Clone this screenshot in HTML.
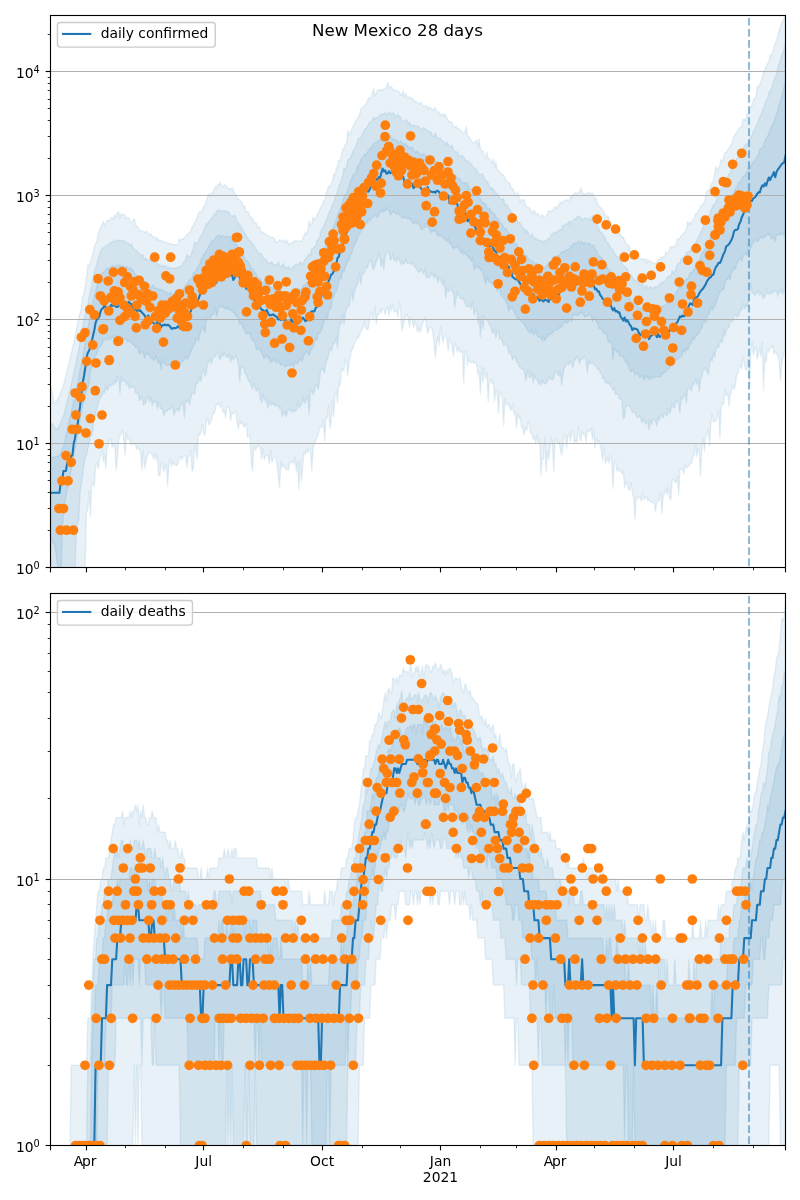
<!DOCTYPE html>
<html lang="en"><head><meta charset="utf-8"><title>New Mexico 28 days</title>
<style>html,body{margin:0;padding:0;background:#fff}svg{display:block;will-change:transform}</style></head>
<body>
<svg width="800" height="1200" viewBox="0 0 800 1200" font-family="'DejaVu Sans', 'Liberation Sans', sans-serif" font-size="13.89px" fill="#000">
<defs><clipPath id="cu"><rect x="50.5" y="15.5" width="735.0" height="552.0"/></clipPath><clipPath id="cl"><rect x="50.5" y="593.5" width="735.0" height="552.0"/></clipPath></defs>
<rect width="800" height="1200" fill="#fff"/>
<g clip-path="url(#cu)">
<path d="M50.5,384.9 L51.8,391.6 L53.1,397.4 L54.4,403.5 L55.6,401.9 L56.9,400.0 L58.2,398.6 L59.5,395.3 L60.8,392.4 L62.1,388.8 L63.4,385.7 L64.7,380.4 L65.9,375.7 L67.2,370.1 L68.5,364.9 L69.8,360.1 L71.1,354.2 L72.4,348.3 L73.7,342.8 L75.0,337.0 L76.2,331.1 L77.5,324.4 L78.8,316.8 L80.1,312.8 L81.4,306.0 L82.7,296.4 L84.0,293.0 L85.3,286.0 L86.5,278.2 L87.8,264.9 L89.1,266.0 L90.4,262.1 L91.7,257.3 L93.0,253.0 L94.3,247.9 L95.6,243.4 L96.8,241.6 L98.1,234.1 L99.4,230.3 L100.7,227.1 L102.0,224.9 L103.3,221.4 L104.6,226.2 L105.9,222.7 L107.1,220.3 L108.4,221.1 L109.7,220.0 L111.0,217.4 L112.3,217.4 L113.6,219.2 L114.9,214.7 L116.1,217.2 L117.4,213.0 L118.7,211.6 L120.0,218.0 L121.3,213.6 L122.6,215.3 L123.9,214.3 L125.2,216.1 L126.4,218.0 L127.7,217.3 L129.0,218.1 L130.3,221.8 L131.6,222.1 L132.9,220.4 L134.2,218.8 L135.5,223.9 L136.7,226.4 L138.0,226.7 L139.3,231.4 L140.6,230.0 L141.9,231.0 L143.2,231.4 L144.5,232.2 L145.8,231.8 L147.0,231.2 L148.3,233.2 L149.6,235.7 L150.9,233.6 L152.2,236.1 L153.5,237.6 L154.8,236.6 L156.1,240.3 L157.3,237.6 L158.6,240.2 L159.9,240.4 L161.2,241.0 L162.5,240.9 L163.8,241.6 L165.1,242.9 L166.3,242.1 L167.6,243.8 L168.9,243.3 L170.2,243.6 L171.5,244.1 L172.8,244.7 L174.1,245.0 L175.4,244.5 L176.6,245.3 L177.9,244.7 L179.2,238.8 L180.5,240.5 L181.8,239.3 L183.1,239.0 L184.4,237.2 L185.7,236.8 L186.9,234.3 L188.2,233.8 L189.5,231.8 L190.8,231.6 L192.1,226.4 L193.4,225.6 L194.7,222.9 L196.0,219.8 L197.2,217.7 L198.5,213.0 L199.8,211.6 L201.1,211.9 L202.4,210.8 L203.7,206.0 L205.0,206.1 L206.3,201.0 L207.5,197.0 L208.8,193.4 L210.1,196.6 L211.4,192.9 L212.7,193.3 L214.0,189.5 L215.3,186.6 L216.6,188.1 L217.8,184.3 L219.1,185.4 L220.4,182.1 L221.7,186.6 L223.0,187.2 L224.3,184.5 L225.6,185.5 L226.8,186.4 L228.1,188.8 L229.4,188.2 L230.7,189.8 L232.0,187.8 L233.3,190.1 L234.6,193.3 L235.9,195.2 L237.1,198.0 L238.4,198.8 L239.7,200.1 L241.0,201.6 L242.3,202.6 L243.6,206.5 L244.9,206.1 L246.2,212.5 L247.4,211.4 L248.7,212.9 L250.0,216.5 L251.3,217.4 L252.6,218.5 L253.9,222.1 L255.2,222.8 L256.5,223.3 L257.7,228.1 L259.0,226.6 L260.3,228.1 L261.6,233.2 L262.9,232.0 L264.2,232.8 L265.5,234.8 L266.8,235.0 L268.0,235.5 L269.3,236.8 L270.6,237.3 L271.9,236.9 L273.2,237.6 L274.5,239.1 L275.8,241.7 L277.0,241.9 L278.3,241.2 L279.6,239.8 L280.9,241.2 L282.2,240.0 L283.5,242.2 L284.8,239.6 L286.1,242.9 L287.3,240.3 L288.6,245.4 L289.9,242.9 L291.2,243.2 L292.5,243.3 L293.8,240.9 L295.1,240.7 L296.4,240.5 L297.6,240.8 L298.9,241.7 L300.2,240.7 L301.5,241.5 L302.8,238.8 L304.1,235.3 L305.4,232.4 L306.7,234.3 L307.9,229.6 L309.2,220.7 L310.5,226.4 L311.8,223.7 L313.1,217.0 L314.4,219.8 L315.7,218.7 L317.0,215.0 L318.2,212.9 L319.5,210.3 L320.8,206.5 L322.1,205.9 L323.4,200.7 L324.7,201.5 L326.0,193.8 L327.3,190.6 L328.5,186.1 L329.8,187.3 L331.1,183.6 L332.4,180.9 L333.7,173.5 L335.0,176.0 L336.3,168.3 L337.5,166.2 L338.8,160.1 L340.1,161.3 L341.4,155.2 L342.7,149.2 L344.0,148.4 L345.3,144.2 L346.6,143.7 L347.8,130.4 L349.1,135.8 L350.4,132.5 L351.7,129.1 L353.0,127.0 L354.3,122.9 L355.6,121.3 L356.9,119.2 L358.1,117.6 L359.4,115.3 L360.7,109.1 L362.0,107.7 L363.3,107.2 L364.6,105.3 L365.9,104.0 L367.2,101.2 L368.4,98.0 L369.7,98.0 L371.0,97.7 L372.3,94.2 L373.6,88.6 L374.9,96.0 L376.2,93.4 L377.5,90.2 L378.7,89.4 L380.0,90.5 L381.3,89.1 L382.6,90.7 L383.9,88.9 L385.2,88.3 L386.5,87.7 L387.8,82.3 L389.0,88.0 L390.3,87.6 L391.6,86.3 L392.9,89.8 L394.2,90.0 L395.5,90.2 L396.8,90.7 L398.0,91.6 L399.3,91.5 L400.6,94.8 L401.9,95.6 L403.2,90.7 L404.5,97.3 L405.8,93.5 L407.1,97.5 L408.3,97.8 L409.6,96.9 L410.9,97.9 L412.2,98.3 L413.5,99.7 L414.8,102.1 L416.1,101.2 L417.4,102.5 L418.6,103.8 L419.9,103.3 L421.2,102.3 L422.5,105.5 L423.8,105.9 L425.1,106.5 L426.4,105.1 L427.7,109.5 L428.9,106.7 L430.2,107.8 L431.5,108.7 L432.8,110.5 L434.1,108.4 L435.4,108.0 L436.7,111.2 L438.0,112.9 L439.2,112.1 L440.5,115.9 L441.8,113.7 L443.1,116.4 L444.4,113.8 L445.7,115.2 L447.0,118.5 L448.2,119.8 L449.5,121.9 L450.8,121.6 L452.1,122.5 L453.4,126.4 L454.7,127.7 L456.0,125.9 L457.3,128.6 L458.5,128.6 L459.8,129.8 L461.1,130.8 L462.4,132.4 L463.7,132.3 L465.0,132.2 L466.3,126.5 L467.6,136.1 L468.8,137.1 L470.1,138.2 L471.4,141.6 L472.7,142.8 L474.0,142.2 L475.3,142.7 L476.6,139.6 L477.9,147.0 L479.1,139.2 L480.4,149.3 L481.7,150.8 L483.0,150.8 L484.3,156.0 L485.6,158.4 L486.9,151.9 L488.2,158.3 L489.4,158.6 L490.7,161.3 L492.0,163.5 L493.3,158.5 L494.6,168.0 L495.9,161.5 L497.2,170.0 L498.5,170.3 L499.7,171.4 L501.0,173.6 L502.3,175.0 L503.6,174.8 L504.9,178.2 L506.2,180.0 L507.5,182.4 L508.7,181.9 L510.0,183.8 L511.3,188.1 L512.6,188.6 L513.9,191.1 L515.2,193.3 L516.5,195.7 L517.8,192.4 L519.0,197.1 L520.3,202.4 L521.6,199.5 L522.9,200.0 L524.2,199.7 L525.5,205.5 L526.8,206.7 L528.1,206.9 L529.3,208.0 L530.6,210.0 L531.9,213.5 L533.2,210.7 L534.5,210.8 L535.8,214.3 L537.1,213.9 L538.4,213.7 L539.6,216.6 L540.9,217.0 L542.2,214.3 L543.5,217.3 L544.8,217.4 L546.1,216.5 L547.4,214.1 L548.7,210.5 L549.9,211.5 L551.2,211.0 L552.5,210.8 L553.8,208.4 L555.1,206.8 L556.4,208.4 L557.7,206.8 L559.0,205.2 L560.2,202.1 L561.5,203.4 L562.8,201.1 L564.1,201.9 L565.4,200.6 L566.7,199.4 L568.0,200.7 L569.2,201.4 L570.5,196.0 L571.8,198.8 L573.1,194.5 L574.4,193.5 L575.7,192.4 L577.0,193.5 L578.3,192.5 L579.5,192.1 L580.8,188.1 L582.1,191.5 L583.4,194.6 L584.7,194.1 L586.0,193.8 L587.3,193.7 L588.6,192.4 L589.8,192.8 L591.1,194.2 L592.4,192.9 L593.7,195.8 L595.0,199.9 L596.3,198.3 L597.6,204.0 L598.9,206.1 L600.1,206.9 L601.4,208.8 L602.7,210.2 L604.0,211.9 L605.3,215.0 L606.6,216.9 L607.9,215.8 L609.2,219.5 L610.4,222.1 L611.7,225.0 L613.0,225.6 L614.3,228.8 L615.6,231.0 L616.9,229.5 L618.2,231.7 L619.4,234.8 L620.7,233.8 L622.0,237.8 L623.3,236.8 L624.6,240.4 L625.9,242.8 L627.2,244.7 L628.5,244.8 L629.7,247.5 L631.0,253.2 L632.3,251.4 L633.6,256.7 L634.9,256.3 L636.2,255.2 L637.5,254.2 L638.8,255.9 L640.0,259.0 L641.3,258.5 L642.6,259.7 L643.9,258.4 L645.2,259.6 L646.5,263.8 L647.8,258.9 L649.1,262.1 L650.3,261.0 L651.6,261.5 L652.9,262.4 L654.2,263.6 L655.5,263.5 L656.8,261.8 L658.1,259.9 L659.4,259.4 L660.6,256.9 L661.9,257.9 L663.2,256.3 L664.5,258.2 L665.8,251.4 L667.1,254.4 L668.4,253.1 L669.7,249.0 L670.9,246.3 L672.2,247.8 L673.5,246.2 L674.8,246.5 L676.1,245.2 L677.4,238.6 L678.7,239.4 L679.9,237.6 L681.2,235.5 L682.5,234.7 L683.8,232.7 L685.1,231.8 L686.4,228.6 L687.7,221.4 L689.0,224.4 L690.2,222.0 L691.5,223.9 L692.8,219.8 L694.1,219.4 L695.4,213.8 L696.7,214.3 L698.0,210.9 L699.3,210.4 L700.5,205.4 L701.8,205.5 L703.1,203.5 L704.4,202.3 L705.7,196.2 L707.0,191.1 L708.3,190.3 L709.6,189.1 L710.8,185.2 L712.1,182.5 L713.4,181.2 L714.7,173.5 L716.0,166.1 L717.3,170.9 L718.6,167.7 L719.9,164.7 L721.1,159.4 L722.4,161.3 L723.7,157.1 L725.0,152.4 L726.3,152.6 L727.6,150.1 L728.9,148.5 L730.1,145.4 L731.4,145.3 L732.7,139.9 L734.0,136.0 L735.3,134.7 L736.6,132.6 L737.9,130.4 L739.2,128.2 L740.4,127.6 L741.7,126.6 L743.0,119.4 L744.3,119.2 L745.6,120.9 L746.9,113.7 L748.2,114.6 L749.5,110.9 L750.7,106.4 L752.0,105.7 L753.3,100.1 L754.6,97.8 L755.9,97.7 L757.2,86.3 L758.5,87.6 L759.8,84.2 L761.0,81.2 L762.3,76.7 L763.6,71.8 L764.9,69.1 L766.2,66.8 L767.5,63.7 L768.8,61.6 L770.1,54.8 L771.3,56.7 L772.6,52.0 L773.9,47.4 L775.2,43.5 L776.5,39.7 L777.8,36.9 L779.1,30.0 L780.4,26.9 L781.6,22.8 L782.9,21.5 L784.2,17.8 L785.5,9.6 L785.5,352.2 L784.2,351.7 L782.9,358.0 L781.6,364.5 L780.4,381.6 L779.1,360.5 L777.8,355.4 L776.5,354.0 L775.2,351.5 L773.9,353.9 L772.6,345.4 L771.3,347.9 L770.1,347.5 L768.8,352.1 L767.5,349.0 L766.2,362.2 L764.9,356.8 L763.6,389.6 L762.3,342.4 L761.0,356.8 L759.8,348.6 L758.5,353.5 L757.2,359.0 L755.9,346.7 L754.6,348.5 L753.3,355.4 L752.0,341.6 L750.7,354.7 L749.5,388.6 L748.2,358.8 L746.9,369.9 L745.6,369.9 L744.3,363.8 L743.0,356.5 L741.7,369.1 L740.4,365.5 L739.2,367.1 L737.9,373.3 L736.6,375.2 L735.3,386.0 L734.0,389.2 L732.7,384.8 L731.4,391.5 L730.1,395.3 L728.9,406.3 L727.6,393.6 L726.3,396.1 L725.0,389.4 L723.7,404.2 L722.4,402.7 L721.1,408.7 L719.9,438.3 L718.6,410.5 L717.3,417.1 L716.0,420.2 L714.7,421.4 L713.4,422.1 L712.1,414.2 L710.8,425.3 L709.6,446.2 L708.3,428.4 L707.0,435.3 L705.7,437.0 L704.4,451.5 L703.1,438.1 L701.8,450.2 L700.5,476.2 L699.3,453.3 L698.0,448.4 L696.7,457.0 L695.4,443.8 L694.1,455.9 L692.8,457.3 L691.5,463.1 L690.2,463.6 L689.0,466.0 L687.7,466.3 L686.4,468.0 L685.1,464.8 L683.8,473.7 L682.5,469.0 L681.2,469.2 L679.9,469.5 L678.7,495.4 L677.4,476.5 L676.1,482.7 L674.8,481.9 L673.5,479.5 L672.2,479.9 L670.9,499.9 L669.7,498.1 L668.4,487.5 L667.1,494.8 L665.8,488.9 L664.5,493.8 L663.2,496.7 L661.9,513.5 L660.6,492.4 L659.4,500.0 L658.1,501.5 L656.8,502.5 L655.5,511.8 L654.2,503.3 L652.9,502.6 L651.6,502.2 L650.3,501.5 L649.1,498.7 L647.8,500.9 L646.5,496.9 L645.2,497.4 L643.9,499.8 L642.6,492.0 L641.3,501.5 L640.0,496.3 L638.8,498.1 L637.5,498.8 L636.2,495.9 L634.9,519.6 L633.6,498.4 L632.3,492.8 L631.0,482.7 L629.7,490.5 L628.5,489.5 L627.2,482.5 L625.9,483.0 L624.6,487.5 L623.3,471.8 L622.0,473.5 L620.7,470.9 L619.4,471.4 L618.2,468.2 L616.9,471.3 L615.6,462.0 L614.3,461.8 L613.0,488.8 L611.7,461.2 L610.4,455.1 L609.2,463.4 L607.9,456.9 L606.6,461.4 L605.3,462.7 L604.0,447.2 L602.7,460.5 L601.4,451.0 L600.1,445.4 L598.9,440.4 L597.6,442.9 L596.3,437.5 L595.0,448.4 L593.7,428.2 L592.4,440.0 L591.1,428.1 L589.8,430.8 L588.6,432.2 L587.3,429.5 L586.0,441.9 L584.7,433.7 L583.4,434.9 L582.1,430.6 L580.8,441.2 L579.5,435.4 L578.3,426.2 L577.0,442.2 L575.7,440.4 L574.4,442.9 L573.1,431.7 L571.8,431.9 L570.5,441.1 L569.2,433.6 L568.0,434.9 L566.7,448.0 L565.4,435.6 L564.1,434.4 L562.8,448.4 L561.5,454.9 L560.2,448.1 L559.0,442.4 L557.7,443.2 L556.4,439.9 L555.1,439.0 L553.8,472.2 L552.5,445.1 L551.2,437.1 L549.9,449.0 L548.7,459.2 L547.4,451.5 L546.1,472.3 L544.8,437.4 L543.5,459.7 L542.2,457.5 L540.9,475.6 L539.6,440.0 L538.4,443.1 L537.1,434.3 L535.8,443.9 L534.5,436.0 L533.2,439.5 L531.9,433.6 L530.6,433.2 L529.3,424.7 L528.1,422.1 L526.8,430.5 L525.5,427.1 L524.2,435.4 L522.9,428.1 L521.6,427.4 L520.3,416.2 L519.0,418.6 L517.8,414.0 L516.5,428.1 L515.2,411.8 L513.9,414.1 L512.6,404.0 L511.3,410.4 L510.0,408.5 L508.7,405.2 L507.5,403.1 L506.2,404.9 L504.9,399.0 L503.6,426.1 L502.3,397.0 L501.0,394.7 L499.7,390.7 L498.5,413.6 L497.2,392.0 L495.9,390.1 L494.6,401.0 L493.3,380.8 L492.0,384.1 L490.7,378.5 L489.4,382.1 L488.2,401.9 L486.9,372.8 L485.6,378.2 L484.3,367.6 L483.0,382.8 L481.7,365.6 L480.4,394.2 L479.1,371.5 L477.9,374.5 L476.6,364.2 L475.3,361.9 L474.0,363.4 L472.7,360.9 L471.4,362.8 L470.1,362.1 L468.8,358.3 L467.6,365.1 L466.3,351.1 L465.0,350.4 L463.7,383.4 L462.4,350.5 L461.1,352.4 L459.8,351.7 L458.5,347.4 L457.3,352.4 L456.0,346.2 L454.7,342.7 L453.4,356.4 L452.1,347.1 L450.8,341.2 L449.5,338.2 L448.2,351.3 L447.0,339.9 L445.7,335.1 L444.4,335.6 L443.1,342.7 L441.8,336.8 L440.5,326.2 L439.2,345.1 L438.0,336.7 L436.7,342.4 L435.4,358.0 L434.1,343.8 L432.8,332.6 L431.5,327.7 L430.2,327.0 L428.9,329.5 L427.7,333.3 L426.4,325.7 L425.1,317.0 L423.8,320.5 L422.5,323.9 L421.2,329.4 L419.9,332.2 L418.6,327.0 L417.4,331.8 L416.1,325.6 L414.8,320.8 L413.5,327.9 L412.2,320.2 L410.9,317.1 L409.6,327.6 L408.3,319.5 L407.1,314.5 L405.8,315.4 L404.5,320.6 L403.2,325.7 L401.9,331.4 L400.6,309.4 L399.3,301.2 L398.0,317.1 L396.8,310.5 L395.5,311.9 L394.2,312.0 L392.9,304.1 L391.6,311.2 L390.3,305.3 L389.0,315.1 L387.8,306.8 L386.5,310.2 L385.2,314.6 L383.9,309.3 L382.6,308.4 L381.3,313.3 L380.0,309.1 L378.7,315.0 L377.5,314.6 L376.2,324.1 L374.9,305.8 L373.6,320.1 L372.3,316.9 L371.0,312.5 L369.7,320.2 L368.4,328.2 L367.2,330.0 L365.9,328.3 L364.6,321.3 L363.3,327.5 L362.0,329.8 L360.7,331.8 L359.4,335.4 L358.1,338.5 L356.9,337.3 L355.6,341.6 L354.3,343.3 L353.0,348.7 L351.7,349.5 L350.4,355.3 L349.1,362.2 L347.8,376.3 L346.6,362.6 L345.3,358.9 L344.0,369.9 L342.7,371.0 L341.4,368.5 L340.1,385.9 L338.8,383.1 L337.5,403.0 L336.3,390.7 L335.0,394.6 L333.7,417.0 L332.4,399.7 L331.1,422.2 L329.8,428.1 L328.5,405.1 L327.3,418.5 L326.0,417.7 L324.7,441.4 L323.4,419.2 L322.1,427.2 L320.8,426.0 L319.5,428.7 L318.2,434.9 L317.0,437.2 L315.7,441.0 L314.4,443.6 L313.1,447.7 L311.8,471.0 L310.5,450.4 L309.2,448.9 L307.9,452.9 L306.7,449.4 L305.4,454.8 L304.1,451.6 L302.8,465.9 L301.5,481.4 L300.2,459.7 L298.9,489.2 L297.6,461.4 L296.4,472.2 L295.1,457.1 L293.8,464.3 L292.5,460.5 L291.2,462.8 L289.9,461.4 L288.6,469.9 L287.3,468.8 L286.1,469.7 L284.8,466.9 L283.5,464.0 L282.2,467.5 L280.9,461.4 L279.6,488.0 L278.3,476.4 L277.0,463.8 L275.8,456.2 L274.5,457.1 L273.2,458.4 L271.9,462.5 L270.6,450.9 L269.3,464.1 L268.0,454.9 L266.8,455.5 L265.5,455.9 L264.2,459.9 L262.9,448.6 L261.6,459.3 L260.3,447.6 L259.0,445.8 L257.7,446.0 L256.5,448.2 L255.2,450.2 L253.9,445.8 L252.6,471.0 L251.3,464.1 L250.0,435.1 L248.7,435.8 L247.4,437.0 L246.2,423.3 L244.9,426.6 L243.6,426.8 L242.3,422.3 L241.0,424.2 L239.7,420.4 L238.4,429.2 L237.1,422.7 L235.9,411.9 L234.6,411.3 L233.3,414.2 L232.0,412.7 L230.7,420.2 L229.4,409.4 L228.1,406.2 L226.8,407.7 L225.6,417.9 L224.3,410.2 L223.0,412.4 L221.7,401.6 L220.4,407.8 L219.1,403.3 L217.8,404.9 L216.6,404.1 L215.3,409.9 L214.0,414.1 L212.7,414.0 L211.4,421.2 L210.1,422.9 L208.8,424.8 L207.5,417.7 L206.3,421.6 L205.0,435.0 L203.7,433.3 L202.4,424.7 L201.1,431.1 L199.8,434.9 L198.5,433.7 L197.2,459.0 L196.0,450.5 L194.7,443.7 L193.4,467.8 L192.1,471.8 L190.8,450.5 L189.5,455.3 L188.2,457.4 L186.9,467.8 L185.7,455.8 L184.4,456.2 L183.1,456.4 L181.8,459.5 L180.5,456.5 L179.2,458.7 L177.9,463.9 L176.6,465.7 L175.4,464.6 L174.1,464.7 L172.8,460.8 L171.5,466.5 L170.2,458.3 L168.9,465.9 L167.6,486.0 L166.3,464.5 L165.1,467.4 L163.8,472.2 L162.5,462.3 L161.2,464.1 L159.9,475.5 L158.6,475.3 L157.3,455.3 L156.1,460.1 L154.8,453.4 L153.5,459.0 L152.2,454.5 L150.9,453.0 L149.6,452.3 L148.3,453.4 L147.0,456.4 L145.8,462.9 L144.5,468.3 L143.2,451.2 L141.9,470.1 L140.6,452.5 L139.3,448.9 L138.0,447.7 L136.7,449.5 L135.5,444.3 L134.2,443.9 L132.9,443.0 L131.6,445.5 L130.3,442.1 L129.0,438.9 L127.7,439.5 L126.4,432.9 L125.2,455.1 L123.9,441.9 L122.6,429.9 L121.3,433.8 L120.0,436.3 L118.7,439.6 L117.4,459.8 L116.1,470.0 L114.9,447.7 L113.6,443.6 L112.3,447.9 L111.0,440.3 L109.7,438.6 L108.4,445.6 L107.1,447.8 L105.9,468.9 L104.6,455.1 L103.3,461.8 L102.0,449.0 L100.7,454.8 L99.4,460.9 L98.1,468.7 L96.8,462.3 L95.6,466.1 L94.3,486.5 L93.0,481.4 L91.7,486.0 L90.4,517.2 L89.1,491.0 L87.8,509.8 L86.5,511.8 L85.3,560.6 L84.0,595.2 L82.7,603.1 L81.4,603.6 L80.1,599.4 L78.8,624.2 L77.5,602.5 L76.2,599.8 L75.0,599.9 L73.7,600.9 L72.4,599.9 L71.1,599.4 L69.8,600.5 L68.5,600.7 L67.2,600.9 L65.9,599.9 L64.7,600.8 L63.4,599.5 L62.1,600.3 L60.8,599.4 L59.5,599.0 L58.2,602.4 L56.9,600.5 L55.6,599.9 L54.4,600.2 L53.1,602.5 L51.8,600.3 L50.5,600.7Z" fill="#1f77b4" fill-opacity="0.1" stroke="#1f77b4" stroke-opacity="0.1" stroke-width="1.39" stroke-linejoin="round"/>
<path d="M50.5,422.2 L51.8,423.5 L53.1,425.3 L54.4,426.8 L55.6,428.4 L56.9,429.8 L58.2,427.9 L59.5,425.0 L60.8,422.0 L62.1,419.2 L63.4,416.1 L64.7,411.7 L65.9,406.3 L67.2,401.1 L68.5,396.1 L69.8,390.8 L71.1,385.2 L72.4,379.4 L73.7,373.6 L75.0,367.9 L76.2,361.9 L77.5,355.1 L78.8,350.0 L80.1,341.5 L81.4,334.4 L82.7,327.4 L84.0,318.0 L85.3,315.2 L86.5,309.9 L87.8,305.2 L89.1,297.2 L90.4,292.1 L91.7,285.5 L93.0,279.2 L94.3,272.0 L95.6,268.0 L96.8,264.1 L98.1,258.9 L99.4,255.3 L100.7,250.8 L102.0,249.2 L103.3,247.6 L104.6,247.2 L105.9,246.1 L107.1,245.1 L108.4,245.4 L109.7,243.0 L111.0,243.0 L112.3,241.1 L113.6,241.4 L114.9,241.8 L116.1,239.8 L117.4,240.8 L118.7,240.5 L120.0,240.0 L121.3,240.4 L122.6,241.8 L123.9,240.6 L125.2,241.5 L126.4,242.5 L127.7,243.3 L129.0,243.4 L130.3,246.0 L131.6,243.8 L132.9,248.0 L134.2,249.0 L135.5,250.4 L136.7,250.5 L138.0,252.4 L139.3,253.4 L140.6,256.3 L141.9,254.5 L143.2,255.6 L144.5,259.6 L145.8,257.8 L147.0,260.7 L148.3,259.8 L149.6,259.1 L150.9,260.3 L152.2,262.4 L153.5,262.3 L154.8,258.6 L156.1,262.9 L157.3,263.0 L158.6,266.4 L159.9,264.7 L161.2,265.7 L162.5,267.4 L163.8,265.2 L165.1,267.1 L166.3,266.4 L167.6,268.2 L168.9,267.5 L170.2,267.6 L171.5,268.5 L172.8,268.4 L174.1,268.2 L175.4,268.7 L176.6,267.2 L177.9,267.5 L179.2,267.3 L180.5,266.0 L181.8,266.1 L183.1,262.4 L184.4,261.9 L185.7,259.4 L186.9,254.6 L188.2,256.3 L189.5,257.2 L190.8,256.1 L192.1,251.2 L193.4,249.7 L194.7,241.9 L196.0,243.7 L197.2,242.9 L198.5,241.4 L199.8,237.5 L201.1,235.9 L202.4,233.7 L203.7,229.9 L205.0,228.1 L206.3,222.8 L207.5,224.6 L208.8,221.7 L210.1,220.2 L211.4,218.1 L212.7,217.0 L214.0,214.0 L215.3,214.8 L216.6,211.5 L217.8,209.9 L219.1,210.5 L220.4,210.3 L221.7,211.4 L223.0,210.5 L224.3,210.6 L225.6,211.3 L226.8,211.5 L228.1,212.0 L229.4,213.0 L230.7,215.9 L232.0,215.9 L233.3,215.9 L234.6,215.0 L235.9,217.8 L237.1,220.9 L238.4,223.1 L239.7,225.4 L241.0,226.4 L242.3,229.2 L243.6,230.7 L244.9,233.6 L246.2,235.1 L247.4,237.8 L248.7,239.6 L250.0,241.1 L251.3,241.4 L252.6,244.1 L253.9,245.1 L255.2,248.4 L256.5,249.4 L257.7,252.0 L259.0,253.3 L260.3,254.8 L261.6,253.3 L262.9,257.4 L264.2,259.9 L265.5,258.5 L266.8,261.0 L268.0,262.8 L269.3,263.1 L270.6,263.4 L271.9,261.5 L273.2,264.9 L274.5,264.5 L275.8,264.5 L277.0,265.3 L278.3,261.7 L279.6,265.6 L280.9,267.6 L282.2,265.6 L283.5,263.5 L284.8,268.0 L286.1,267.0 L287.3,268.4 L288.6,266.2 L289.9,269.6 L291.2,268.7 L292.5,267.0 L293.8,266.8 L295.1,264.9 L296.4,264.1 L297.6,264.4 L298.9,264.6 L300.2,262.1 L301.5,263.1 L302.8,264.0 L304.1,261.0 L305.4,258.8 L306.7,257.1 L307.9,255.6 L309.2,253.7 L310.5,255.6 L311.8,248.6 L313.1,248.4 L314.4,246.5 L315.7,246.1 L317.0,240.5 L318.2,239.6 L319.5,237.7 L320.8,232.0 L322.1,228.3 L323.4,227.0 L324.7,224.8 L326.0,220.3 L327.3,217.5 L328.5,214.0 L329.8,210.7 L331.1,209.5 L332.4,204.1 L333.7,202.6 L335.0,197.4 L336.3,194.9 L337.5,191.6 L338.8,185.8 L340.1,183.7 L341.4,180.3 L342.7,176.0 L344.0,167.6 L345.3,169.9 L346.6,166.7 L347.8,159.7 L349.1,159.6 L350.4,157.7 L351.7,154.7 L353.0,151.1 L354.3,148.9 L355.6,147.1 L356.9,143.4 L358.1,139.2 L359.4,138.1 L360.7,138.9 L362.0,134.4 L363.3,133.1 L364.6,129.1 L365.9,129.4 L367.2,126.6 L368.4,124.4 L369.7,122.5 L371.0,122.7 L372.3,120.4 L373.6,117.2 L374.9,119.4 L376.2,117.8 L377.5,117.9 L378.7,116.4 L380.0,114.9 L381.3,114.7 L382.6,113.4 L383.9,115.0 L385.2,113.0 L386.5,113.3 L387.8,115.9 L389.0,111.7 L390.3,113.0 L391.6,114.2 L392.9,112.9 L394.2,114.1 L395.5,117.9 L396.8,115.6 L398.0,114.2 L399.3,117.2 L400.6,117.3 L401.9,120.7 L403.2,121.2 L404.5,121.7 L405.8,119.5 L407.1,120.4 L408.3,124.8 L409.6,121.8 L410.9,125.7 L412.2,125.6 L413.5,124.8 L414.8,126.1 L416.1,126.0 L417.4,126.4 L418.6,126.0 L419.9,128.4 L421.2,129.3 L422.5,130.0 L423.8,127.2 L425.1,129.2 L426.4,129.7 L427.7,131.0 L428.9,132.0 L430.2,131.3 L431.5,133.6 L432.8,135.8 L434.1,136.6 L435.4,132.8 L436.7,137.6 L438.0,138.0 L439.2,138.4 L440.5,138.0 L441.8,141.4 L443.1,141.4 L444.4,141.7 L445.7,144.6 L447.0,142.2 L448.2,144.1 L449.5,146.1 L450.8,147.2 L452.1,144.9 L453.4,149.5 L454.7,151.0 L456.0,152.2 L457.3,151.8 L458.5,155.6 L459.8,156.2 L461.1,155.1 L462.4,155.7 L463.7,157.9 L465.0,158.1 L466.3,161.9 L467.6,160.5 L468.8,162.0 L470.1,162.9 L471.4,164.0 L472.7,166.8 L474.0,167.8 L475.3,168.4 L476.6,169.9 L477.9,172.9 L479.1,174.0 L480.4,174.3 L481.7,174.0 L483.0,174.5 L484.3,178.4 L485.6,180.5 L486.9,181.3 L488.2,183.1 L489.4,185.6 L490.7,189.7 L492.0,187.3 L493.3,189.7 L494.6,190.6 L495.9,193.1 L497.2,193.9 L498.5,195.0 L499.7,198.2 L501.0,199.2 L502.3,199.4 L503.6,198.6 L504.9,205.5 L506.2,204.4 L507.5,205.6 L508.7,208.3 L510.0,210.0 L511.3,211.7 L512.6,213.6 L513.9,216.3 L515.2,216.1 L516.5,219.4 L517.8,222.7 L519.0,222.2 L520.3,223.4 L521.6,225.4 L522.9,228.5 L524.2,228.2 L525.5,233.6 L526.8,229.9 L528.1,232.5 L529.3,236.4 L530.6,237.8 L531.9,233.7 L533.2,236.9 L534.5,238.7 L535.8,238.3 L537.1,239.6 L538.4,240.2 L539.6,240.2 L540.9,240.6 L542.2,242.4 L543.5,241.0 L544.8,241.0 L546.1,241.8 L547.4,238.9 L548.7,238.3 L549.9,238.9 L551.2,234.4 L552.5,234.5 L553.8,232.3 L555.1,233.6 L556.4,232.3 L557.7,230.7 L559.0,230.4 L560.2,229.4 L561.5,230.0 L562.8,225.3 L564.1,226.2 L565.4,224.5 L566.7,223.2 L568.0,224.2 L569.2,220.8 L570.5,224.5 L571.8,221.2 L573.1,220.4 L574.4,218.6 L575.7,219.6 L577.0,217.0 L578.3,215.7 L579.5,217.7 L580.8,217.3 L582.1,220.5 L583.4,219.0 L584.7,217.8 L586.0,219.1 L587.3,218.2 L588.6,219.1 L589.8,218.4 L591.1,220.8 L592.4,215.5 L593.7,219.9 L595.0,222.4 L596.3,222.7 L597.6,227.2 L598.9,228.2 L600.1,232.7 L601.4,232.0 L602.7,233.8 L604.0,237.1 L605.3,237.5 L606.6,242.0 L607.9,243.1 L609.2,244.5 L610.4,247.7 L611.7,249.1 L613.0,249.4 L614.3,252.7 L615.6,255.2 L616.9,256.3 L618.2,257.3 L619.4,260.0 L620.7,260.5 L622.0,263.7 L623.3,265.9 L624.6,265.9 L625.9,267.9 L627.2,268.5 L628.5,273.2 L629.7,274.3 L631.0,274.4 L632.3,276.8 L633.6,279.2 L634.9,280.7 L636.2,280.0 L637.5,281.7 L638.8,283.5 L640.0,284.0 L641.3,284.8 L642.6,284.0 L643.9,288.6 L645.2,287.0 L646.5,285.4 L647.8,289.0 L649.1,287.6 L650.3,286.4 L651.6,288.7 L652.9,287.6 L654.2,287.7 L655.5,286.1 L656.8,286.5 L658.1,286.4 L659.4,284.5 L660.6,283.7 L661.9,282.0 L663.2,282.8 L664.5,281.5 L665.8,280.7 L667.1,277.4 L668.4,275.9 L669.7,276.6 L670.9,276.6 L672.2,270.6 L673.5,273.3 L674.8,271.5 L676.1,268.5 L677.4,264.1 L678.7,263.2 L679.9,262.9 L681.2,258.6 L682.5,259.3 L683.8,256.1 L685.1,256.1 L686.4,252.2 L687.7,251.8 L689.0,251.5 L690.2,251.2 L691.5,246.4 L692.8,245.3 L694.1,245.2 L695.4,243.1 L696.7,240.5 L698.0,238.1 L699.3,235.5 L700.5,232.8 L701.8,230.1 L703.1,228.1 L704.4,220.4 L705.7,222.3 L707.0,219.9 L708.3,215.9 L709.6,214.8 L710.8,210.7 L712.1,208.3 L713.4,204.6 L714.7,204.1 L716.0,202.4 L717.3,196.2 L718.6,195.0 L719.9,190.1 L721.1,188.6 L722.4,187.2 L723.7,183.7 L725.0,182.8 L726.3,180.1 L727.6,176.6 L728.9,174.0 L730.1,173.5 L731.4,168.4 L732.7,166.3 L734.0,163.4 L735.3,163.8 L736.6,159.3 L737.9,157.4 L739.2,156.1 L740.4,152.1 L741.7,151.3 L743.0,148.7 L744.3,146.4 L745.6,144.2 L746.9,144.6 L748.2,142.8 L749.5,139.5 L750.7,136.8 L752.0,135.5 L753.3,131.5 L754.6,130.1 L755.9,126.6 L757.2,123.5 L758.5,120.2 L759.8,116.7 L761.0,114.6 L762.3,110.9 L763.6,108.7 L764.9,103.8 L766.2,100.7 L767.5,98.7 L768.8,92.7 L770.1,91.5 L771.3,88.4 L772.6,85.0 L773.9,80.6 L775.2,76.9 L776.5,74.2 L777.8,66.9 L779.1,64.4 L780.4,59.6 L781.6,56.1 L782.9,52.5 L784.2,48.3 L785.5,42.1 L785.5,290.4 L784.2,289.4 L782.9,294.6 L781.6,287.8 L780.4,292.8 L779.1,289.8 L777.8,296.6 L776.5,290.1 L775.2,290.9 L773.9,290.7 L772.6,293.3 L771.3,293.4 L770.1,292.3 L768.8,294.2 L767.5,294.0 L766.2,288.1 L764.9,296.8 L763.6,298.7 L762.3,296.1 L761.0,292.6 L759.8,294.9 L758.5,290.8 L757.2,292.4 L755.9,294.0 L754.6,295.1 L753.3,293.1 L752.0,292.8 L750.7,282.7 L749.5,294.6 L748.2,304.0 L746.9,307.6 L745.6,304.4 L744.3,309.0 L743.0,303.4 L741.7,310.6 L740.4,308.7 L739.2,314.1 L737.9,316.1 L736.6,316.7 L735.3,314.3 L734.0,315.3 L732.7,322.0 L731.4,321.6 L730.1,320.5 L728.9,327.6 L727.6,328.5 L726.3,330.0 L725.0,336.7 L723.7,329.5 L722.4,342.5 L721.1,340.1 L719.9,343.2 L718.6,347.7 L717.3,345.8 L716.0,350.1 L714.7,356.9 L713.4,352.8 L712.1,361.3 L710.8,358.4 L709.6,365.2 L708.3,374.9 L707.0,371.1 L705.7,370.0 L704.4,368.1 L703.1,370.7 L701.8,376.8 L700.5,379.3 L699.3,391.6 L698.0,379.2 L696.7,384.6 L695.4,378.8 L694.1,384.5 L692.8,383.9 L691.5,390.9 L690.2,389.0 L689.0,388.0 L687.7,389.3 L686.4,403.5 L685.1,393.3 L683.8,396.3 L682.5,399.7 L681.2,397.2 L679.9,413.4 L678.7,404.0 L677.4,401.6 L676.1,400.3 L674.8,406.7 L673.5,408.1 L672.2,402.4 L670.9,409.6 L669.7,413.6 L668.4,408.3 L667.1,416.0 L665.8,413.7 L664.5,413.3 L663.2,417.9 L661.9,416.3 L660.6,415.2 L659.4,420.6 L658.1,416.5 L656.8,426.2 L655.5,421.2 L654.2,419.7 L652.9,418.4 L651.6,425.0 L650.3,420.1 L649.1,430.1 L647.8,420.8 L646.5,423.5 L645.2,423.9 L643.9,417.9 L642.6,423.1 L641.3,421.2 L640.0,415.1 L638.8,416.8 L637.5,418.1 L636.2,415.2 L634.9,412.5 L633.6,412.6 L632.3,412.3 L631.0,409.3 L629.7,405.1 L628.5,405.6 L627.2,405.8 L625.9,406.5 L624.6,417.2 L623.3,418.9 L622.0,399.8 L620.7,399.3 L619.4,398.5 L618.2,394.6 L616.9,393.6 L615.6,394.8 L614.3,387.4 L613.0,390.1 L611.7,387.6 L610.4,386.2 L609.2,383.2 L607.9,384.0 L606.6,382.1 L605.3,382.9 L604.0,377.4 L602.7,379.2 L601.4,373.7 L600.1,373.0 L598.9,368.2 L597.6,369.5 L596.3,366.8 L595.0,364.8 L593.7,364.4 L592.4,362.0 L591.1,362.9 L589.8,364.2 L588.6,360.7 L587.3,372.7 L586.0,360.6 L584.7,356.4 L583.4,357.6 L582.1,359.8 L580.8,358.3 L579.5,363.9 L578.3,359.3 L577.0,355.3 L575.7,359.9 L574.4,359.5 L573.1,368.2 L571.8,363.6 L570.5,361.2 L569.2,364.9 L568.0,362.5 L566.7,364.1 L565.4,366.2 L564.1,368.4 L562.8,375.9 L561.5,385.3 L560.2,370.6 L559.0,375.7 L557.7,375.1 L556.4,371.6 L555.1,371.7 L553.8,377.9 L552.5,379.9 L551.2,379.7 L549.9,377.9 L548.7,377.4 L547.4,381.5 L546.1,383.2 L544.8,384.1 L543.5,383.1 L542.2,379.6 L540.9,385.5 L539.6,381.1 L538.4,384.0 L537.1,379.0 L535.8,378.9 L534.5,374.1 L533.2,383.0 L531.9,371.5 L530.6,377.6 L529.3,377.6 L528.1,369.4 L526.8,376.6 L525.5,380.6 L524.2,370.2 L522.9,369.0 L521.6,368.8 L520.3,367.5 L519.0,366.3 L517.8,361.9 L516.5,362.3 L515.2,357.2 L513.9,357.2 L512.6,360.3 L511.3,355.0 L510.0,351.2 L508.7,353.6 L507.5,345.4 L506.2,344.9 L504.9,343.6 L503.6,345.6 L502.3,340.8 L501.0,337.5 L499.7,339.2 L498.5,331.2 L497.2,330.9 L495.9,337.8 L494.6,329.1 L493.3,332.8 L492.0,332.4 L490.7,325.0 L489.4,325.2 L488.2,321.4 L486.9,320.1 L485.6,317.7 L484.3,315.5 L483.0,329.2 L481.7,315.4 L480.4,337.1 L479.1,317.3 L477.9,323.2 L476.6,308.4 L475.3,310.5 L474.0,315.5 L472.7,300.2 L471.4,308.6 L470.1,304.2 L468.8,306.9 L467.6,306.5 L466.3,306.2 L465.0,302.6 L463.7,300.4 L462.4,297.7 L461.1,298.7 L459.8,298.3 L458.5,294.8 L457.3,291.4 L456.0,299.3 L454.7,307.4 L453.4,292.3 L452.1,291.3 L450.8,286.7 L449.5,290.2 L448.2,291.8 L447.0,287.7 L445.7,298.5 L444.4,280.3 L443.1,285.8 L441.8,282.7 L440.5,279.6 L439.2,277.0 L438.0,283.1 L436.7,278.3 L435.4,273.9 L434.1,278.3 L432.8,274.6 L431.5,272.8 L430.2,276.9 L428.9,277.8 L427.7,276.5 L426.4,277.9 L425.1,268.7 L423.8,273.9 L422.5,271.6 L421.2,268.8 L419.9,272.2 L418.6,271.9 L417.4,270.7 L416.1,268.7 L414.8,266.3 L413.5,265.3 L412.2,262.1 L410.9,264.8 L409.6,263.0 L408.3,262.8 L407.1,263.5 L405.8,258.9 L404.5,263.4 L403.2,264.2 L401.9,261.2 L400.6,264.3 L399.3,259.4 L398.0,257.4 L396.8,262.0 L395.5,257.6 L394.2,261.3 L392.9,253.7 L391.6,258.8 L390.3,260.4 L389.0,252.8 L387.8,252.0 L386.5,253.2 L385.2,256.3 L383.9,269.9 L382.6,259.4 L381.3,266.8 L380.0,258.8 L378.7,251.9 L377.5,259.1 L376.2,261.5 L374.9,265.9 L373.6,270.0 L372.3,267.5 L371.0,260.1 L369.7,261.3 L368.4,264.2 L367.2,268.5 L365.9,266.7 L364.6,271.6 L363.3,274.2 L362.0,273.8 L360.7,284.3 L359.4,273.0 L358.1,282.8 L356.9,285.7 L355.6,287.8 L354.3,293.3 L353.0,301.4 L351.7,289.6 L350.4,297.3 L349.1,306.1 L347.8,306.2 L346.6,308.0 L345.3,314.4 L344.0,324.2 L342.7,314.8 L341.4,323.8 L340.1,322.0 L338.8,331.7 L337.5,348.0 L336.3,337.2 L335.0,342.8 L333.7,342.8 L332.4,348.1 L331.1,351.0 L329.8,347.7 L328.5,355.9 L327.3,359.9 L326.0,361.9 L324.7,372.7 L323.4,371.2 L322.1,368.1 L320.8,369.1 L319.5,380.3 L318.2,389.6 L317.0,385.4 L315.7,385.5 L314.4,391.4 L313.1,394.3 L311.8,390.8 L310.5,391.0 L309.2,414.4 L307.9,399.4 L306.7,395.7 L305.4,402.8 L304.1,402.9 L302.8,396.5 L301.5,404.8 L300.2,405.9 L298.9,408.2 L297.6,401.1 L296.4,410.1 L295.1,411.5 L293.8,409.7 L292.5,411.5 L291.2,412.1 L289.9,409.1 L288.6,410.1 L287.3,411.6 L286.1,416.9 L284.8,411.0 L283.5,414.0 L282.2,416.6 L280.9,407.4 L279.6,408.8 L278.3,405.4 L277.0,404.7 L275.8,406.5 L274.5,403.9 L273.2,404.9 L271.9,402.8 L270.6,405.9 L269.3,399.9 L268.0,408.1 L266.8,403.1 L265.5,400.3 L264.2,399.6 L262.9,394.0 L261.6,402.7 L260.3,398.9 L259.0,390.4 L257.7,387.9 L256.5,391.5 L255.2,387.7 L253.9,383.0 L252.6,388.9 L251.3,386.1 L250.0,381.9 L248.7,381.1 L247.4,378.2 L246.2,374.2 L244.9,373.4 L243.6,367.0 L242.3,367.5 L241.0,365.7 L239.7,382.1 L238.4,364.4 L237.1,359.4 L235.9,355.0 L234.6,358.2 L233.3,360.2 L232.0,356.3 L230.7,362.2 L229.4,353.7 L228.1,357.8 L226.8,356.5 L225.6,356.7 L224.3,352.1 L223.0,356.3 L221.7,353.7 L220.4,359.6 L219.1,358.2 L217.8,351.5 L216.6,353.0 L215.3,356.7 L214.0,355.4 L212.7,358.0 L211.4,363.7 L210.1,358.4 L208.8,362.3 L207.5,363.4 L206.3,373.2 L205.0,376.0 L203.7,369.3 L202.4,371.1 L201.1,381.6 L199.8,375.6 L198.5,381.9 L197.2,383.3 L196.0,383.5 L194.7,394.2 L193.4,393.3 L192.1,393.7 L190.8,397.2 L189.5,405.0 L188.2,399.7 L186.9,401.6 L185.7,400.8 L184.4,417.8 L183.1,405.8 L181.8,401.7 L180.5,405.5 L179.2,411.3 L177.9,408.9 L176.6,410.6 L175.4,410.0 L174.1,415.8 L172.8,407.1 L171.5,408.1 L170.2,409.4 L168.9,408.8 L167.6,411.1 L166.3,410.8 L165.1,412.3 L163.8,415.8 L162.5,408.7 L161.2,409.3 L159.9,406.0 L158.6,402.9 L157.3,409.0 L156.1,401.2 L154.8,402.5 L153.5,400.9 L152.2,405.5 L150.9,397.0 L149.6,401.8 L148.3,396.5 L147.0,397.9 L145.8,403.5 L144.5,403.8 L143.2,405.0 L141.9,395.7 L140.6,399.9 L139.3,400.6 L138.0,392.0 L136.7,393.2 L135.5,393.0 L134.2,387.3 L132.9,386.5 L131.6,387.4 L130.3,388.1 L129.0,388.2 L127.7,381.7 L126.4,385.0 L125.2,380.5 L123.9,381.3 L122.6,381.6 L121.3,376.3 L120.0,393.4 L118.7,380.3 L117.4,376.5 L116.1,383.2 L114.9,380.4 L113.6,384.8 L112.3,384.1 L111.0,386.1 L109.7,383.6 L108.4,388.2 L107.1,390.5 L105.9,385.5 L104.6,393.1 L103.3,392.1 L102.0,395.7 L100.7,397.5 L99.4,399.2 L98.1,404.5 L96.8,407.5 L95.6,415.6 L94.3,415.3 L93.0,429.0 L91.7,436.3 L90.4,434.9 L89.1,443.3 L87.8,448.9 L86.5,455.3 L85.3,458.0 L84.0,462.7 L82.7,474.6 L81.4,483.8 L80.1,492.4 L78.8,520.4 L77.5,523.7 L76.2,536.1 L75.0,569.0 L73.7,602.0 L72.4,599.7 L71.1,600.0 L69.8,600.1 L68.5,600.7 L67.2,598.9 L65.9,601.1 L64.7,600.6 L63.4,600.8 L62.1,599.5 L60.8,599.3 L59.5,599.4 L58.2,600.2 L56.9,599.7 L55.6,600.4 L54.4,599.6 L53.1,600.9 L51.8,600.5 L50.5,600.1Z" fill="#1f77b4" fill-opacity="0.1" stroke="#1f77b4" stroke-opacity="0.1" stroke-width="1.39" stroke-linejoin="round"/>
<path d="M50.5,457.7 L51.8,457.3 L53.1,457.3 L54.4,457.0 L55.6,456.9 L56.9,456.2 L58.2,456.5 L59.5,455.0 L60.8,452.4 L62.1,449.4 L63.4,447.2 L64.7,441.7 L65.9,435.8 L67.2,430.5 L68.5,424.2 L69.8,418.5 L71.1,412.6 L72.4,406.9 L73.7,401.3 L75.0,395.4 L76.2,389.7 L77.5,383.3 L78.8,376.7 L80.1,369.7 L81.4,363.7 L82.7,356.2 L84.0,348.9 L85.3,340.7 L86.5,335.6 L87.8,328.8 L89.1,321.3 L90.4,315.1 L91.7,308.4 L93.0,300.9 L94.3,297.0 L95.6,291.0 L96.8,286.2 L98.1,282.1 L99.4,280.7 L100.7,275.6 L102.0,272.7 L103.3,272.7 L104.6,270.9 L105.9,270.2 L107.1,267.8 L108.4,268.4 L109.7,268.3 L111.0,267.3 L112.3,265.4 L113.6,265.9 L114.9,267.4 L116.1,267.5 L117.4,264.5 L118.7,266.7 L120.0,265.0 L121.3,266.1 L122.6,265.5 L123.9,266.8 L125.2,269.0 L126.4,265.8 L127.7,267.8 L129.0,268.6 L130.3,267.5 L131.6,269.3 L132.9,270.1 L134.2,272.8 L135.5,274.0 L136.7,275.2 L138.0,277.8 L139.3,277.7 L140.6,279.3 L141.9,280.9 L143.2,281.8 L144.5,281.2 L145.8,282.9 L147.0,282.9 L148.3,283.6 L149.6,284.7 L150.9,288.3 L152.2,285.3 L153.5,285.5 L154.8,287.7 L156.1,288.5 L157.3,287.7 L158.6,290.5 L159.9,288.7 L161.2,290.0 L162.5,289.7 L163.8,291.5 L165.1,291.7 L166.3,291.8 L167.6,293.9 L168.9,293.5 L170.2,291.8 L171.5,293.7 L172.8,294.2 L174.1,293.0 L175.4,291.9 L176.6,293.1 L177.9,292.8 L179.2,291.9 L180.5,290.6 L181.8,291.5 L183.1,288.4 L184.4,287.2 L185.7,285.3 L186.9,284.0 L188.2,282.8 L189.5,279.6 L190.8,279.4 L192.1,277.2 L193.4,273.1 L194.7,272.1 L196.0,270.4 L197.2,268.0 L198.5,265.2 L199.8,264.0 L201.1,259.2 L202.4,257.3 L203.7,253.7 L205.0,253.5 L206.3,250.6 L207.5,248.8 L208.8,245.8 L210.1,244.2 L211.4,242.1 L212.7,240.4 L214.0,240.5 L215.3,237.7 L216.6,236.6 L217.8,235.8 L219.1,234.7 L220.4,237.0 L221.7,235.9 L223.0,235.8 L224.3,236.7 L225.6,237.4 L226.8,235.9 L228.1,236.5 L229.4,236.3 L230.7,239.6 L232.0,241.7 L233.3,239.9 L234.6,242.4 L235.9,244.8 L237.1,245.2 L238.4,247.8 L239.7,251.5 L241.0,251.7 L242.3,255.4 L243.6,255.1 L244.9,258.8 L246.2,261.0 L247.4,260.8 L248.7,262.6 L250.0,265.8 L251.3,268.6 L252.6,268.7 L253.9,270.9 L255.2,272.6 L256.5,274.9 L257.7,277.7 L259.0,278.4 L260.3,278.1 L261.6,281.6 L262.9,282.4 L264.2,283.5 L265.5,283.5 L266.8,284.9 L268.0,286.4 L269.3,284.8 L270.6,287.1 L271.9,287.6 L273.2,289.1 L274.5,290.4 L275.8,289.0 L277.0,290.3 L278.3,290.2 L279.6,293.3 L280.9,290.0 L282.2,292.2 L283.5,291.9 L284.8,294.1 L286.1,293.2 L287.3,293.2 L288.6,292.3 L289.9,292.4 L291.2,294.9 L292.5,292.2 L293.8,291.8 L295.1,291.7 L296.4,290.6 L297.6,289.6 L298.9,288.6 L300.2,289.9 L301.5,288.7 L302.8,286.7 L304.1,284.8 L305.4,285.1 L306.7,282.6 L307.9,282.3 L309.2,279.3 L310.5,277.8 L311.8,275.3 L313.1,272.4 L314.4,272.2 L315.7,268.5 L317.0,267.7 L318.2,263.0 L319.5,258.7 L320.8,259.0 L322.1,255.0 L323.4,254.7 L324.7,248.2 L326.0,243.4 L327.3,243.3 L328.5,238.8 L329.8,234.6 L331.1,233.4 L332.4,229.1 L333.7,226.8 L335.0,223.1 L336.3,219.2 L337.5,214.9 L338.8,212.0 L340.1,208.7 L341.4,205.4 L342.7,200.7 L344.0,197.9 L345.3,194.8 L346.6,193.8 L347.8,189.0 L349.1,186.6 L350.4,180.7 L351.7,178.7 L353.0,175.0 L354.3,174.4 L355.6,172.5 L356.9,169.2 L358.1,165.3 L359.4,164.2 L360.7,160.5 L362.0,157.6 L363.3,157.2 L364.6,153.9 L365.9,155.1 L367.2,152.5 L368.4,150.3 L369.7,148.5 L371.0,148.2 L372.3,145.8 L373.6,143.3 L374.9,142.6 L376.2,142.2 L377.5,142.7 L378.7,139.6 L380.0,139.6 L381.3,140.5 L382.6,137.9 L383.9,138.7 L385.2,137.4 L386.5,137.3 L387.8,137.0 L389.0,136.1 L390.3,135.4 L391.6,137.9 L392.9,138.7 L394.2,139.4 L395.5,139.6 L396.8,140.2 L398.0,142.9 L399.3,142.2 L400.6,140.7 L401.9,142.8 L403.2,143.1 L404.5,144.9 L405.8,143.3 L407.1,145.5 L408.3,147.1 L409.6,148.2 L410.9,147.6 L412.2,147.0 L413.5,150.1 L414.8,151.0 L416.1,153.0 L417.4,150.6 L418.6,153.0 L419.9,153.3 L421.2,154.3 L422.5,154.8 L423.8,153.8 L425.1,155.9 L426.4,155.6 L427.7,157.1 L428.9,157.4 L430.2,157.0 L431.5,157.6 L432.8,160.1 L434.1,159.6 L435.4,161.3 L436.7,160.5 L438.0,162.7 L439.2,163.9 L440.5,163.1 L441.8,165.5 L443.1,165.8 L444.4,166.2 L445.7,168.5 L447.0,169.3 L448.2,169.5 L449.5,168.9 L450.8,171.5 L452.1,172.4 L453.4,174.2 L454.7,175.3 L456.0,174.9 L457.3,178.2 L458.5,179.3 L459.8,178.2 L461.1,181.5 L462.4,183.0 L463.7,182.3 L465.0,182.8 L466.3,183.1 L467.6,183.7 L468.8,189.2 L470.1,188.2 L471.4,189.5 L472.7,190.0 L474.0,192.5 L475.3,192.9 L476.6,194.1 L477.9,195.6 L479.1,198.1 L480.4,198.5 L481.7,201.1 L483.0,202.6 L484.3,203.6 L485.6,204.0 L486.9,208.3 L488.2,207.9 L489.4,207.9 L490.7,210.6 L492.0,212.7 L493.3,213.4 L494.6,213.6 L495.9,216.9 L497.2,218.9 L498.5,219.0 L499.7,221.7 L501.0,223.8 L502.3,224.0 L503.6,227.3 L504.9,228.6 L506.2,228.7 L507.5,231.6 L508.7,232.2 L510.0,237.0 L511.3,238.5 L512.6,239.5 L513.9,240.7 L515.2,244.3 L516.5,243.9 L517.8,246.4 L519.0,248.0 L520.3,249.1 L521.6,250.9 L522.9,253.3 L524.2,253.9 L525.5,256.3 L526.8,255.2 L528.1,258.3 L529.3,259.4 L530.6,260.9 L531.9,261.1 L533.2,261.7 L534.5,262.8 L535.8,264.5 L537.1,263.0 L538.4,264.8 L539.6,267.1 L540.9,267.9 L542.2,267.1 L543.5,267.3 L544.8,267.7 L546.1,266.5 L547.4,264.4 L548.7,262.4 L549.9,262.3 L551.2,260.9 L552.5,258.8 L553.8,256.5 L555.1,256.4 L556.4,255.9 L557.7,255.8 L559.0,255.8 L560.2,253.6 L561.5,252.0 L562.8,252.1 L564.1,252.1 L565.4,250.2 L566.7,250.0 L568.0,249.5 L569.2,249.8 L570.5,246.2 L571.8,246.3 L573.1,243.4 L574.4,244.3 L575.7,243.0 L577.0,243.3 L578.3,241.0 L579.5,241.4 L580.8,242.8 L582.1,241.4 L583.4,244.2 L584.7,242.4 L586.0,243.7 L587.3,243.4 L588.6,243.9 L589.8,243.0 L591.1,245.8 L592.4,245.4 L593.7,244.9 L595.0,250.2 L596.3,250.1 L597.6,253.3 L598.9,256.7 L600.1,255.6 L601.4,258.3 L602.7,258.4 L604.0,263.5 L605.3,263.2 L606.6,264.0 L607.9,269.4 L609.2,268.9 L610.4,270.9 L611.7,273.3 L613.0,273.9 L614.3,276.4 L615.6,279.6 L616.9,281.3 L618.2,282.4 L619.4,282.3 L620.7,285.7 L622.0,286.4 L623.3,289.1 L624.6,290.1 L625.9,292.1 L627.2,293.3 L628.5,294.7 L629.7,298.9 L631.0,301.4 L632.3,302.0 L633.6,303.4 L634.9,304.2 L636.2,304.4 L637.5,306.8 L638.8,307.3 L640.0,308.2 L641.3,307.9 L642.6,310.2 L643.9,309.2 L645.2,309.1 L646.5,311.7 L647.8,310.4 L649.1,311.4 L650.3,312.1 L651.6,309.9 L652.9,310.4 L654.2,311.6 L655.5,310.3 L656.8,311.1 L658.1,311.2 L659.4,308.1 L660.6,308.6 L661.9,306.2 L663.2,306.8 L664.5,305.6 L665.8,304.8 L667.1,303.1 L668.4,302.6 L669.7,300.6 L670.9,300.6 L672.2,299.1 L673.5,297.2 L674.8,294.8 L676.1,292.6 L677.4,291.0 L678.7,287.8 L679.9,284.8 L681.2,287.9 L682.5,282.2 L683.8,281.0 L685.1,280.8 L686.4,278.5 L687.7,279.0 L689.0,275.8 L690.2,272.4 L691.5,273.6 L692.8,271.4 L694.1,268.9 L695.4,266.4 L696.7,265.0 L698.0,263.3 L699.3,259.8 L700.5,258.5 L701.8,253.0 L703.1,251.5 L704.4,250.0 L705.7,248.2 L707.0,245.3 L708.3,242.8 L709.6,239.7 L710.8,236.4 L712.1,235.5 L713.4,231.4 L714.7,228.9 L716.0,227.1 L717.3,222.2 L718.6,220.3 L719.9,217.8 L721.1,216.1 L722.4,213.6 L723.7,210.3 L725.0,209.3 L726.3,205.1 L727.6,204.1 L728.9,200.6 L730.1,197.6 L731.4,196.1 L732.7,194.2 L734.0,192.0 L735.3,188.9 L736.6,187.9 L737.9,184.7 L739.2,181.6 L740.4,182.4 L741.7,179.3 L743.0,176.3 L744.3,175.7 L745.6,173.8 L746.9,172.2 L748.2,168.3 L749.5,169.6 L750.7,165.7 L752.0,163.9 L753.3,161.8 L754.6,160.7 L755.9,157.9 L757.2,156.5 L758.5,154.7 L759.8,149.1 L761.0,148.4 L762.3,148.0 L763.6,145.1 L764.9,141.4 L766.2,137.8 L767.5,136.7 L768.8,133.0 L770.1,130.6 L771.3,126.5 L772.6,125.1 L773.9,122.0 L775.2,117.4 L776.5,113.7 L777.8,110.0 L779.1,104.6 L780.4,100.7 L781.6,96.7 L782.9,93.1 L784.2,86.2 L785.5,80.8 L785.5,233.3 L784.2,235.2 L782.9,234.4 L781.6,231.8 L780.4,235.4 L779.1,233.7 L777.8,235.4 L776.5,234.6 L775.2,241.8 L773.9,238.1 L772.6,238.0 L771.3,239.1 L770.1,234.1 L768.8,235.1 L767.5,233.7 L766.2,236.1 L764.9,235.6 L763.6,238.1 L762.3,238.3 L761.0,236.4 L759.8,238.3 L758.5,240.4 L757.2,241.8 L755.9,239.9 L754.6,240.0 L753.3,242.7 L752.0,244.8 L750.7,248.7 L749.5,246.6 L748.2,246.7 L746.9,255.5 L745.6,253.1 L744.3,254.2 L743.0,256.7 L741.7,261.3 L740.4,257.7 L739.2,260.2 L737.9,261.1 L736.6,264.6 L735.3,269.4 L734.0,267.3 L732.7,270.7 L731.4,273.1 L730.1,280.0 L728.9,276.2 L727.6,279.9 L726.3,279.5 L725.0,282.4 L723.7,290.2 L722.4,288.6 L721.1,290.8 L719.9,292.0 L718.6,295.0 L717.3,298.7 L716.0,302.2 L714.7,305.9 L713.4,308.5 L712.1,310.0 L710.8,306.4 L709.6,312.9 L708.3,314.8 L707.0,317.1 L705.7,322.7 L704.4,321.5 L703.1,323.0 L701.8,328.4 L700.5,328.3 L699.3,333.7 L698.0,332.7 L696.7,336.0 L695.4,336.2 L694.1,340.0 L692.8,337.7 L691.5,342.5 L690.2,343.3 L689.0,346.9 L687.7,350.0 L686.4,347.5 L685.1,352.8 L683.8,348.9 L682.5,353.9 L681.2,356.7 L679.9,356.6 L678.7,358.5 L677.4,359.9 L676.1,359.3 L674.8,362.5 L673.5,364.7 L672.2,360.9 L670.9,364.5 L669.7,368.2 L668.4,368.5 L667.1,369.3 L665.8,371.6 L664.5,372.4 L663.2,373.8 L661.9,373.9 L660.6,377.3 L659.4,377.0 L658.1,376.6 L656.8,376.6 L655.5,377.5 L654.2,377.2 L652.9,376.3 L651.6,379.3 L650.3,376.5 L649.1,379.9 L647.8,376.4 L646.5,377.9 L645.2,376.0 L643.9,380.2 L642.6,375.4 L641.3,376.2 L640.0,378.0 L638.8,375.6 L637.5,372.7 L636.2,373.3 L634.9,375.1 L633.6,370.9 L632.3,369.6 L631.0,371.9 L629.7,369.9 L628.5,367.0 L627.2,362.2 L625.9,363.1 L624.6,360.3 L623.3,357.2 L622.0,356.8 L620.7,355.9 L619.4,355.9 L618.2,350.6 L616.9,352.0 L615.6,350.6 L614.3,347.9 L613.0,360.1 L611.7,343.7 L610.4,341.0 L609.2,342.5 L607.9,341.5 L606.6,334.6 L605.3,334.0 L604.0,332.8 L602.7,332.3 L601.4,329.4 L600.1,328.4 L598.9,328.4 L597.6,322.4 L596.3,322.0 L595.0,316.4 L593.7,318.4 L592.4,321.6 L591.1,315.1 L589.8,312.6 L588.6,316.3 L587.3,315.8 L586.0,316.5 L584.7,317.0 L583.4,314.4 L582.1,313.5 L580.8,311.9 L579.5,315.1 L578.3,314.0 L577.0,316.1 L575.7,314.8 L574.4,315.2 L573.1,314.4 L571.8,322.0 L570.5,319.3 L569.2,319.9 L568.0,322.5 L566.7,323.0 L565.4,320.7 L564.1,323.3 L562.8,324.0 L561.5,327.8 L560.2,326.2 L559.0,328.2 L557.7,329.8 L556.4,329.9 L555.1,329.9 L553.8,331.4 L552.5,333.2 L551.2,333.8 L549.9,334.6 L548.7,334.6 L547.4,337.2 L546.1,338.2 L544.8,340.7 L543.5,336.3 L542.2,341.0 L540.9,337.8 L539.6,336.9 L538.4,337.0 L537.1,335.6 L535.8,330.0 L534.5,333.9 L533.2,334.2 L531.9,328.9 L530.6,333.1 L529.3,331.8 L528.1,331.2 L526.8,328.6 L525.5,326.9 L524.2,324.3 L522.9,322.4 L521.6,321.2 L520.3,320.6 L519.0,317.9 L517.8,320.0 L516.5,316.8 L515.2,314.7 L513.9,311.2 L512.6,308.6 L511.3,308.5 L510.0,307.7 L508.7,311.3 L507.5,304.6 L506.2,302.1 L504.9,299.3 L503.6,298.3 L502.3,295.9 L501.0,295.8 L499.7,289.2 L498.5,288.2 L497.2,291.2 L495.9,286.8 L494.6,286.0 L493.3,283.1 L492.0,284.2 L490.7,282.6 L489.4,282.3 L488.2,280.5 L486.9,276.7 L485.6,284.2 L484.3,278.0 L483.0,273.2 L481.7,269.8 L480.4,270.6 L479.1,267.1 L477.9,268.5 L476.6,265.4 L475.3,267.2 L474.0,269.6 L472.7,257.9 L471.4,261.1 L470.1,258.8 L468.8,257.5 L467.6,255.9 L466.3,255.3 L465.0,252.5 L463.7,254.4 L462.4,250.2 L461.1,253.8 L459.8,251.0 L458.5,248.5 L457.3,247.0 L456.0,247.8 L454.7,246.7 L453.4,249.0 L452.1,246.7 L450.8,243.1 L449.5,244.0 L448.2,237.9 L447.0,241.6 L445.7,240.9 L444.4,238.5 L443.1,237.4 L441.8,236.6 L440.5,236.1 L439.2,234.7 L438.0,236.5 L436.7,234.3 L435.4,228.9 L434.1,231.7 L432.8,230.7 L431.5,232.9 L430.2,230.2 L428.9,227.7 L427.7,227.0 L426.4,223.7 L425.1,227.9 L423.8,227.7 L422.5,229.7 L421.2,229.4 L419.9,226.1 L418.6,222.9 L417.4,224.0 L416.1,221.0 L414.8,223.4 L413.5,223.6 L412.2,222.5 L410.9,218.7 L409.6,219.4 L408.3,218.3 L407.1,218.8 L405.8,218.2 L404.5,216.2 L403.2,218.0 L401.9,218.0 L400.6,215.6 L399.3,215.0 L398.0,211.9 L396.8,214.2 L395.5,213.1 L394.2,212.4 L392.9,211.6 L391.6,214.1 L390.3,214.7 L389.0,210.3 L387.8,210.0 L386.5,207.0 L385.2,212.0 L383.9,209.2 L382.6,212.6 L381.3,210.1 L380.0,212.8 L378.7,214.4 L377.5,217.7 L376.2,215.2 L374.9,215.2 L373.6,216.7 L372.3,217.5 L371.0,218.9 L369.7,221.1 L368.4,219.3 L367.2,223.5 L365.9,223.6 L364.6,226.5 L363.3,228.8 L362.0,228.5 L360.7,232.0 L359.4,234.8 L358.1,235.7 L356.9,240.4 L355.6,242.6 L354.3,245.0 L353.0,248.6 L351.7,253.3 L350.4,254.8 L349.1,260.7 L347.8,260.9 L346.6,264.5 L345.3,266.9 L344.0,272.1 L342.7,270.0 L341.4,278.9 L340.1,277.1 L338.8,281.9 L337.5,286.1 L336.3,291.6 L335.0,292.7 L333.7,297.4 L332.4,297.8 L331.1,309.3 L329.8,307.3 L328.5,312.1 L327.3,319.6 L326.0,317.4 L324.7,320.6 L323.4,322.2 L322.1,328.8 L320.8,330.5 L319.5,333.8 L318.2,332.6 L317.0,339.9 L315.7,338.6 L314.4,342.5 L313.1,347.3 L311.8,348.3 L310.5,351.2 L309.2,355.8 L307.9,352.8 L306.7,351.1 L305.4,353.3 L304.1,355.0 L302.8,359.6 L301.5,360.9 L300.2,358.9 L298.9,361.2 L297.6,363.8 L296.4,362.6 L295.1,361.6 L293.8,367.1 L292.5,363.4 L291.2,365.0 L289.9,365.8 L288.6,364.1 L287.3,365.7 L286.1,365.5 L284.8,367.1 L283.5,364.8 L282.2,363.4 L280.9,365.6 L279.6,363.0 L278.3,360.8 L277.0,361.7 L275.8,362.9 L274.5,359.4 L273.2,361.2 L271.9,359.9 L270.6,362.6 L269.3,357.5 L268.0,358.6 L266.8,355.0 L265.5,355.6 L264.2,358.5 L262.9,355.7 L261.6,352.6 L260.3,350.8 L259.0,349.2 L257.7,348.9 L256.5,349.6 L255.2,345.1 L253.9,340.4 L252.6,340.3 L251.3,338.8 L250.0,333.2 L248.7,334.0 L247.4,333.2 L246.2,334.3 L244.9,329.9 L243.6,329.3 L242.3,324.8 L241.0,322.7 L239.7,324.6 L238.4,319.5 L237.1,316.5 L235.9,316.1 L234.6,313.2 L233.3,312.7 L232.0,310.4 L230.7,310.6 L229.4,310.0 L228.1,306.7 L226.8,309.7 L225.6,307.0 L224.3,308.9 L223.0,305.3 L221.7,307.6 L220.4,307.1 L219.1,306.1 L217.8,311.1 L216.6,316.8 L215.3,307.6 L214.0,313.4 L212.7,314.8 L211.4,315.6 L210.1,319.3 L208.8,320.0 L207.5,319.9 L206.3,318.4 L205.0,333.0 L203.7,328.3 L202.4,327.7 L201.1,330.9 L199.8,334.8 L198.5,340.7 L197.2,339.1 L196.0,338.9 L194.7,345.0 L193.4,345.1 L192.1,349.1 L190.8,352.5 L189.5,355.1 L188.2,358.1 L186.9,359.2 L185.7,356.4 L184.4,359.3 L183.1,361.6 L181.8,360.1 L180.5,364.2 L179.2,367.1 L177.9,363.3 L176.6,363.5 L175.4,367.3 L174.1,366.0 L172.8,363.5 L171.5,367.8 L170.2,364.9 L168.9,364.5 L167.6,366.0 L166.3,364.8 L165.1,364.3 L163.8,362.5 L162.5,359.2 L161.2,370.1 L159.9,361.1 L158.6,363.0 L157.3,360.7 L156.1,355.9 L154.8,359.1 L153.5,360.4 L152.2,357.6 L150.9,358.0 L149.6,355.2 L148.3,354.5 L147.0,353.0 L145.8,354.4 L144.5,358.0 L143.2,352.7 L141.9,351.3 L140.6,353.0 L139.3,354.2 L138.0,348.3 L136.7,347.3 L135.5,347.7 L134.2,344.8 L132.9,344.5 L131.6,342.9 L130.3,340.9 L129.0,341.0 L127.7,341.9 L126.4,339.0 L125.2,339.2 L123.9,340.1 L122.6,339.7 L121.3,335.6 L120.0,337.6 L118.7,335.4 L117.4,336.8 L116.1,336.1 L114.9,340.2 L113.6,338.7 L112.3,336.1 L111.0,339.7 L109.7,339.8 L108.4,337.7 L107.1,339.5 L105.9,339.6 L104.6,339.9 L103.3,340.5 L102.0,344.4 L100.7,346.0 L99.4,347.0 L98.1,350.2 L96.8,353.8 L95.6,355.5 L94.3,357.6 L93.0,363.7 L91.7,366.5 L90.4,370.6 L89.1,383.1 L87.8,388.8 L86.5,390.7 L85.3,395.5 L84.0,401.3 L82.7,405.5 L81.4,412.8 L80.1,419.0 L78.8,431.1 L77.5,434.7 L76.2,442.3 L75.0,448.8 L73.7,455.8 L72.4,463.0 L71.1,470.1 L69.8,477.3 L68.5,484.0 L67.2,490.2 L65.9,496.3 L64.7,502.7 L63.4,511.6 L62.1,538.3 L60.8,587.9 L59.5,585.0 L58.2,569.9 L56.9,560.2 L55.6,550.2 L54.4,544.4 L53.1,543.1 L51.8,541.2 L50.5,539.7Z" fill="#1f77b4" fill-opacity="0.1" stroke="#1f77b4" stroke-opacity="0.1" stroke-width="1.39" stroke-linejoin="round"/>
</g>
<line x1="50.5" x2="785.5" y1="567.50" y2="567.50" stroke="#b0b0b0" stroke-width="1.11"/>
<line x1="50.5" x2="785.5" y1="443.50" y2="443.50" stroke="#b0b0b0" stroke-width="1.11"/>
<line x1="50.5" x2="785.5" y1="319.50" y2="319.50" stroke="#b0b0b0" stroke-width="1.11"/>
<line x1="50.5" x2="785.5" y1="195.50" y2="195.50" stroke="#b0b0b0" stroke-width="1.11"/>
<line x1="50.5" x2="785.5" y1="71.50" y2="71.50" stroke="#b0b0b0" stroke-width="1.11"/>
<g clip-path="url(#cu)">
<path d="M50.5,492.8 L51.8,492.8 L53.1,492.8 L54.4,492.8 L55.6,492.8 L56.9,492.8 L58.2,492.8 L59.5,492.8 L60.8,480.8 L62.1,480.8 L63.4,471.0 L64.7,471.0 L65.9,471.0 L67.2,462.7 L68.5,462.7 L69.8,462.7 L71.1,455.5 L72.4,455.5 L73.7,443.5 L75.0,438.4 L76.2,429.4 L77.5,425.4 L78.8,414.9 L80.1,406.2 L81.4,394.2 L82.7,382.6 L84.0,376.0 L85.3,367.5 L86.5,357.9 L87.8,352.7 L89.1,350.7 L90.4,346.1 L91.7,341.9 L93.0,335.7 L94.3,330.2 L95.6,322.8 L96.8,319.5 L98.1,318.4 L99.4,316.4 L100.7,311.0 L102.0,308.7 L103.3,308.0 L104.6,305.3 L105.9,307.5 L107.1,308.6 L108.4,310.2 L109.7,307.5 L111.0,305.0 L112.3,305.8 L113.6,305.2 L114.9,305.5 L116.1,306.9 L117.4,307.0 L118.7,305.9 L120.0,304.7 L121.3,305.4 L122.6,302.8 L123.9,305.0 L125.2,303.1 L126.4,305.0 L127.7,302.7 L129.0,302.0 L130.3,303.7 L131.6,304.1 L132.9,308.4 L134.2,309.7 L135.5,309.1 L136.7,311.0 L138.0,308.5 L139.3,311.0 L140.6,310.6 L141.9,312.6 L143.2,313.8 L144.5,315.2 L145.8,317.8 L147.0,317.2 L148.3,315.5 L149.6,318.4 L150.9,320.7 L152.2,321.3 L153.5,323.3 L154.8,323.7 L156.1,324.8 L157.3,321.5 L158.6,323.3 L159.9,323.9 L161.2,327.0 L162.5,325.1 L163.8,325.3 L165.1,324.5 L166.3,325.5 L167.6,324.7 L168.9,325.3 L170.2,326.8 L171.5,328.6 L172.8,328.4 L174.1,328.1 L175.4,328.1 L176.6,327.8 L177.9,326.3 L179.2,327.3 L180.5,328.7 L181.8,324.1 L183.1,320.2 L184.4,319.6 L185.7,319.2 L186.9,315.9 L188.2,314.0 L189.5,313.2 L190.8,311.2 L192.1,305.5 L193.4,302.9 L194.7,303.0 L196.0,300.9 L197.2,300.8 L198.5,298.9 L199.8,295.2 L201.1,293.0 L202.4,291.3 L203.7,289.9 L205.0,289.4 L206.3,288.2 L207.5,285.9 L208.8,284.7 L210.1,282.8 L211.4,280.9 L212.7,279.7 L214.0,279.1 L215.3,281.6 L216.6,282.4 L217.8,278.8 L219.1,278.0 L220.4,273.4 L221.7,274.7 L223.0,275.5 L224.3,278.4 L225.6,276.7 L226.8,277.0 L228.1,273.9 L229.4,273.7 L230.7,275.2 L232.0,274.6 L233.3,279.9 L234.6,277.9 L235.9,274.8 L237.1,275.0 L238.4,276.1 L239.7,277.1 L241.0,281.0 L242.3,283.6 L243.6,283.7 L244.9,282.7 L246.2,288.7 L247.4,286.7 L248.7,288.4 L250.0,290.9 L251.3,296.5 L252.6,298.7 L253.9,299.1 L255.2,301.6 L256.5,303.0 L257.7,303.8 L259.0,305.2 L260.3,307.4 L261.6,309.8 L262.9,310.0 L264.2,311.2 L265.5,311.6 L266.8,309.8 L268.0,313.0 L269.3,315.2 L270.6,315.3 L271.9,314.7 L273.2,314.4 L274.5,315.5 L275.8,316.3 L277.0,317.3 L278.3,319.4 L279.6,319.0 L280.9,320.0 L282.2,319.1 L283.5,319.7 L284.8,317.8 L286.1,323.3 L287.3,321.9 L288.6,322.3 L289.9,324.0 L291.2,319.2 L292.5,321.7 L293.8,321.3 L295.1,323.4 L296.4,322.2 L297.6,323.4 L298.9,323.2 L300.2,320.9 L301.5,319.2 L302.8,317.6 L304.1,319.1 L305.4,321.1 L306.7,320.2 L307.9,320.3 L309.2,316.3 L310.5,312.7 L311.8,311.3 L313.1,311.4 L314.4,311.4 L315.7,307.9 L317.0,306.7 L318.2,302.9 L319.5,300.4 L320.8,298.4 L322.1,293.4 L323.4,295.1 L324.7,292.7 L326.0,288.1 L327.3,284.9 L328.5,281.4 L329.8,278.3 L331.1,274.5 L332.4,274.1 L333.7,271.2 L335.0,269.6 L336.3,264.4 L337.5,258.0 L338.8,256.7 L340.1,250.7 L341.4,250.1 L342.7,244.5 L344.0,241.2 L345.3,235.5 L346.6,232.9 L347.8,228.4 L349.1,223.7 L350.4,224.3 L351.7,218.4 L353.0,217.1 L354.3,213.6 L355.6,208.2 L356.9,205.5 L358.1,201.2 L359.4,201.4 L360.7,199.5 L362.0,197.4 L363.3,192.4 L364.6,192.2 L365.9,190.4 L367.2,191.5 L368.4,191.6 L369.7,189.5 L371.0,186.1 L372.3,183.5 L373.6,183.7 L374.9,179.6 L376.2,179.0 L377.5,180.2 L378.7,177.2 L380.0,178.3 L381.3,173.1 L382.6,168.6 L383.9,171.5 L385.2,170.3 L386.5,173.8 L387.8,173.3 L389.0,171.1 L390.3,173.2 L391.6,172.3 L392.9,173.0 L394.2,174.6 L395.5,175.9 L396.8,176.8 L398.0,175.6 L399.3,175.9 L400.6,177.6 L401.9,175.4 L403.2,177.1 L404.5,182.6 L405.8,181.1 L407.1,180.6 L408.3,180.3 L409.6,180.9 L410.9,183.5 L412.2,183.8 L413.5,188.1 L414.8,186.9 L416.1,184.0 L417.4,185.3 L418.6,185.1 L419.9,186.8 L421.2,188.7 L422.5,190.5 L423.8,189.9 L425.1,190.5 L426.4,189.6 L427.7,187.1 L428.9,190.4 L430.2,191.1 L431.5,191.8 L432.8,192.2 L434.1,191.7 L435.4,192.8 L436.7,190.7 L438.0,191.1 L439.2,192.0 L440.5,195.7 L441.8,195.2 L443.1,195.0 L444.4,195.9 L445.7,195.4 L447.0,196.2 L448.2,195.5 L449.5,203.2 L450.8,202.6 L452.1,203.1 L453.4,201.7 L454.7,202.7 L456.0,203.3 L457.3,204.1 L458.5,209.8 L459.8,210.9 L461.1,210.7 L462.4,212.6 L463.7,211.6 L465.0,212.9 L466.3,216.8 L467.6,221.3 L468.8,219.5 L470.1,221.8 L471.4,222.7 L472.7,224.3 L474.0,225.7 L475.3,227.3 L476.6,231.5 L477.9,234.7 L479.1,233.9 L480.4,235.5 L481.7,237.6 L483.0,238.9 L484.3,238.7 L485.6,242.1 L486.9,242.3 L488.2,245.7 L489.4,246.3 L490.7,245.5 L492.0,245.1 L493.3,248.2 L494.6,251.1 L495.9,251.4 L497.2,255.4 L498.5,256.8 L499.7,257.3 L501.0,258.1 L502.3,259.9 L503.6,262.3 L504.9,265.4 L506.2,264.9 L507.5,268.6 L508.7,266.4 L510.0,271.2 L511.3,271.4 L512.6,277.2 L513.9,277.9 L515.2,279.1 L516.5,279.2 L517.8,279.7 L519.0,281.8 L520.3,283.9 L521.6,286.1 L522.9,289.9 L524.2,289.5 L525.5,290.8 L526.8,289.3 L528.1,287.1 L529.3,290.7 L530.6,294.9 L531.9,296.1 L533.2,294.1 L534.5,295.8 L535.8,297.5 L537.1,297.1 L538.4,298.8 L539.6,300.8 L540.9,299.8 L542.2,300.1 L543.5,301.4 L544.8,299.8 L546.1,300.0 L547.4,300.7 L548.7,302.0 L549.9,298.1 L551.2,299.1 L552.5,296.4 L553.8,294.6 L555.1,294.9 L556.4,293.7 L557.7,294.2 L559.0,294.4 L560.2,290.3 L561.5,290.8 L562.8,289.7 L564.1,287.0 L565.4,285.2 L566.7,286.2 L568.0,287.4 L569.2,285.8 L570.5,283.9 L571.8,282.2 L573.1,279.8 L574.4,279.8 L575.7,285.0 L577.0,282.8 L578.3,283.2 L579.5,280.1 L580.8,279.2 L582.1,280.9 L583.4,281.4 L584.7,283.3 L586.0,282.3 L587.3,283.8 L588.6,282.3 L589.8,281.2 L591.1,278.7 L592.4,279.1 L593.7,285.0 L595.0,289.1 L596.3,288.8 L597.6,291.4 L598.9,291.3 L600.1,294.9 L601.4,296.5 L602.7,298.8 L604.0,300.1 L605.3,301.2 L606.6,299.9 L607.9,302.0 L609.2,305.2 L610.4,303.9 L611.7,308.0 L613.0,310.3 L614.3,308.0 L615.6,311.5 L616.9,310.9 L618.2,312.7 L619.4,312.3 L620.7,317.1 L622.0,318.2 L623.3,320.6 L624.6,317.5 L625.9,321.5 L627.2,320.0 L628.5,322.1 L629.7,324.8 L631.0,326.0 L632.3,330.1 L633.6,328.3 L634.9,328.9 L636.2,328.8 L637.5,329.6 L638.8,332.8 L640.0,335.2 L641.3,334.0 L642.6,331.7 L643.9,335.0 L645.2,333.4 L646.5,335.9 L647.8,334.9 L649.1,339.1 L650.3,336.6 L651.6,335.4 L652.9,334.5 L654.2,331.2 L655.5,332.9 L656.8,337.3 L658.1,333.8 L659.4,336.9 L660.6,336.6 L661.9,335.3 L663.2,332.5 L664.5,332.7 L665.8,337.2 L667.1,333.9 L668.4,333.0 L669.7,329.8 L670.9,329.2 L672.2,325.8 L673.5,325.6 L674.8,327.5 L676.1,323.2 L677.4,322.2 L678.7,319.1 L679.9,316.4 L681.2,317.2 L682.5,315.5 L683.8,316.3 L685.1,315.5 L686.4,311.5 L687.7,308.9 L689.0,305.5 L690.2,303.3 L691.5,304.2 L692.8,304.9 L694.1,298.7 L695.4,297.4 L696.7,297.5 L698.0,296.1 L699.3,293.2 L700.5,291.3 L701.8,289.7 L703.1,288.6 L704.4,286.4 L705.7,284.3 L707.0,281.2 L708.3,279.3 L709.6,277.7 L710.8,277.2 L712.1,274.9 L713.4,274.8 L714.7,269.8 L716.0,266.9 L717.3,265.3 L718.6,262.7 L719.9,262.9 L721.1,260.7 L722.4,257.0 L723.7,253.7 L725.0,251.1 L726.3,246.1 L727.6,245.6 L728.9,244.3 L730.1,242.4 L731.4,240.0 L732.7,236.8 L734.0,231.4 L735.3,229.8 L736.6,229.9 L737.9,229.1 L739.2,224.1 L740.4,221.9 L741.7,217.5 L743.0,214.8 L744.3,211.5 L745.6,209.5 L746.9,209.7 L748.2,206.6 L749.5,202.5 L750.7,200.1 L752.0,200.9 L753.3,198.3 L754.6,197.6 L755.9,196.1 L757.2,193.9 L758.5,192.2 L759.8,192.5 L761.0,188.2 L762.3,185.4 L763.6,186.3 L764.9,183.3 L766.2,185.7 L767.5,181.2 L768.8,177.5 L770.1,180.1 L771.3,177.1 L772.6,175.4 L773.9,172.1 L775.2,177.3 L776.5,171.9 L777.8,169.6 L779.1,167.9 L780.4,166.0 L781.6,164.3 L782.9,163.1 L784.2,162.5 L785.5,155.7" fill="none" stroke="#1f77b4" stroke-width="2.08" stroke-linejoin="round" stroke-linecap="square"/>
<line x1="749.0" x2="749.0" y1="15.5" y2="567.5" stroke="#1f77b4" stroke-opacity="0.5" stroke-width="2.08" stroke-dasharray="7.7 3.33" stroke-dashoffset="8.63"/>
<g fill="#ff7f0e"><circle cx="60.4" cy="530.2" r="4.86"/><circle cx="66.6" cy="530.2" r="4.86"/><circle cx="73.4" cy="530.2" r="4.86"/><circle cx="58.9" cy="508.6" r="4.86"/><circle cx="63.5" cy="508.6" r="4.86"/><circle cx="62.0" cy="480.9" r="4.86"/><circle cx="68.1" cy="480.9" r="4.86"/><circle cx="66.0" cy="455.6" r="4.86"/><circle cx="71.2" cy="462.3" r="4.86"/><circle cx="72.2" cy="429.3" r="4.86"/><circle cx="77.4" cy="429.3" r="4.86"/><circle cx="86.0" cy="433.0" r="4.86"/><circle cx="99.0" cy="443.8" r="4.86"/><circle cx="75.9" cy="415.0" r="4.86"/><circle cx="90.4" cy="418.5" r="4.86"/><circle cx="102.0" cy="415.0" r="4.86"/><circle cx="80.5" cy="397.5" r="4.86"/><circle cx="75.2" cy="393.0" r="4.86"/><circle cx="82.0" cy="386.7" r="4.86"/><circle cx="95.3" cy="390.7" r="4.86"/><circle cx="86.7" cy="361.4" r="4.86"/><circle cx="96.0" cy="363.0" r="4.86"/><circle cx="109.2" cy="360.5" r="4.86"/><circle cx="92.8" cy="345.0" r="4.86"/><circle cx="118.0" cy="341.4" r="4.86"/><circle cx="81.4" cy="337.3" r="4.86"/><circle cx="85.0" cy="332.7" r="4.86"/><circle cx="103.0" cy="329.6" r="4.86"/><circle cx="89.8" cy="309.6" r="4.86"/><circle cx="94.4" cy="314.8" r="4.86"/><circle cx="98.0" cy="278.7" r="4.86"/><circle cx="100.6" cy="296.3" r="4.86"/><circle cx="108.2" cy="281.0" r="4.86"/><circle cx="113.4" cy="272.2" r="4.86"/><circle cx="122.3" cy="271.6" r="4.86"/><circle cx="127.5" cy="276.9" r="4.86"/><circle cx="124.7" cy="282.5" r="4.86"/><circle cx="130.3" cy="286.3" r="4.86"/><circle cx="135.0" cy="281.6" r="4.86"/><circle cx="139.1" cy="280.3" r="4.86"/><circle cx="144.4" cy="286.3" r="4.86"/><circle cx="114.4" cy="290.9" r="4.86"/><circle cx="100.3" cy="296.0" r="4.86"/><circle cx="104.1" cy="300.9" r="4.86"/><circle cx="120.0" cy="297.9" r="4.86"/><circle cx="115.3" cy="300.9" r="4.86"/><circle cx="131.3" cy="296.0" r="4.86"/><circle cx="138.8" cy="294.7" r="4.86"/><circle cx="141.6" cy="299.4" r="4.86"/><circle cx="147.2" cy="293.8" r="4.86"/><circle cx="152.8" cy="296.0" r="4.86"/><circle cx="150.0" cy="307.3" r="4.86"/><circle cx="108.8" cy="311.0" r="4.86"/><circle cx="127.5" cy="308.8" r="4.86"/><circle cx="130.3" cy="312.5" r="4.86"/><circle cx="124.7" cy="316.6" r="4.86"/><circle cx="120.0" cy="320.4" r="4.86"/><circle cx="135.0" cy="316.3" r="4.86"/><circle cx="148.1" cy="320.9" r="4.86"/><circle cx="145.3" cy="324.7" r="4.86"/><circle cx="136.3" cy="327.9" r="4.86"/><circle cx="103.5" cy="328.8" r="4.86"/><circle cx="118.5" cy="341.0" r="4.86"/><circle cx="109.3" cy="359.9" r="4.86"/><circle cx="154.7" cy="257.2" r="4.86"/><circle cx="170.6" cy="257.2" r="4.86"/><circle cx="165.9" cy="275.9" r="4.86"/><circle cx="169.7" cy="278.8" r="4.86"/><circle cx="156.6" cy="328.4" r="4.86"/><circle cx="163.5" cy="342.1" r="4.86"/><circle cx="175.3" cy="365.0" r="4.86"/><circle cx="162.2" cy="305.0" r="4.86"/><circle cx="158.4" cy="310.6" r="4.86"/><circle cx="155.6" cy="316.3" r="4.86"/><circle cx="165.0" cy="313.4" r="4.86"/><circle cx="168.8" cy="308.8" r="4.86"/><circle cx="172.5" cy="301.3" r="4.86"/><circle cx="176.3" cy="298.4" r="4.86"/><circle cx="179.6" cy="293.8" r="4.86"/><circle cx="182.8" cy="305.0" r="4.86"/><circle cx="185.6" cy="303.1" r="4.86"/><circle cx="180.0" cy="312.5" r="4.86"/><circle cx="177.2" cy="318.1" r="4.86"/><circle cx="181.9" cy="321.9" r="4.86"/><circle cx="187.5" cy="316.3" r="4.86"/><circle cx="183.8" cy="326.6" r="4.86"/><circle cx="187.5" cy="326.6" r="4.86"/><circle cx="189.4" cy="290.0" r="4.86"/><circle cx="192.2" cy="296.6" r="4.86"/><circle cx="195.0" cy="303.1" r="4.86"/><circle cx="191.3" cy="305.0" r="4.86"/><circle cx="197.8" cy="279.1" r="4.86"/><circle cx="200.6" cy="284.4" r="4.86"/><circle cx="202.5" cy="290.0" r="4.86"/><circle cx="203.4" cy="305.0" r="4.86"/><circle cx="206.3" cy="270.3" r="4.86"/><circle cx="210.0" cy="263.8" r="4.86"/><circle cx="213.8" cy="260.0" r="4.86"/><circle cx="219.4" cy="254.4" r="4.86"/><circle cx="221.3" cy="261.9" r="4.86"/><circle cx="225.0" cy="267.5" r="4.86"/><circle cx="228.8" cy="258.1" r="4.86"/><circle cx="232.5" cy="254.4" r="4.86"/><circle cx="236.3" cy="237.5" r="4.86"/><circle cx="238.1" cy="252.5" r="4.86"/><circle cx="210.0" cy="275.0" r="4.86"/><circle cx="215.6" cy="273.1" r="4.86"/><circle cx="221.3" cy="276.9" r="4.86"/><circle cx="226.9" cy="273.1" r="4.86"/><circle cx="230.6" cy="265.6" r="4.86"/><circle cx="211.9" cy="282.5" r="4.86"/><circle cx="208.1" cy="284.4" r="4.86"/><circle cx="204.4" cy="276.9" r="4.86"/><circle cx="212.8" cy="268.4" r="4.86"/><circle cx="217.5" cy="263.8" r="4.86"/><circle cx="223.1" cy="256.3" r="4.86"/><circle cx="225.9" cy="260.9" r="4.86"/><circle cx="229.7" cy="270.3" r="4.86"/><circle cx="234.4" cy="260.0" r="4.86"/><circle cx="237.2" cy="262.8" r="4.86"/><circle cx="214.7" cy="277.8" r="4.86"/><circle cx="219.4" cy="270.3" r="4.86"/><circle cx="224.1" cy="272.2" r="4.86"/><circle cx="231.6" cy="260.0" r="4.86"/><circle cx="160.3" cy="318.1" r="4.86"/><circle cx="166.9" cy="305.0" r="4.86"/><circle cx="174.4" cy="306.9" r="4.86"/><circle cx="178.1" cy="304.1" r="4.86"/><circle cx="184.7" cy="312.5" r="4.86"/><circle cx="146.3" cy="301.3" r="4.86"/><circle cx="136.9" cy="305.0" r="4.86"/><circle cx="133.1" cy="290.0" r="4.86"/><circle cx="118.1" cy="291.9" r="4.86"/><circle cx="110.6" cy="297.5" r="4.86"/><circle cx="123.8" cy="305.0" r="4.86"/><circle cx="237.5" cy="237.3" r="4.86"/><circle cx="239.4" cy="251.9" r="4.86"/><circle cx="233.8" cy="257.5" r="4.86"/><circle cx="231.9" cy="254.7" r="4.86"/><circle cx="238.4" cy="262.2" r="4.86"/><circle cx="235.6" cy="266.9" r="4.86"/><circle cx="241.3" cy="270.6" r="4.86"/><circle cx="232.8" cy="268.8" r="4.86"/><circle cx="244.1" cy="276.3" r="4.86"/><circle cx="247.8" cy="275.3" r="4.86"/><circle cx="243.1" cy="282.8" r="4.86"/><circle cx="248.8" cy="283.8" r="4.86"/><circle cx="254.4" cy="281.9" r="4.86"/><circle cx="257.2" cy="284.7" r="4.86"/><circle cx="269.4" cy="280.0" r="4.86"/><circle cx="277.8" cy="285.6" r="4.86"/><circle cx="286.3" cy="281.9" r="4.86"/><circle cx="265.6" cy="290.3" r="4.86"/><circle cx="260.0" cy="291.3" r="4.86"/><circle cx="253.4" cy="295.9" r="4.86"/><circle cx="256.3" cy="305.3" r="4.86"/><circle cx="246.5" cy="311.9" r="4.86"/><circle cx="260.9" cy="300.6" r="4.86"/><circle cx="267.5" cy="299.7" r="4.86"/><circle cx="273.1" cy="298.8" r="4.86"/><circle cx="276.9" cy="302.5" r="4.86"/><circle cx="281.6" cy="296.9" r="4.86"/><circle cx="285.3" cy="295.9" r="4.86"/><circle cx="289.1" cy="299.7" r="4.86"/><circle cx="296.6" cy="302.5" r="4.86"/><circle cx="301.3" cy="310.0" r="4.86"/><circle cx="295.6" cy="293.1" r="4.86"/><circle cx="305.9" cy="292.2" r="4.86"/><circle cx="305.0" cy="296.9" r="4.86"/><circle cx="280.6" cy="308.1" r="4.86"/><circle cx="275.9" cy="307.2" r="4.86"/><circle cx="282.5" cy="315.6" r="4.86"/><circle cx="262.8" cy="315.6" r="4.86"/><circle cx="264.7" cy="324.1" r="4.86"/><circle cx="271.3" cy="322.2" r="4.86"/><circle cx="265.3" cy="332.5" r="4.86"/><circle cx="287.2" cy="325.0" r="4.86"/><circle cx="293.8" cy="327.8" r="4.86"/><circle cx="300.9" cy="330.3" r="4.86"/><circle cx="297.5" cy="319.4" r="4.86"/><circle cx="309.7" cy="316.6" r="4.86"/><circle cx="274.6" cy="343.2" r="4.86"/><circle cx="282.1" cy="339.1" r="4.86"/><circle cx="289.6" cy="347.5" r="4.86"/><circle cx="308.4" cy="340.9" r="4.86"/><circle cx="312.5" cy="266.9" r="4.86"/><circle cx="318.1" cy="264.1" r="4.86"/><circle cx="323.8" cy="261.3" r="4.86"/><circle cx="315.3" cy="273.4" r="4.86"/><circle cx="321.9" cy="275.3" r="4.86"/><circle cx="312.5" cy="282.8" r="4.86"/><circle cx="318.1" cy="281.9" r="4.86"/><circle cx="326.6" cy="286.6" r="4.86"/><circle cx="320.0" cy="291.3" r="4.86"/><circle cx="317.2" cy="296.9" r="4.86"/><circle cx="327.5" cy="295.0" r="4.86"/><circle cx="318.1" cy="302.5" r="4.86"/><circle cx="323.8" cy="252.8" r="4.86"/><circle cx="328.4" cy="257.5" r="4.86"/><circle cx="332.2" cy="247.2" r="4.86"/><circle cx="336.9" cy="249.1" r="4.86"/><circle cx="329.4" cy="241.6" r="4.86"/><circle cx="333.1" cy="234.1" r="4.86"/><circle cx="344.4" cy="238.8" r="4.86"/><circle cx="335.6" cy="266.9" r="4.86"/><circle cx="234.7" cy="262.2" r="4.86"/><circle cx="240.3" cy="265.9" r="4.86"/><circle cx="236.6" cy="272.5" r="4.86"/><circle cx="245.9" cy="280.0" r="4.86"/><circle cx="251.6" cy="288.4" r="4.86"/><circle cx="258.1" cy="295.0" r="4.86"/><circle cx="270.3" cy="304.4" r="4.86"/><circle cx="278.8" cy="295.0" r="4.86"/><circle cx="291.9" cy="296.9" r="4.86"/><circle cx="286.3" cy="305.3" r="4.86"/><circle cx="292.8" cy="313.8" r="4.86"/><circle cx="302.2" cy="300.6" r="4.86"/><circle cx="310.6" cy="276.3" r="4.86"/><circle cx="315.3" cy="265.0" r="4.86"/><circle cx="320.9" cy="268.8" r="4.86"/><circle cx="324.7" cy="276.3" r="4.86"/><circle cx="330.3" cy="251.9" r="4.86"/><circle cx="334.1" cy="240.6" r="4.86"/><circle cx="385.3" cy="125.2" r="4.86"/><circle cx="385.0" cy="136.7" r="4.86"/><circle cx="410.5" cy="136.0" r="4.86"/><circle cx="388.7" cy="146.5" r="4.86"/><circle cx="382.0" cy="155.5" r="4.86"/><circle cx="386.5" cy="151.0" r="4.86"/><circle cx="391.7" cy="154.0" r="4.86"/><circle cx="400.0" cy="150.2" r="4.86"/><circle cx="404.5" cy="157.0" r="4.86"/><circle cx="393.2" cy="161.5" r="4.86"/><circle cx="400.0" cy="161.5" r="4.86"/><circle cx="376.7" cy="165.2" r="4.86"/><circle cx="394.7" cy="167.5" r="4.86"/><circle cx="401.5" cy="170.5" r="4.86"/><circle cx="398.5" cy="175.7" r="4.86"/><circle cx="408.2" cy="160.0" r="4.86"/><circle cx="413.5" cy="162.2" r="4.86"/><circle cx="419.5" cy="163.0" r="4.86"/><circle cx="421.7" cy="167.5" r="4.86"/><circle cx="416.5" cy="173.5" r="4.86"/><circle cx="418.0" cy="183.2" r="4.86"/><circle cx="407.5" cy="184.0" r="4.86"/><circle cx="430.0" cy="160.0" r="4.86"/><circle cx="439.0" cy="166.7" r="4.86"/><circle cx="448.0" cy="161.5" r="4.86"/><circle cx="448.0" cy="172.0" r="4.86"/><circle cx="431.5" cy="175.0" r="4.86"/><circle cx="425.5" cy="181.0" r="4.86"/><circle cx="437.5" cy="180.2" r="4.86"/><circle cx="445.0" cy="184.0" r="4.86"/><circle cx="452.5" cy="185.5" r="4.86"/><circle cx="425.5" cy="192.2" r="4.86"/><circle cx="443.5" cy="196.0" r="4.86"/><circle cx="453.2" cy="200.5" r="4.86"/><circle cx="426.2" cy="205.7" r="4.86"/><circle cx="434.5" cy="211.7" r="4.86"/><circle cx="432.2" cy="222.2" r="4.86"/><circle cx="459.2" cy="211.0" r="4.86"/><circle cx="459.2" cy="219.2" r="4.86"/><circle cx="373.7" cy="173.5" r="4.86"/><circle cx="371.5" cy="178.0" r="4.86"/><circle cx="368.5" cy="182.5" r="4.86"/><circle cx="381.2" cy="183.2" r="4.86"/><circle cx="376.0" cy="186.2" r="4.86"/><circle cx="380.5" cy="193.0" r="4.86"/><circle cx="364.0" cy="187.7" r="4.86"/><circle cx="358.7" cy="191.5" r="4.86"/><circle cx="362.5" cy="196.0" r="4.86"/><circle cx="367.7" cy="203.5" r="4.86"/><circle cx="361.0" cy="205.0" r="4.86"/><circle cx="351.2" cy="202.0" r="4.86"/><circle cx="355.0" cy="208.0" r="4.86"/><circle cx="361.7" cy="211.7" r="4.86"/><circle cx="346.0" cy="208.0" r="4.86"/><circle cx="349.0" cy="214.0" r="4.86"/><circle cx="356.5" cy="218.5" r="4.86"/><circle cx="343.0" cy="217.0" r="4.86"/><circle cx="352.0" cy="223.0" r="4.86"/><circle cx="360.2" cy="224.5" r="4.86"/><circle cx="346.0" cy="227.5" r="4.86"/><circle cx="341.5" cy="224.5" r="4.86"/><circle cx="344.5" cy="239.5" r="4.86"/><circle cx="340.7" cy="248.5" r="4.86"/><circle cx="389.5" cy="149.5" r="4.86"/><circle cx="394.0" cy="157.0" r="4.86"/><circle cx="397.7" cy="154.0" r="4.86"/><circle cx="403.0" cy="164.5" r="4.86"/><circle cx="406.0" cy="160.0" r="4.86"/><circle cx="396.2" cy="172.0" r="4.86"/><circle cx="390.2" cy="163.0" r="4.86"/><circle cx="410.5" cy="166.0" r="4.86"/><circle cx="415.0" cy="167.5" r="4.86"/><circle cx="412.0" cy="175.0" r="4.86"/><circle cx="353.5" cy="197.5" r="4.86"/><circle cx="358.0" cy="202.0" r="4.86"/><circle cx="349.0" cy="205.0" r="4.86"/><circle cx="344.5" cy="220.0" r="4.86"/><circle cx="354.2" cy="214.0" r="4.86"/><circle cx="348.2" cy="224.5" r="4.86"/><circle cx="343.0" cy="230.5" r="4.86"/><circle cx="358.0" cy="214.0" r="4.86"/><circle cx="424.0" cy="170.5" r="4.86"/><circle cx="434.5" cy="170.5" r="4.86"/><circle cx="442.0" cy="175.0" r="4.86"/><circle cx="451.0" cy="178.0" r="4.86"/><circle cx="455.5" cy="190.0" r="4.86"/><circle cx="457.0" cy="197.5" r="4.86"/><circle cx="476.6" cy="190.9" r="4.86"/><circle cx="466.3" cy="195.6" r="4.86"/><circle cx="468.1" cy="202.2" r="4.86"/><circle cx="461.6" cy="210.6" r="4.86"/><circle cx="462.5" cy="218.1" r="4.86"/><circle cx="470.9" cy="214.4" r="4.86"/><circle cx="477.5" cy="209.7" r="4.86"/><circle cx="484.1" cy="216.3" r="4.86"/><circle cx="485.0" cy="222.8" r="4.86"/><circle cx="494.4" cy="225.6" r="4.86"/><circle cx="492.5" cy="231.3" r="4.86"/><circle cx="470.9" cy="233.1" r="4.86"/><circle cx="480.3" cy="232.2" r="4.86"/><circle cx="480.3" cy="240.6" r="4.86"/><circle cx="486.9" cy="242.5" r="4.86"/><circle cx="494.4" cy="242.5" r="4.86"/><circle cx="502.8" cy="240.6" r="4.86"/><circle cx="510.3" cy="238.8" r="4.86"/><circle cx="512.2" cy="218.1" r="4.86"/><circle cx="488.8" cy="251.9" r="4.86"/><circle cx="489.1" cy="257.5" r="4.86"/><circle cx="498.1" cy="261.3" r="4.86"/><circle cx="504.7" cy="257.5" r="4.86"/><circle cx="511.3" cy="259.4" r="4.86"/><circle cx="518.8" cy="251.9" r="4.86"/><circle cx="521.6" cy="259.4" r="4.86"/><circle cx="507.5" cy="272.5" r="4.86"/><circle cx="498.1" cy="283.8" r="4.86"/><circle cx="516.9" cy="270.6" r="4.86"/><circle cx="522.5" cy="270.6" r="4.86"/><circle cx="529.1" cy="268.8" r="4.86"/><circle cx="531.9" cy="274.4" r="4.86"/><circle cx="538.4" cy="268.8" r="4.86"/><circle cx="526.3" cy="280.0" r="4.86"/><circle cx="524.4" cy="287.5" r="4.86"/><circle cx="515.0" cy="291.3" r="4.86"/><circle cx="512.2" cy="296.9" r="4.86"/><circle cx="533.8" cy="281.9" r="4.86"/><circle cx="539.4" cy="280.0" r="4.86"/><circle cx="545.0" cy="289.4" r="4.86"/><circle cx="547.8" cy="276.3" r="4.86"/><circle cx="532.8" cy="298.8" r="4.86"/><circle cx="525.3" cy="309.1" r="4.86"/><circle cx="542.2" cy="295.0" r="4.86"/><circle cx="552.5" cy="291.3" r="4.86"/><circle cx="556.3" cy="261.3" r="4.86"/><circle cx="553.4" cy="265.0" r="4.86"/><circle cx="564.7" cy="267.8" r="4.86"/><circle cx="561.9" cy="280.0" r="4.86"/><circle cx="569.4" cy="276.3" r="4.86"/><circle cx="561.9" cy="287.5" r="4.86"/><circle cx="566.6" cy="308.1" r="4.86"/><circle cx="556.3" cy="298.8" r="4.86"/><circle cx="464.4" cy="205.0" r="4.86"/><circle cx="473.8" cy="221.9" r="4.86"/><circle cx="479.4" cy="223.8" r="4.86"/><circle cx="496.3" cy="235.0" r="4.86"/><circle cx="500.0" cy="248.1" r="4.86"/><circle cx="494.4" cy="257.5" r="4.86"/><circle cx="503.8" cy="265.0" r="4.86"/><circle cx="515.0" cy="265.0" r="4.86"/><circle cx="520.6" cy="276.3" r="4.86"/><circle cx="528.1" cy="291.3" r="4.86"/><circle cx="537.5" cy="289.4" r="4.86"/><circle cx="541.3" cy="283.8" r="4.86"/><circle cx="548.8" cy="283.8" r="4.86"/><circle cx="554.4" cy="280.0" r="4.86"/><circle cx="560.0" cy="272.5" r="4.86"/><circle cx="565.6" cy="281.9" r="4.86"/><circle cx="550.6" cy="295.0" r="4.86"/><circle cx="558.1" cy="289.4" r="4.86"/><circle cx="597.2" cy="219.1" r="4.86"/><circle cx="606.2" cy="224.9" r="4.86"/><circle cx="615.6" cy="229.1" r="4.86"/><circle cx="624.4" cy="257.2" r="4.86"/><circle cx="634.3" cy="254.9" r="4.86"/><circle cx="660.6" cy="266.9" r="4.86"/><circle cx="651.2" cy="275.4" r="4.86"/><circle cx="642.2" cy="278.2" r="4.86"/><circle cx="593.4" cy="261.9" r="4.86"/><circle cx="601.9" cy="264.7" r="4.86"/><circle cx="575.2" cy="266.9" r="4.86"/><circle cx="584.0" cy="274.0" r="4.86"/><circle cx="592.0" cy="274.0" r="4.86"/><circle cx="573.8" cy="278.8" r="4.86"/><circle cx="579.4" cy="280.6" r="4.86"/><circle cx="586.9" cy="279.7" r="4.86"/><circle cx="599.0" cy="280.6" r="4.86"/><circle cx="571.5" cy="287.0" r="4.86"/><circle cx="582.0" cy="291.0" r="4.86"/><circle cx="589.3" cy="296.2" r="4.86"/><circle cx="580.3" cy="302.2" r="4.86"/><circle cx="611.2" cy="276.9" r="4.86"/><circle cx="609.4" cy="283.4" r="4.86"/><circle cx="619.0" cy="280.6" r="4.86"/><circle cx="625.7" cy="276.9" r="4.86"/><circle cx="619.7" cy="290.0" r="4.86"/><circle cx="627.2" cy="292.2" r="4.86"/><circle cx="616.9" cy="297.0" r="4.86"/><circle cx="607.5" cy="302.2" r="4.86"/><circle cx="629.0" cy="306.9" r="4.86"/><circle cx="638.4" cy="300.3" r="4.86"/><circle cx="637.5" cy="315.3" r="4.86"/><circle cx="647.2" cy="307.2" r="4.86"/><circle cx="652.5" cy="308.8" r="4.86"/><circle cx="656.6" cy="309.7" r="4.86"/><circle cx="654.4" cy="316.2" r="4.86"/><circle cx="646.5" cy="321.5" r="4.86"/><circle cx="661.5" cy="321.5" r="4.86"/><circle cx="636.2" cy="338.4" r="4.86"/><circle cx="645.6" cy="334.0" r="4.86"/><circle cx="654.4" cy="330.9" r="4.86"/><circle cx="663.8" cy="330.3" r="4.86"/><circle cx="665.6" cy="335.0" r="4.86"/><circle cx="643.5" cy="346.2" r="4.86"/><circle cx="673.7" cy="327.5" r="4.86"/><circle cx="681.6" cy="330.3" r="4.86"/><circle cx="672.8" cy="348.0" r="4.86"/><circle cx="670.3" cy="361.2" r="4.86"/><circle cx="669.4" cy="298.0" r="4.86"/><circle cx="679.3" cy="282.0" r="4.86"/><circle cx="682.5" cy="304.0" r="4.86"/><circle cx="688.0" cy="312.0" r="4.86"/><circle cx="691.5" cy="286.2" r="4.86"/><circle cx="691.0" cy="294.7" r="4.86"/><circle cx="697.5" cy="303.0" r="4.86"/><circle cx="687.8" cy="260.4" r="4.86"/><circle cx="696.2" cy="248.4" r="4.86"/><circle cx="700.0" cy="265.6" r="4.86"/><circle cx="702.2" cy="270.3" r="4.86"/><circle cx="706.9" cy="272.2" r="4.86"/><circle cx="709.7" cy="244.6" r="4.86"/><circle cx="709.7" cy="255.3" r="4.86"/><circle cx="705.4" cy="220.2" r="4.86"/><circle cx="715.3" cy="234.7" r="4.86"/><circle cx="718.0" cy="220.6" r="4.86"/><circle cx="576.0" cy="281.0" r="4.86"/><circle cx="583.0" cy="283.0" r="4.86"/><circle cx="590.5" cy="283.0" r="4.86"/><circle cx="603.0" cy="279.0" r="4.86"/><circle cx="613.0" cy="284.0" r="4.86"/><circle cx="622.0" cy="284.0" r="4.86"/><circle cx="715.0" cy="235.0" r="4.86"/><circle cx="718.3" cy="226.7" r="4.86"/><circle cx="718.3" cy="218.0" r="4.86"/><circle cx="723.3" cy="213.0" r="4.86"/><circle cx="728.3" cy="208.0" r="4.86"/><circle cx="733.3" cy="201.7" r="4.86"/><circle cx="736.7" cy="198.0" r="4.86"/><circle cx="740.0" cy="205.0" r="4.86"/><circle cx="743.3" cy="200.0" r="4.86"/><circle cx="745.0" cy="208.0" r="4.86"/><circle cx="746.7" cy="198.3" r="4.86"/><circle cx="715.0" cy="191.7" r="4.86"/><circle cx="723.3" cy="181.7" r="4.86"/><circle cx="726.7" cy="182.7" r="4.86"/><circle cx="732.7" cy="164.3" r="4.86"/><circle cx="741.7" cy="153.3" r="4.86"/><circle cx="721.0" cy="222.0" r="4.86"/><circle cx="725.0" cy="217.0" r="4.86"/><circle cx="730.0" cy="212.0" r="4.86"/><circle cx="735.0" cy="206.0" r="4.86"/><circle cx="738.0" cy="203.0" r="4.86"/><circle cx="742.0" cy="196.0" r="4.86"/><circle cx="747.0" cy="205.0" r="4.86"/><circle cx="748.0" cy="196.0" r="4.86"/><circle cx="720.0" cy="230.0" r="4.86"/><circle cx="729.0" cy="200.0" r="4.86"/><circle cx="739.0" cy="195.0" r="4.86"/><circle cx="292.0" cy="373.0" r="4.86"/></g>
</g>
<line x1="47.72" x2="50.5" y1="530.50" y2="530.50" stroke="#000" stroke-width="0.83"/>
<line x1="47.72" x2="50.5" y1="508.50" y2="508.50" stroke="#000" stroke-width="0.83"/>
<line x1="47.72" x2="50.5" y1="492.50" y2="492.50" stroke="#000" stroke-width="0.83"/>
<line x1="47.72" x2="50.5" y1="480.50" y2="480.50" stroke="#000" stroke-width="0.83"/>
<line x1="47.72" x2="50.5" y1="471.50" y2="471.50" stroke="#000" stroke-width="0.83"/>
<line x1="47.72" x2="50.5" y1="462.50" y2="462.50" stroke="#000" stroke-width="0.83"/>
<line x1="47.72" x2="50.5" y1="455.50" y2="455.50" stroke="#000" stroke-width="0.83"/>
<line x1="47.72" x2="50.5" y1="449.50" y2="449.50" stroke="#000" stroke-width="0.83"/>
<line x1="47.72" x2="50.5" y1="406.50" y2="406.50" stroke="#000" stroke-width="0.83"/>
<line x1="47.72" x2="50.5" y1="384.50" y2="384.50" stroke="#000" stroke-width="0.83"/>
<line x1="47.72" x2="50.5" y1="368.50" y2="368.50" stroke="#000" stroke-width="0.83"/>
<line x1="47.72" x2="50.5" y1="356.50" y2="356.50" stroke="#000" stroke-width="0.83"/>
<line x1="47.72" x2="50.5" y1="347.50" y2="347.50" stroke="#000" stroke-width="0.83"/>
<line x1="47.72" x2="50.5" y1="338.50" y2="338.50" stroke="#000" stroke-width="0.83"/>
<line x1="47.72" x2="50.5" y1="331.50" y2="331.50" stroke="#000" stroke-width="0.83"/>
<line x1="47.72" x2="50.5" y1="325.50" y2="325.50" stroke="#000" stroke-width="0.83"/>
<line x1="47.72" x2="50.5" y1="282.50" y2="282.50" stroke="#000" stroke-width="0.83"/>
<line x1="47.72" x2="50.5" y1="260.50" y2="260.50" stroke="#000" stroke-width="0.83"/>
<line x1="47.72" x2="50.5" y1="244.50" y2="244.50" stroke="#000" stroke-width="0.83"/>
<line x1="47.72" x2="50.5" y1="232.50" y2="232.50" stroke="#000" stroke-width="0.83"/>
<line x1="47.72" x2="50.5" y1="223.50" y2="223.50" stroke="#000" stroke-width="0.83"/>
<line x1="47.72" x2="50.5" y1="214.50" y2="214.50" stroke="#000" stroke-width="0.83"/>
<line x1="47.72" x2="50.5" y1="207.50" y2="207.50" stroke="#000" stroke-width="0.83"/>
<line x1="47.72" x2="50.5" y1="201.50" y2="201.50" stroke="#000" stroke-width="0.83"/>
<line x1="47.72" x2="50.5" y1="158.50" y2="158.50" stroke="#000" stroke-width="0.83"/>
<line x1="47.72" x2="50.5" y1="136.50" y2="136.50" stroke="#000" stroke-width="0.83"/>
<line x1="47.72" x2="50.5" y1="120.50" y2="120.50" stroke="#000" stroke-width="0.83"/>
<line x1="47.72" x2="50.5" y1="108.50" y2="108.50" stroke="#000" stroke-width="0.83"/>
<line x1="47.72" x2="50.5" y1="99.50" y2="99.50" stroke="#000" stroke-width="0.83"/>
<line x1="47.72" x2="50.5" y1="90.50" y2="90.50" stroke="#000" stroke-width="0.83"/>
<line x1="47.72" x2="50.5" y1="83.50" y2="83.50" stroke="#000" stroke-width="0.83"/>
<line x1="47.72" x2="50.5" y1="77.50" y2="77.50" stroke="#000" stroke-width="0.83"/>
<line x1="47.72" x2="50.5" y1="34.50" y2="34.50" stroke="#000" stroke-width="0.83"/>
<line x1="45.64" x2="50.5" y1="567.50" y2="567.50" stroke="#000" stroke-width="1.11"/>
<text x="39.80" y="573.80" text-anchor="end">10<tspan font-size="9.72px" dy="-5.3">0</tspan></text>
<line x1="45.64" x2="50.5" y1="443.50" y2="443.50" stroke="#000" stroke-width="1.11"/>
<text x="39.80" y="449.80" text-anchor="end">10<tspan font-size="9.72px" dy="-5.3">1</tspan></text>
<line x1="45.64" x2="50.5" y1="319.50" y2="319.50" stroke="#000" stroke-width="1.11"/>
<text x="39.80" y="325.80" text-anchor="end">10<tspan font-size="9.72px" dy="-5.3">2</tspan></text>
<line x1="45.64" x2="50.5" y1="195.50" y2="195.50" stroke="#000" stroke-width="1.11"/>
<text x="39.80" y="201.80" text-anchor="end">10<tspan font-size="9.72px" dy="-5.3">3</tspan></text>
<line x1="45.64" x2="50.5" y1="71.50" y2="71.50" stroke="#000" stroke-width="1.11"/>
<text x="39.80" y="77.80" text-anchor="end">10<tspan font-size="9.72px" dy="-5.3">4</tspan></text>
<line x1="86.50" x2="86.50" y1="567.5" y2="572.36" stroke="#000" stroke-width="1.11"/>
<line x1="125.50" x2="125.50" y1="567.5" y2="570.28" stroke="#000" stroke-width="0.83"/>
<line x1="165.50" x2="165.50" y1="567.5" y2="570.28" stroke="#000" stroke-width="0.83"/>
<line x1="203.50" x2="203.50" y1="567.5" y2="572.36" stroke="#000" stroke-width="1.11"/>
<line x1="243.50" x2="243.50" y1="567.5" y2="570.28" stroke="#000" stroke-width="0.83"/>
<line x1="283.50" x2="283.50" y1="567.5" y2="570.28" stroke="#000" stroke-width="0.83"/>
<line x1="322.50" x2="322.50" y1="567.5" y2="572.36" stroke="#000" stroke-width="1.11"/>
<line x1="362.50" x2="362.50" y1="567.5" y2="570.28" stroke="#000" stroke-width="0.83"/>
<line x1="400.50" x2="400.50" y1="567.5" y2="570.28" stroke="#000" stroke-width="0.83"/>
<line x1="440.50" x2="440.50" y1="567.5" y2="572.36" stroke="#000" stroke-width="1.11"/>
<line x1="480.50" x2="480.50" y1="567.5" y2="570.28" stroke="#000" stroke-width="0.83"/>
<line x1="516.50" x2="516.50" y1="567.5" y2="570.28" stroke="#000" stroke-width="0.83"/>
<line x1="556.50" x2="556.50" y1="567.5" y2="572.36" stroke="#000" stroke-width="1.11"/>
<line x1="594.50" x2="594.50" y1="567.5" y2="570.28" stroke="#000" stroke-width="0.83"/>
<line x1="634.50" x2="634.50" y1="567.5" y2="570.28" stroke="#000" stroke-width="0.83"/>
<line x1="673.50" x2="673.50" y1="567.5" y2="572.36" stroke="#000" stroke-width="1.11"/>
<line x1="713.50" x2="713.50" y1="567.5" y2="570.28" stroke="#000" stroke-width="0.83"/>
<line x1="753.50" x2="753.50" y1="567.5" y2="570.28" stroke="#000" stroke-width="0.83"/>
<line x1="50.50" x2="50.50" y1="567.5" y2="572.36" stroke="#000" stroke-width="1.11"/>
<line x1="785.50" x2="785.50" y1="567.5" y2="572.36" stroke="#000" stroke-width="1.11"/>
<rect x="50.5" y="15.5" width="735.0" height="552.0" fill="none" stroke="#000" stroke-width="1.11"/>
<rect x="57.44" y="22.44" width="157.81" height="24.7" rx="2.78" fill="#fff" fill-opacity="0.8" stroke="#ccc" stroke-width="1.39"/>
<line x1="62.00" x2="91.38" y1="33.94" y2="33.94" stroke="#1f77b4" stroke-width="2.08" stroke-linecap="butt"/>
<text x="100.69" y="37.84">daily confirmed</text>
<g clip-path="url(#cl)">
<path d="M50.5,1175.5 L51.8,1175.5 L53.1,1175.5 L54.4,1175.5 L55.6,1175.5 L56.9,1175.5 L58.2,1175.5 L59.5,1175.5 L60.8,1175.5 L62.1,1175.5 L63.4,1175.5 L64.7,1175.5 L65.9,1175.5 L67.2,1175.5 L68.5,1175.5 L69.8,1175.5 L71.1,1065.3 L72.4,1065.3 L73.7,1065.3 L75.0,1065.3 L76.2,1065.3 L77.5,1065.3 L78.8,1065.3 L80.1,1065.3 L81.4,1065.3 L82.7,1065.3 L84.0,1065.3 L85.3,1065.3 L86.5,1065.3 L87.8,1018.3 L89.1,1018.3 L90.4,1018.3 L91.7,985.1 L93.0,959.2 L94.3,938.1 L95.6,920.3 L96.8,904.8 L98.1,891.2 L99.4,891.2 L100.7,879.0 L102.0,879.0 L103.3,868.0 L104.6,868.0 L105.9,857.9 L107.1,857.9 L108.4,857.9 L109.7,848.6 L111.0,840.1 L112.3,832.1 L113.6,824.6 L114.9,824.6 L116.1,817.6 L117.4,817.6 L118.7,817.6 L120.0,817.6 L121.3,817.6 L122.6,811.0 L123.9,824.6 L125.2,817.6 L126.4,817.6 L127.7,817.6 L129.0,817.6 L130.3,811.0 L131.6,817.6 L132.9,811.0 L134.2,811.0 L135.5,804.7 L136.7,811.0 L138.0,804.7 L139.3,824.6 L140.6,811.0 L141.9,817.6 L143.2,804.7 L144.5,817.6 L145.8,817.6 L147.0,824.6 L148.3,824.6 L149.6,817.6 L150.9,817.6 L152.2,811.0 L153.5,817.6 L154.8,817.6 L156.1,817.6 L157.3,832.1 L158.6,824.6 L159.9,832.1 L161.2,832.1 L162.5,832.1 L163.8,832.1 L165.1,832.1 L166.3,840.1 L167.6,840.1 L168.9,848.6 L170.2,840.1 L171.5,848.6 L172.8,848.6 L174.1,848.6 L175.4,840.1 L176.6,848.6 L177.9,848.6 L179.2,857.9 L180.5,857.9 L181.8,848.6 L183.1,857.9 L184.4,857.9 L185.7,868.0 L186.9,868.0 L188.2,868.0 L189.5,868.0 L190.8,868.0 L192.1,868.0 L193.4,868.0 L194.7,868.0 L196.0,868.0 L197.2,868.0 L198.5,879.0 L199.8,879.0 L201.1,868.0 L202.4,879.0 L203.7,879.0 L205.0,879.0 L206.3,879.0 L207.5,868.0 L208.8,879.0 L210.1,868.0 L211.4,868.0 L212.7,868.0 L214.0,868.0 L215.3,868.0 L216.6,868.0 L217.8,868.0 L219.1,857.9 L220.4,857.9 L221.7,857.9 L223.0,857.9 L224.3,848.6 L225.6,857.9 L226.8,857.9 L228.1,848.6 L229.4,857.9 L230.7,857.9 L232.0,848.6 L233.3,857.9 L234.6,848.6 L235.9,848.6 L237.1,857.9 L238.4,857.9 L239.7,857.9 L241.0,857.9 L242.3,857.9 L243.6,857.9 L244.9,857.9 L246.2,857.9 L247.4,857.9 L248.7,857.9 L250.0,857.9 L251.3,857.9 L252.6,857.9 L253.9,857.9 L255.2,857.9 L256.5,857.9 L257.7,868.0 L259.0,868.0 L260.3,868.0 L261.6,868.0 L262.9,868.0 L264.2,868.0 L265.5,868.0 L266.8,868.0 L268.0,868.0 L269.3,868.0 L270.6,879.0 L271.9,868.0 L273.2,879.0 L274.5,879.0 L275.8,879.0 L277.0,879.0 L278.3,879.0 L279.6,879.0 L280.9,879.0 L282.2,879.0 L283.5,879.0 L284.8,879.0 L286.1,891.2 L287.3,879.0 L288.6,879.0 L289.9,891.2 L291.2,891.2 L292.5,891.2 L293.8,891.2 L295.1,891.2 L296.4,891.2 L297.6,891.2 L298.9,891.2 L300.2,891.2 L301.5,891.2 L302.8,904.8 L304.1,904.8 L305.4,904.8 L306.7,904.8 L307.9,904.8 L309.2,891.2 L310.5,904.8 L311.8,904.8 L313.1,904.8 L314.4,904.8 L315.7,904.8 L317.0,904.8 L318.2,904.8 L319.5,904.8 L320.8,904.8 L322.1,904.8 L323.4,904.8 L324.7,891.2 L326.0,904.8 L327.3,904.8 L328.5,904.8 L329.8,891.2 L331.1,891.2 L332.4,891.2 L333.7,904.8 L335.0,891.2 L336.3,891.2 L337.5,879.0 L338.8,879.0 L340.1,879.0 L341.4,868.0 L342.7,868.0 L344.0,868.0 L345.3,868.0 L346.6,857.9 L347.8,857.9 L349.1,848.6 L350.4,848.6 L351.7,848.6 L353.0,840.1 L354.3,824.6 L355.6,817.6 L356.9,817.6 L358.1,811.0 L359.4,804.7 L360.7,793.1 L362.0,782.6 L363.3,768.4 L364.6,768.4 L365.9,755.8 L367.2,755.8 L368.4,755.8 L369.7,740.8 L371.0,740.8 L372.3,734.0 L373.6,734.0 L374.9,724.5 L376.2,724.5 L377.5,721.5 L378.7,712.9 L380.0,715.7 L381.3,718.6 L382.6,710.2 L383.9,699.9 L385.2,692.7 L386.5,702.4 L387.8,690.4 L389.0,688.2 L390.3,692.7 L391.6,692.7 L392.9,677.6 L394.2,679.6 L395.5,681.7 L396.8,677.6 L398.0,683.8 L399.3,675.5 L400.6,675.5 L401.9,675.5 L403.2,667.8 L404.5,671.6 L405.8,671.6 L407.1,671.6 L408.3,673.6 L409.6,669.7 L410.9,664.2 L412.2,677.6 L413.5,673.6 L414.8,671.6 L416.1,666.0 L417.4,671.6 L418.6,666.0 L419.9,677.6 L421.2,673.6 L422.5,666.0 L423.8,679.6 L425.1,667.8 L426.4,664.2 L427.7,666.0 L428.9,666.0 L430.2,671.6 L431.5,671.6 L432.8,666.0 L434.1,667.8 L435.4,662.4 L436.7,667.8 L438.0,669.7 L439.2,669.7 L440.5,664.2 L441.8,667.8 L443.1,673.6 L444.4,669.7 L445.7,675.5 L447.0,669.7 L448.2,673.6 L449.5,667.8 L450.8,669.7 L452.1,673.6 L453.4,683.8 L454.7,679.6 L456.0,677.6 L457.3,679.6 L458.5,679.6 L459.8,677.6 L461.1,686.0 L462.4,690.4 L463.7,692.7 L465.0,683.8 L466.3,686.0 L467.6,692.7 L468.8,692.7 L470.1,690.4 L471.4,697.4 L472.7,697.4 L474.0,699.9 L475.3,702.4 L476.6,702.4 L477.9,704.9 L479.1,712.9 L480.4,718.6 L481.7,715.7 L483.0,721.5 L484.3,724.5 L485.6,718.6 L486.9,727.6 L488.2,724.5 L489.4,724.5 L490.7,730.7 L492.0,727.6 L493.3,724.5 L494.6,737.4 L495.9,734.0 L497.2,748.1 L498.5,740.8 L499.7,734.0 L501.0,744.4 L502.3,748.1 L503.6,748.1 L504.9,751.8 L506.2,748.1 L507.5,755.8 L508.7,764.0 L510.0,764.0 L511.3,777.7 L512.6,764.0 L513.9,764.0 L515.2,777.7 L516.5,782.6 L517.8,772.9 L519.0,772.9 L520.3,768.4 L521.6,782.6 L522.9,787.7 L524.2,787.7 L525.5,782.6 L526.8,793.1 L528.1,793.1 L529.3,798.8 L530.6,798.8 L531.9,798.8 L533.2,798.8 L534.5,804.7 L535.8,811.0 L537.1,817.6 L538.4,817.6 L539.6,817.6 L540.9,817.6 L542.2,832.1 L543.5,832.1 L544.8,832.1 L546.1,832.1 L547.4,832.1 L548.7,840.1 L549.9,832.1 L551.2,840.1 L552.5,840.1 L553.8,840.1 L555.1,840.1 L556.4,848.6 L557.7,848.6 L559.0,848.6 L560.2,848.6 L561.5,857.9 L562.8,857.9 L564.1,857.9 L565.4,857.9 L566.7,868.0 L568.0,857.9 L569.2,868.0 L570.5,868.0 L571.8,868.0 L573.1,868.0 L574.4,868.0 L575.7,868.0 L577.0,868.0 L578.3,868.0 L579.5,868.0 L580.8,868.0 L582.1,868.0 L583.4,857.9 L584.7,868.0 L586.0,868.0 L587.3,879.0 L588.6,868.0 L589.8,868.0 L591.1,868.0 L592.4,868.0 L593.7,879.0 L595.0,868.0 L596.3,868.0 L597.6,879.0 L598.9,879.0 L600.1,868.0 L601.4,868.0 L602.7,868.0 L604.0,879.0 L605.3,879.0 L606.6,879.0 L607.9,879.0 L609.2,879.0 L610.4,879.0 L611.7,879.0 L613.0,879.0 L614.3,879.0 L615.6,879.0 L616.9,891.2 L618.2,879.0 L619.4,891.2 L620.7,891.2 L622.0,891.2 L623.3,891.2 L624.6,891.2 L625.9,891.2 L627.2,891.2 L628.5,904.8 L629.7,904.8 L631.0,904.8 L632.3,904.8 L633.6,904.8 L634.9,904.8 L636.2,904.8 L637.5,904.8 L638.8,920.3 L640.0,904.8 L641.3,904.8 L642.6,904.8 L643.9,904.8 L645.2,920.3 L646.5,920.3 L647.8,904.8 L649.1,920.3 L650.3,920.3 L651.6,938.1 L652.9,920.3 L654.2,938.1 L655.5,920.3 L656.8,938.1 L658.1,938.1 L659.4,938.1 L660.6,938.1 L661.9,938.1 L663.2,920.3 L664.5,920.3 L665.8,938.1 L667.1,938.1 L668.4,938.1 L669.7,938.1 L670.9,938.1 L672.2,938.1 L673.5,938.1 L674.8,938.1 L676.1,938.1 L677.4,938.1 L678.7,938.1 L679.9,938.1 L681.2,938.1 L682.5,938.1 L683.8,938.1 L685.1,938.1 L686.4,938.1 L687.7,938.1 L689.0,938.1 L690.2,938.1 L691.5,938.1 L692.8,920.3 L694.1,938.1 L695.4,938.1 L696.7,938.1 L698.0,938.1 L699.3,938.1 L700.5,920.3 L701.8,938.1 L703.1,938.1 L704.4,938.1 L705.7,920.3 L707.0,938.1 L708.3,920.3 L709.6,920.3 L710.8,920.3 L712.1,920.3 L713.4,920.3 L714.7,920.3 L716.0,920.3 L717.3,920.3 L718.6,904.8 L719.9,920.3 L721.1,904.8 L722.4,904.8 L723.7,904.8 L725.0,904.8 L726.3,891.2 L727.6,891.2 L728.9,891.2 L730.1,891.2 L731.4,891.2 L732.7,879.0 L734.0,879.0 L735.3,868.0 L736.6,868.0 L737.9,857.9 L739.2,857.9 L740.4,857.9 L741.7,840.1 L743.0,832.1 L744.3,840.1 L745.6,832.1 L746.9,824.6 L748.2,832.1 L749.5,817.6 L750.7,811.0 L752.0,811.0 L753.3,804.7 L754.6,793.1 L755.9,793.1 L757.2,782.6 L758.5,777.7 L759.8,768.4 L761.0,764.0 L762.3,751.8 L763.6,744.4 L764.9,730.7 L766.2,721.5 L767.5,715.7 L768.8,707.5 L770.1,699.9 L771.3,695.1 L772.6,688.2 L773.9,675.5 L775.2,671.6 L776.5,657.1 L777.8,657.1 L779.1,648.9 L780.4,635.5 L781.6,618.4 L782.9,620.9 L784.2,616.0 L785.5,598.4 L785.5,1145.5 L784.2,1145.5 L782.9,1145.5 L781.6,1145.5 L780.4,1145.5 L779.1,1065.3 L777.8,1065.3 L776.5,1065.3 L775.2,1065.3 L773.9,1065.3 L772.6,1065.3 L771.3,1065.3 L770.1,1065.3 L768.8,1145.5 L767.5,1145.5 L766.2,1145.5 L764.9,1145.5 L763.6,1145.5 L762.3,1145.5 L761.0,1145.5 L759.8,1145.5 L758.5,1145.5 L757.2,1145.5 L755.9,1145.5 L754.6,1145.5 L753.3,1145.5 L752.0,1145.5 L750.7,1145.5 L749.5,1145.5 L748.2,1145.5 L746.9,1145.5 L745.6,1145.5 L744.3,1145.5 L743.0,1145.5 L741.7,1145.5 L740.4,1145.5 L739.2,1175.5 L737.9,1175.5 L736.6,1175.5 L735.3,1175.5 L734.0,1175.5 L732.7,1175.5 L731.4,1175.5 L730.1,1175.5 L728.9,1175.5 L727.6,1175.5 L726.3,1175.5 L725.0,1175.5 L723.7,1175.5 L722.4,1175.5 L721.1,1175.5 L719.9,1175.5 L718.6,1175.5 L717.3,1175.5 L716.0,1175.5 L714.7,1175.5 L713.4,1175.5 L712.1,1175.5 L710.8,1175.5 L709.6,1175.5 L708.3,1175.5 L707.0,1175.5 L705.7,1175.5 L704.4,1175.5 L703.1,1175.5 L701.8,1175.5 L700.5,1175.5 L699.3,1175.5 L698.0,1175.5 L696.7,1175.5 L695.4,1175.5 L694.1,1175.5 L692.8,1175.5 L691.5,1175.5 L690.2,1175.5 L689.0,1175.5 L687.7,1175.5 L686.4,1175.5 L685.1,1175.5 L683.8,1175.5 L682.5,1175.5 L681.2,1175.5 L679.9,1175.5 L678.7,1175.5 L677.4,1175.5 L676.1,1175.5 L674.8,1175.5 L673.5,1175.5 L672.2,1175.5 L670.9,1175.5 L669.7,1175.5 L668.4,1175.5 L667.1,1175.5 L665.8,1175.5 L664.5,1175.5 L663.2,1175.5 L661.9,1175.5 L660.6,1175.5 L659.4,1175.5 L658.1,1175.5 L656.8,1175.5 L655.5,1175.5 L654.2,1175.5 L652.9,1175.5 L651.6,1175.5 L650.3,1175.5 L649.1,1175.5 L647.8,1175.5 L646.5,1175.5 L645.2,1175.5 L643.9,1175.5 L642.6,1175.5 L641.3,1175.5 L640.0,1175.5 L638.8,1175.5 L637.5,1175.5 L636.2,1175.5 L634.9,1175.5 L633.6,1175.5 L632.3,1175.5 L631.0,1175.5 L629.7,1175.5 L628.5,1175.5 L627.2,1175.5 L625.9,1175.5 L624.6,1175.5 L623.3,1175.5 L622.0,1175.5 L620.7,1175.5 L619.4,1175.5 L618.2,1175.5 L616.9,1175.5 L615.6,1175.5 L614.3,1175.5 L613.0,1175.5 L611.7,1175.5 L610.4,1175.5 L609.2,1175.5 L607.9,1175.5 L606.6,1175.5 L605.3,1175.5 L604.0,1175.5 L602.7,1175.5 L601.4,1175.5 L600.1,1175.5 L598.9,1175.5 L597.6,1175.5 L596.3,1175.5 L595.0,1175.5 L593.7,1175.5 L592.4,1175.5 L591.1,1175.5 L589.8,1175.5 L588.6,1175.5 L587.3,1175.5 L586.0,1175.5 L584.7,1175.5 L583.4,1175.5 L582.1,1175.5 L580.8,1175.5 L579.5,1175.5 L578.3,1175.5 L577.0,1175.5 L575.7,1175.5 L574.4,1175.5 L573.1,1175.5 L571.8,1175.5 L570.5,1175.5 L569.2,1175.5 L568.0,1175.5 L566.7,1175.5 L565.4,1175.5 L564.1,1175.5 L562.8,1175.5 L561.5,1175.5 L560.2,1175.5 L559.0,1145.5 L557.7,1145.5 L556.4,1175.5 L555.1,1145.5 L553.8,1145.5 L552.5,1145.5 L551.2,1145.5 L549.9,1145.5 L548.7,1145.5 L547.4,1145.5 L546.1,1145.5 L544.8,1145.5 L543.5,1145.5 L542.2,1145.5 L540.9,1145.5 L539.6,1145.5 L538.4,1145.5 L537.1,1145.5 L535.8,1145.5 L534.5,1145.5 L533.2,1145.5 L531.9,1065.3 L530.6,1065.3 L529.3,1065.3 L528.1,1065.3 L526.8,1065.3 L525.5,1065.3 L524.2,1065.3 L522.9,1065.3 L521.6,1065.3 L520.3,1065.3 L519.0,1065.3 L517.8,1018.3 L516.5,1018.3 L515.2,1065.3 L513.9,1018.3 L512.6,1018.3 L511.3,1018.3 L510.0,1018.3 L508.7,1018.3 L507.5,1018.3 L506.2,1018.3 L504.9,1018.3 L503.6,985.1 L502.3,985.1 L501.0,985.1 L499.7,985.1 L498.5,985.1 L497.2,985.1 L495.9,985.1 L494.6,985.1 L493.3,985.1 L492.0,959.2 L490.7,959.2 L489.4,959.2 L488.2,959.2 L486.9,959.2 L485.6,959.2 L484.3,938.1 L483.0,938.1 L481.7,938.1 L480.4,938.1 L479.1,938.1 L477.9,938.1 L476.6,920.3 L475.3,920.3 L474.0,920.3 L472.7,920.3 L471.4,904.8 L470.1,920.3 L468.8,904.8 L467.6,904.8 L466.3,904.8 L465.0,891.2 L463.7,904.8 L462.4,891.2 L461.1,904.8 L459.8,904.8 L458.5,891.2 L457.3,891.2 L456.0,891.2 L454.7,904.8 L453.4,891.2 L452.1,891.2 L450.8,891.2 L449.5,904.8 L448.2,891.2 L447.0,891.2 L445.7,891.2 L444.4,891.2 L443.1,891.2 L441.8,891.2 L440.5,891.2 L439.2,904.8 L438.0,904.8 L436.7,891.2 L435.4,891.2 L434.1,891.2 L432.8,904.8 L431.5,891.2 L430.2,904.8 L428.9,891.2 L427.7,891.2 L426.4,891.2 L425.1,891.2 L423.8,891.2 L422.5,891.2 L421.2,891.2 L419.9,904.8 L418.6,891.2 L417.4,904.8 L416.1,891.2 L414.8,891.2 L413.5,904.8 L412.2,891.2 L410.9,891.2 L409.6,904.8 L408.3,904.8 L407.1,904.8 L405.8,904.8 L404.5,891.2 L403.2,891.2 L401.9,891.2 L400.6,891.2 L399.3,891.2 L398.0,904.8 L396.8,904.8 L395.5,920.3 L394.2,904.8 L392.9,904.8 L391.6,904.8 L390.3,920.3 L389.0,920.3 L387.8,920.3 L386.5,938.1 L385.2,920.3 L383.9,938.1 L382.6,938.1 L381.3,938.1 L380.0,959.2 L378.7,959.2 L377.5,959.2 L376.2,959.2 L374.9,985.1 L373.6,985.1 L372.3,985.1 L371.0,985.1 L369.7,1018.3 L368.4,1018.3 L367.2,1018.3 L365.9,1018.3 L364.6,1018.3 L363.3,1065.3 L362.0,1065.3 L360.7,1065.3 L359.4,1065.3 L358.1,1145.5 L356.9,1145.5 L355.6,1145.5 L354.3,1145.5 L353.0,1145.5 L351.7,1145.5 L350.4,1145.5 L349.1,1175.5 L347.8,1175.5 L346.6,1175.5 L345.3,1175.5 L344.0,1175.5 L342.7,1175.5 L341.4,1175.5 L340.1,1175.5 L338.8,1175.5 L337.5,1175.5 L336.3,1175.5 L335.0,1175.5 L333.7,1175.5 L332.4,1175.5 L331.1,1175.5 L329.8,1175.5 L328.5,1175.5 L327.3,1175.5 L326.0,1175.5 L324.7,1175.5 L323.4,1175.5 L322.1,1175.5 L320.8,1175.5 L319.5,1175.5 L318.2,1175.5 L317.0,1175.5 L315.7,1175.5 L314.4,1175.5 L313.1,1175.5 L311.8,1175.5 L310.5,1175.5 L309.2,1175.5 L307.9,1175.5 L306.7,1175.5 L305.4,1175.5 L304.1,1175.5 L302.8,1175.5 L301.5,1175.5 L300.2,1175.5 L298.9,1175.5 L297.6,1175.5 L296.4,1175.5 L295.1,1175.5 L293.8,1175.5 L292.5,1175.5 L291.2,1175.5 L289.9,1175.5 L288.6,1175.5 L287.3,1175.5 L286.1,1175.5 L284.8,1175.5 L283.5,1175.5 L282.2,1175.5 L280.9,1175.5 L279.6,1175.5 L278.3,1175.5 L277.0,1175.5 L275.8,1175.5 L274.5,1175.5 L273.2,1175.5 L271.9,1175.5 L270.6,1175.5 L269.3,1175.5 L268.0,1175.5 L266.8,1175.5 L265.5,1175.5 L264.2,1175.5 L262.9,1175.5 L261.6,1175.5 L260.3,1175.5 L259.0,1175.5 L257.7,1175.5 L256.5,1175.5 L255.2,1175.5 L253.9,1175.5 L252.6,1175.5 L251.3,1175.5 L250.0,1175.5 L248.7,1175.5 L247.4,1175.5 L246.2,1175.5 L244.9,1145.5 L243.6,1175.5 L242.3,1175.5 L241.0,1175.5 L239.7,1175.5 L238.4,1175.5 L237.1,1175.5 L235.9,1175.5 L234.6,1145.5 L233.3,1175.5 L232.0,1175.5 L230.7,1175.5 L229.4,1175.5 L228.1,1175.5 L226.8,1175.5 L225.6,1175.5 L224.3,1175.5 L223.0,1175.5 L221.7,1175.5 L220.4,1175.5 L219.1,1175.5 L217.8,1175.5 L216.6,1175.5 L215.3,1175.5 L214.0,1175.5 L212.7,1175.5 L211.4,1175.5 L210.1,1175.5 L208.8,1175.5 L207.5,1175.5 L206.3,1175.5 L205.0,1175.5 L203.7,1175.5 L202.4,1175.5 L201.1,1175.5 L199.8,1175.5 L198.5,1175.5 L197.2,1175.5 L196.0,1175.5 L194.7,1175.5 L193.4,1175.5 L192.1,1175.5 L190.8,1175.5 L189.5,1175.5 L188.2,1175.5 L186.9,1175.5 L185.7,1175.5 L184.4,1175.5 L183.1,1175.5 L181.8,1175.5 L180.5,1175.5 L179.2,1145.5 L177.9,1145.5 L176.6,1145.5 L175.4,1145.5 L174.1,1175.5 L172.8,1145.5 L171.5,1145.5 L170.2,1145.5 L168.9,1145.5 L167.6,1145.5 L166.3,1145.5 L165.1,1145.5 L163.8,1145.5 L162.5,1145.5 L161.2,1145.5 L159.9,1145.5 L158.6,1145.5 L157.3,1145.5 L156.1,1145.5 L154.8,1145.5 L153.5,1145.5 L152.2,1145.5 L150.9,1145.5 L149.6,1145.5 L148.3,1145.5 L147.0,1145.5 L145.8,1145.5 L144.5,1145.5 L143.2,1145.5 L141.9,1145.5 L140.6,1065.3 L139.3,1065.3 L138.0,1145.5 L136.7,1065.3 L135.5,1145.5 L134.2,1065.3 L132.9,1145.5 L131.6,1145.5 L130.3,1145.5 L129.0,1145.5 L127.7,1145.5 L126.4,1145.5 L125.2,1145.5 L123.9,1145.5 L122.6,1145.5 L121.3,1145.5 L120.0,1145.5 L118.7,1145.5 L117.4,1145.5 L116.1,1145.5 L114.9,1145.5 L113.6,1145.5 L112.3,1145.5 L111.0,1145.5 L109.7,1145.5 L108.4,1145.5 L107.1,1175.5 L105.9,1175.5 L104.6,1175.5 L103.3,1175.5 L102.0,1175.5 L100.7,1175.5 L99.4,1175.5 L98.1,1175.5 L96.8,1175.5 L95.6,1175.5 L94.3,1175.5 L93.0,1175.5 L91.7,1175.5 L90.4,1175.5 L89.1,1175.5 L87.8,1175.5 L86.5,1175.5 L85.3,1175.5 L84.0,1175.5 L82.7,1175.5 L81.4,1175.5 L80.1,1175.5 L78.8,1175.5 L77.5,1175.5 L76.2,1175.5 L75.0,1175.5 L73.7,1175.5 L72.4,1175.5 L71.1,1175.5 L69.8,1175.5 L68.5,1175.5 L67.2,1175.5 L65.9,1175.5 L64.7,1175.5 L63.4,1175.5 L62.1,1175.5 L60.8,1175.5 L59.5,1175.5 L58.2,1175.5 L56.9,1175.5 L55.6,1175.5 L54.4,1175.5 L53.1,1175.5 L51.8,1175.5 L50.5,1175.5Z" fill="#1f77b4" fill-opacity="0.1" stroke="#1f77b4" stroke-opacity="0.1" stroke-width="1.39" stroke-linejoin="round"/>
<path d="M50.5,1175.5 L51.8,1175.5 L53.1,1175.5 L54.4,1175.5 L55.6,1175.5 L56.9,1175.5 L58.2,1175.5 L59.5,1175.5 L60.8,1175.5 L62.1,1175.5 L63.4,1175.5 L64.7,1175.5 L65.9,1175.5 L67.2,1175.5 L68.5,1175.5 L69.8,1175.5 L71.1,1145.5 L72.4,1145.5 L73.7,1145.5 L75.0,1145.5 L76.2,1145.5 L77.5,1145.5 L78.8,1145.5 L80.1,1145.5 L81.4,1145.5 L82.7,1145.5 L84.0,1145.5 L85.3,1145.5 L86.5,1145.5 L87.8,1065.3 L89.1,1065.3 L90.4,1065.3 L91.7,1018.3 L93.0,985.1 L94.3,959.2 L95.6,959.2 L96.8,938.1 L98.1,938.1 L99.4,920.3 L100.7,920.3 L102.0,904.8 L103.3,904.8 L104.6,891.2 L105.9,891.2 L107.1,891.2 L108.4,879.0 L109.7,879.0 L111.0,879.0 L112.3,868.0 L113.6,857.9 L114.9,848.6 L116.1,857.9 L117.4,848.6 L118.7,857.9 L120.0,848.6 L121.3,840.1 L122.6,840.1 L123.9,848.6 L125.2,848.6 L126.4,848.6 L127.7,848.6 L129.0,848.6 L130.3,840.1 L131.6,848.6 L132.9,848.6 L134.2,840.1 L135.5,840.1 L136.7,840.1 L138.0,848.6 L139.3,840.1 L140.6,848.6 L141.9,848.6 L143.2,840.1 L144.5,848.6 L145.8,857.9 L147.0,848.6 L148.3,848.6 L149.6,848.6 L150.9,848.6 L152.2,857.9 L153.5,857.9 L154.8,848.6 L156.1,857.9 L157.3,857.9 L158.6,857.9 L159.9,857.9 L161.2,868.0 L162.5,857.9 L163.8,868.0 L165.1,879.0 L166.3,868.0 L167.6,868.0 L168.9,879.0 L170.2,879.0 L171.5,891.2 L172.8,891.2 L174.1,879.0 L175.4,879.0 L176.6,879.0 L177.9,879.0 L179.2,879.0 L180.5,891.2 L181.8,891.2 L183.1,891.2 L184.4,891.2 L185.7,891.2 L186.9,904.8 L188.2,891.2 L189.5,904.8 L190.8,904.8 L192.1,904.8 L193.4,904.8 L194.7,904.8 L196.0,904.8 L197.2,920.3 L198.5,904.8 L199.8,904.8 L201.1,904.8 L202.4,904.8 L203.7,904.8 L205.0,904.8 L206.3,904.8 L207.5,904.8 L208.8,904.8 L210.1,904.8 L211.4,904.8 L212.7,904.8 L214.0,891.2 L215.3,891.2 L216.6,904.8 L217.8,904.8 L219.1,891.2 L220.4,891.2 L221.7,891.2 L223.0,891.2 L224.3,891.2 L225.6,891.2 L226.8,891.2 L228.1,891.2 L229.4,891.2 L230.7,891.2 L232.0,904.8 L233.3,891.2 L234.6,891.2 L235.9,891.2 L237.1,891.2 L238.4,891.2 L239.7,891.2 L241.0,891.2 L242.3,891.2 L243.6,891.2 L244.9,891.2 L246.2,891.2 L247.4,891.2 L248.7,891.2 L250.0,891.2 L251.3,891.2 L252.6,891.2 L253.9,891.2 L255.2,891.2 L256.5,891.2 L257.7,891.2 L259.0,891.2 L260.3,891.2 L261.6,904.8 L262.9,904.8 L264.2,904.8 L265.5,904.8 L266.8,904.8 L268.0,904.8 L269.3,904.8 L270.6,904.8 L271.9,904.8 L273.2,904.8 L274.5,904.8 L275.8,920.3 L277.0,920.3 L278.3,920.3 L279.6,920.3 L280.9,920.3 L282.2,920.3 L283.5,920.3 L284.8,920.3 L286.1,920.3 L287.3,920.3 L288.6,920.3 L289.9,920.3 L291.2,920.3 L292.5,920.3 L293.8,938.1 L295.1,920.3 L296.4,938.1 L297.6,920.3 L298.9,938.1 L300.2,938.1 L301.5,938.1 L302.8,938.1 L304.1,938.1 L305.4,938.1 L306.7,938.1 L307.9,938.1 L309.2,938.1 L310.5,938.1 L311.8,938.1 L313.1,938.1 L314.4,938.1 L315.7,938.1 L317.0,938.1 L318.2,938.1 L319.5,938.1 L320.8,938.1 L322.1,938.1 L323.4,938.1 L324.7,938.1 L326.0,938.1 L327.3,938.1 L328.5,938.1 L329.8,938.1 L331.1,938.1 L332.4,920.3 L333.7,920.3 L335.0,920.3 L336.3,920.3 L337.5,920.3 L338.8,920.3 L340.1,920.3 L341.4,904.8 L342.7,904.8 L344.0,904.8 L345.3,904.8 L346.6,891.2 L347.8,891.2 L349.1,879.0 L350.4,879.0 L351.7,868.0 L353.0,868.0 L354.3,857.9 L355.6,857.9 L356.9,848.6 L358.1,840.1 L359.4,832.1 L360.7,824.6 L362.0,817.6 L363.3,804.7 L364.6,804.7 L365.9,787.7 L367.2,793.1 L368.4,782.6 L369.7,777.7 L371.0,768.4 L372.3,768.4 L373.6,764.0 L374.9,759.8 L376.2,751.8 L377.5,748.1 L378.7,744.4 L380.0,748.1 L381.3,740.8 L382.6,734.0 L383.9,727.6 L385.2,721.5 L386.5,727.6 L387.8,721.5 L389.0,721.5 L390.3,721.5 L391.6,712.9 L392.9,710.2 L394.2,710.2 L395.5,718.6 L396.8,702.4 L398.0,712.9 L399.3,699.9 L400.6,697.4 L401.9,690.4 L403.2,707.5 L404.5,702.4 L405.8,699.9 L407.1,697.4 L408.3,699.9 L409.6,692.7 L410.9,699.9 L412.2,697.4 L413.5,697.4 L414.8,695.1 L416.1,695.1 L417.4,702.4 L418.6,692.7 L419.9,699.9 L421.2,699.9 L422.5,699.9 L423.8,697.4 L425.1,695.1 L426.4,695.1 L427.7,702.4 L428.9,697.4 L430.2,692.7 L431.5,692.7 L432.8,697.4 L434.1,699.9 L435.4,695.1 L436.7,699.9 L438.0,702.4 L439.2,707.5 L440.5,697.4 L441.8,695.1 L443.1,692.7 L444.4,695.1 L445.7,697.4 L447.0,699.9 L448.2,699.9 L449.5,699.9 L450.8,707.5 L452.1,702.4 L453.4,707.5 L454.7,702.4 L456.0,704.9 L457.3,715.7 L458.5,715.7 L459.8,710.2 L461.1,710.2 L462.4,715.7 L463.7,715.7 L465.0,715.7 L466.3,721.5 L467.6,721.5 L468.8,721.5 L470.1,718.6 L471.4,727.6 L472.7,727.6 L474.0,730.7 L475.3,734.0 L476.6,737.4 L477.9,740.8 L479.1,737.4 L480.4,737.4 L481.7,744.4 L483.0,751.8 L484.3,748.1 L485.6,748.1 L486.9,751.8 L488.2,748.1 L489.4,759.8 L490.7,759.8 L492.0,759.8 L493.3,755.8 L494.6,764.0 L495.9,764.0 L497.2,772.9 L498.5,768.4 L499.7,772.9 L501.0,777.7 L502.3,772.9 L503.6,777.7 L504.9,782.6 L506.2,782.6 L507.5,787.7 L508.7,793.1 L510.0,793.1 L511.3,787.7 L512.6,798.8 L513.9,798.8 L515.2,793.1 L516.5,798.8 L517.8,798.8 L519.0,798.8 L520.3,811.0 L521.6,811.0 L522.9,811.0 L524.2,817.6 L525.5,811.0 L526.8,824.6 L528.1,824.6 L529.3,824.6 L530.6,840.1 L531.9,824.6 L533.2,832.1 L534.5,840.1 L535.8,848.6 L537.1,848.6 L538.4,848.6 L539.6,857.9 L540.9,848.6 L542.2,857.9 L543.5,857.9 L544.8,868.0 L546.1,868.0 L547.4,857.9 L548.7,868.0 L549.9,868.0 L551.2,868.0 L552.5,868.0 L553.8,879.0 L555.1,879.0 L556.4,879.0 L557.7,891.2 L559.0,879.0 L560.2,879.0 L561.5,891.2 L562.8,891.2 L564.1,891.2 L565.4,891.2 L566.7,891.2 L568.0,891.2 L569.2,904.8 L570.5,891.2 L571.8,891.2 L573.1,891.2 L574.4,904.8 L575.7,904.8 L577.0,904.8 L578.3,904.8 L579.5,904.8 L580.8,891.2 L582.1,891.2 L583.4,904.8 L584.7,904.8 L586.0,904.8 L587.3,904.8 L588.6,904.8 L589.8,904.8 L591.1,904.8 L592.4,904.8 L593.7,904.8 L595.0,904.8 L596.3,904.8 L597.6,904.8 L598.9,904.8 L600.1,904.8 L601.4,904.8 L602.7,904.8 L604.0,904.8 L605.3,920.3 L606.6,904.8 L607.9,920.3 L609.2,904.8 L610.4,920.3 L611.7,904.8 L613.0,920.3 L614.3,904.8 L615.6,920.3 L616.9,920.3 L618.2,920.3 L619.4,920.3 L620.7,920.3 L622.0,920.3 L623.3,938.1 L624.6,920.3 L625.9,938.1 L627.2,938.1 L628.5,938.1 L629.7,938.1 L631.0,938.1 L632.3,938.1 L633.6,938.1 L634.9,938.1 L636.2,938.1 L637.5,938.1 L638.8,959.2 L640.0,938.1 L641.3,959.2 L642.6,938.1 L643.9,959.2 L645.2,938.1 L646.5,959.2 L647.8,959.2 L649.1,959.2 L650.3,959.2 L651.6,959.2 L652.9,959.2 L654.2,959.2 L655.5,959.2 L656.8,959.2 L658.1,959.2 L659.4,985.1 L660.6,959.2 L661.9,959.2 L663.2,959.2 L664.5,959.2 L665.8,985.1 L667.1,959.2 L668.4,985.1 L669.7,985.1 L670.9,985.1 L672.2,985.1 L673.5,985.1 L674.8,959.2 L676.1,985.1 L677.4,985.1 L678.7,985.1 L679.9,985.1 L681.2,985.1 L682.5,985.1 L683.8,985.1 L685.1,985.1 L686.4,985.1 L687.7,985.1 L689.0,959.2 L690.2,985.1 L691.5,985.1 L692.8,985.1 L694.1,959.2 L695.4,985.1 L696.7,959.2 L698.0,959.2 L699.3,959.2 L700.5,959.2 L701.8,959.2 L703.1,959.2 L704.4,959.2 L705.7,959.2 L707.0,959.2 L708.3,959.2 L709.6,959.2 L710.8,959.2 L712.1,959.2 L713.4,959.2 L714.7,959.2 L716.0,959.2 L717.3,959.2 L718.6,959.2 L719.9,959.2 L721.1,938.1 L722.4,938.1 L723.7,938.1 L725.0,938.1 L726.3,938.1 L727.6,938.1 L728.9,938.1 L730.1,920.3 L731.4,920.3 L732.7,920.3 L734.0,904.8 L735.3,904.8 L736.6,904.8 L737.9,891.2 L739.2,891.2 L740.4,891.2 L741.7,879.0 L743.0,868.0 L744.3,868.0 L745.6,868.0 L746.9,857.9 L748.2,868.0 L749.5,868.0 L750.7,857.9 L752.0,848.6 L753.3,840.1 L754.6,832.1 L755.9,824.6 L757.2,824.6 L758.5,811.0 L759.8,804.7 L761.0,793.1 L762.3,793.1 L763.6,782.6 L764.9,787.7 L766.2,777.7 L767.5,768.4 L768.8,751.8 L770.1,751.8 L771.3,740.8 L772.6,734.0 L773.9,730.7 L775.2,724.5 L776.5,715.7 L777.8,710.2 L779.1,695.1 L780.4,699.9 L781.6,686.0 L782.9,686.0 L784.2,671.6 L785.5,673.6 L785.5,959.2 L784.2,959.2 L782.9,959.2 L781.6,985.1 L780.4,985.1 L779.1,985.1 L777.8,985.1 L776.5,985.1 L775.2,985.1 L773.9,985.1 L772.6,985.1 L771.3,985.1 L770.1,985.1 L768.8,985.1 L767.5,1018.3 L766.2,1018.3 L764.9,1018.3 L763.6,1018.3 L762.3,1018.3 L761.0,1018.3 L759.8,1018.3 L758.5,1018.3 L757.2,1018.3 L755.9,1018.3 L754.6,1018.3 L753.3,1018.3 L752.0,1018.3 L750.7,1065.3 L749.5,1065.3 L748.2,1065.3 L746.9,1065.3 L745.6,1065.3 L744.3,1065.3 L743.0,1065.3 L741.7,1065.3 L740.4,1065.3 L739.2,1065.3 L737.9,1145.5 L736.6,1145.5 L735.3,1145.5 L734.0,1145.5 L732.7,1145.5 L731.4,1145.5 L730.1,1145.5 L728.9,1145.5 L727.6,1145.5 L726.3,1145.5 L725.0,1145.5 L723.7,1145.5 L722.4,1175.5 L721.1,1175.5 L719.9,1175.5 L718.6,1175.5 L717.3,1175.5 L716.0,1175.5 L714.7,1175.5 L713.4,1175.5 L712.1,1175.5 L710.8,1175.5 L709.6,1175.5 L708.3,1175.5 L707.0,1175.5 L705.7,1175.5 L704.4,1175.5 L703.1,1175.5 L701.8,1175.5 L700.5,1175.5 L699.3,1175.5 L698.0,1175.5 L696.7,1175.5 L695.4,1175.5 L694.1,1175.5 L692.8,1175.5 L691.5,1175.5 L690.2,1175.5 L689.0,1175.5 L687.7,1175.5 L686.4,1175.5 L685.1,1175.5 L683.8,1175.5 L682.5,1175.5 L681.2,1175.5 L679.9,1175.5 L678.7,1175.5 L677.4,1175.5 L676.1,1175.5 L674.8,1175.5 L673.5,1175.5 L672.2,1175.5 L670.9,1175.5 L669.7,1175.5 L668.4,1175.5 L667.1,1175.5 L665.8,1175.5 L664.5,1175.5 L663.2,1175.5 L661.9,1175.5 L660.6,1175.5 L659.4,1175.5 L658.1,1175.5 L656.8,1175.5 L655.5,1175.5 L654.2,1175.5 L652.9,1175.5 L651.6,1175.5 L650.3,1175.5 L649.1,1175.5 L647.8,1175.5 L646.5,1175.5 L645.2,1175.5 L643.9,1175.5 L642.6,1175.5 L641.3,1175.5 L640.0,1145.5 L638.8,1175.5 L637.5,1145.5 L636.2,1145.5 L634.9,1145.5 L633.6,1145.5 L632.3,1145.5 L631.0,1145.5 L629.7,1145.5 L628.5,1145.5 L627.2,1145.5 L625.9,1145.5 L624.6,1145.5 L623.3,1145.5 L622.0,1145.5 L620.7,1145.5 L619.4,1145.5 L618.2,1145.5 L616.9,1145.5 L615.6,1145.5 L614.3,1145.5 L613.0,1145.5 L611.7,1145.5 L610.4,1145.5 L609.2,1145.5 L607.9,1145.5 L606.6,1145.5 L605.3,1145.5 L604.0,1145.5 L602.7,1145.5 L601.4,1145.5 L600.1,1145.5 L598.9,1145.5 L597.6,1145.5 L596.3,1145.5 L595.0,1145.5 L593.7,1145.5 L592.4,1145.5 L591.1,1145.5 L589.8,1145.5 L588.6,1145.5 L587.3,1145.5 L586.0,1145.5 L584.7,1145.5 L583.4,1145.5 L582.1,1145.5 L580.8,1145.5 L579.5,1145.5 L578.3,1145.5 L577.0,1145.5 L575.7,1145.5 L574.4,1145.5 L573.1,1145.5 L571.8,1145.5 L570.5,1145.5 L569.2,1145.5 L568.0,1145.5 L566.7,1145.5 L565.4,1065.3 L564.1,1065.3 L562.8,1065.3 L561.5,1065.3 L560.2,1065.3 L559.0,1065.3 L557.7,1065.3 L556.4,1065.3 L555.1,1065.3 L553.8,1065.3 L552.5,1065.3 L551.2,1065.3 L549.9,1065.3 L548.7,1065.3 L547.4,1065.3 L546.1,1065.3 L544.8,1065.3 L543.5,1065.3 L542.2,1065.3 L540.9,1018.3 L539.6,1018.3 L538.4,1065.3 L537.1,1018.3 L535.8,1018.3 L534.5,1018.3 L533.2,1018.3 L531.9,1018.3 L530.6,1018.3 L529.3,985.1 L528.1,985.1 L526.8,985.1 L525.5,985.1 L524.2,985.1 L522.9,985.1 L521.6,985.1 L520.3,959.2 L519.0,959.2 L517.8,959.2 L516.5,985.1 L515.2,959.2 L513.9,959.2 L512.6,959.2 L511.3,959.2 L510.0,959.2 L508.7,959.2 L507.5,959.2 L506.2,959.2 L504.9,938.1 L503.6,938.1 L502.3,938.1 L501.0,938.1 L499.7,920.3 L498.5,920.3 L497.2,920.3 L495.9,920.3 L494.6,920.3 L493.3,920.3 L492.0,904.8 L490.7,904.8 L489.4,904.8 L488.2,904.8 L486.9,904.8 L485.6,904.8 L484.3,904.8 L483.0,904.8 L481.7,891.2 L480.4,904.8 L479.1,891.2 L477.9,891.2 L476.6,891.2 L475.3,879.0 L474.0,879.0 L472.7,879.0 L471.4,868.0 L470.1,868.0 L468.8,879.0 L467.6,868.0 L466.3,868.0 L465.0,868.0 L463.7,868.0 L462.4,857.9 L461.1,857.9 L459.8,848.6 L458.5,857.9 L457.3,848.6 L456.0,857.9 L454.7,848.6 L453.4,848.6 L452.1,848.6 L450.8,848.6 L449.5,848.6 L448.2,848.6 L447.0,848.6 L445.7,840.1 L444.4,840.1 L443.1,840.1 L441.8,848.6 L440.5,848.6 L439.2,840.1 L438.0,840.1 L436.7,840.1 L435.4,840.1 L434.1,848.6 L432.8,840.1 L431.5,832.1 L430.2,848.6 L428.9,840.1 L427.7,848.6 L426.4,840.1 L425.1,832.1 L423.8,840.1 L422.5,840.1 L421.2,840.1 L419.9,840.1 L418.6,840.1 L417.4,840.1 L416.1,840.1 L414.8,840.1 L413.5,840.1 L412.2,848.6 L410.9,840.1 L409.6,848.6 L408.3,832.1 L407.1,840.1 L405.8,857.9 L404.5,848.6 L403.2,848.6 L401.9,848.6 L400.6,840.1 L399.3,848.6 L398.0,848.6 L396.8,857.9 L395.5,857.9 L394.2,857.9 L392.9,848.6 L391.6,857.9 L390.3,857.9 L389.0,868.0 L387.8,868.0 L386.5,879.0 L385.2,868.0 L383.9,879.0 L382.6,891.2 L381.3,891.2 L380.0,879.0 L378.7,891.2 L377.5,904.8 L376.2,904.8 L374.9,920.3 L373.6,938.1 L372.3,938.1 L371.0,920.3 L369.7,938.1 L368.4,959.2 L367.2,959.2 L365.9,959.2 L364.6,985.1 L363.3,985.1 L362.0,985.1 L360.7,985.1 L359.4,1018.3 L358.1,1018.3 L356.9,1018.3 L355.6,1065.3 L354.3,1065.3 L353.0,1065.3 L351.7,1065.3 L350.4,1065.3 L349.1,1065.3 L347.8,1065.3 L346.6,1145.5 L345.3,1145.5 L344.0,1145.5 L342.7,1145.5 L341.4,1145.5 L340.1,1145.5 L338.8,1145.5 L337.5,1145.5 L336.3,1145.5 L335.0,1145.5 L333.7,1145.5 L332.4,1145.5 L331.1,1145.5 L329.8,1145.5 L328.5,1145.5 L327.3,1145.5 L326.0,1145.5 L324.7,1145.5 L323.4,1145.5 L322.1,1145.5 L320.8,1145.5 L319.5,1145.5 L318.2,1145.5 L317.0,1145.5 L315.7,1145.5 L314.4,1145.5 L313.1,1145.5 L311.8,1175.5 L310.5,1145.5 L309.2,1145.5 L307.9,1145.5 L306.7,1145.5 L305.4,1145.5 L304.1,1145.5 L302.8,1145.5 L301.5,1145.5 L300.2,1145.5 L298.9,1145.5 L297.6,1145.5 L296.4,1145.5 L295.1,1145.5 L293.8,1145.5 L292.5,1145.5 L291.2,1145.5 L289.9,1145.5 L288.6,1145.5 L287.3,1145.5 L286.1,1145.5 L284.8,1145.5 L283.5,1145.5 L282.2,1145.5 L280.9,1145.5 L279.6,1145.5 L278.3,1145.5 L277.0,1145.5 L275.8,1145.5 L274.5,1145.5 L273.2,1145.5 L271.9,1145.5 L270.6,1145.5 L269.3,1145.5 L268.0,1145.5 L266.8,1145.5 L265.5,1145.5 L264.2,1145.5 L262.9,1145.5 L261.6,1145.5 L260.3,1145.5 L259.0,1145.5 L257.7,1145.5 L256.5,1145.5 L255.2,1065.3 L253.9,1145.5 L252.6,1145.5 L251.3,1145.5 L250.0,1145.5 L248.7,1065.3 L247.4,1145.5 L246.2,1145.5 L244.9,1065.3 L243.6,1145.5 L242.3,1145.5 L241.0,1145.5 L239.7,1145.5 L238.4,1145.5 L237.1,1145.5 L235.9,1145.5 L234.6,1145.5 L233.3,1145.5 L232.0,1065.3 L230.7,1145.5 L229.4,1065.3 L228.1,1145.5 L226.8,1065.3 L225.6,1145.5 L224.3,1145.5 L223.0,1145.5 L221.7,1145.5 L220.4,1145.5 L219.1,1145.5 L217.8,1145.5 L216.6,1145.5 L215.3,1145.5 L214.0,1145.5 L212.7,1145.5 L211.4,1145.5 L210.1,1145.5 L208.8,1145.5 L207.5,1145.5 L206.3,1145.5 L205.0,1145.5 L203.7,1145.5 L202.4,1145.5 L201.1,1145.5 L199.8,1145.5 L198.5,1145.5 L197.2,1145.5 L196.0,1145.5 L194.7,1145.5 L193.4,1145.5 L192.1,1145.5 L190.8,1145.5 L189.5,1145.5 L188.2,1145.5 L186.9,1145.5 L185.7,1145.5 L184.4,1145.5 L183.1,1145.5 L181.8,1145.5 L180.5,1145.5 L179.2,1065.3 L177.9,1065.3 L176.6,1065.3 L175.4,1065.3 L174.1,1065.3 L172.8,1065.3 L171.5,1065.3 L170.2,1065.3 L168.9,1065.3 L167.6,1065.3 L166.3,1065.3 L165.1,1065.3 L163.8,1065.3 L162.5,1065.3 L161.2,1065.3 L159.9,1065.3 L158.6,1065.3 L157.3,1065.3 L156.1,1065.3 L154.8,1018.3 L153.5,1065.3 L152.2,1065.3 L150.9,1018.3 L149.6,1018.3 L148.3,1018.3 L147.0,1018.3 L145.8,1018.3 L144.5,1018.3 L143.2,1018.3 L141.9,1065.3 L140.6,1018.3 L139.3,1018.3 L138.0,1018.3 L136.7,1018.3 L135.5,1018.3 L134.2,1018.3 L132.9,1018.3 L131.6,1018.3 L130.3,1018.3 L129.0,1018.3 L127.7,1018.3 L126.4,1018.3 L125.2,1018.3 L123.9,1018.3 L122.6,1018.3 L121.3,1018.3 L120.0,1018.3 L118.7,1018.3 L117.4,1018.3 L116.1,1018.3 L114.9,1065.3 L113.6,1065.3 L112.3,1065.3 L111.0,1065.3 L109.7,1065.3 L108.4,1065.3 L107.1,1145.5 L105.9,1145.5 L104.6,1145.5 L103.3,1145.5 L102.0,1145.5 L100.7,1145.5 L99.4,1145.5 L98.1,1145.5 L96.8,1145.5 L95.6,1175.5 L94.3,1175.5 L93.0,1175.5 L91.7,1175.5 L90.4,1175.5 L89.1,1175.5 L87.8,1175.5 L86.5,1175.5 L85.3,1175.5 L84.0,1175.5 L82.7,1175.5 L81.4,1175.5 L80.1,1175.5 L78.8,1175.5 L77.5,1175.5 L76.2,1175.5 L75.0,1175.5 L73.7,1175.5 L72.4,1175.5 L71.1,1175.5 L69.8,1175.5 L68.5,1175.5 L67.2,1175.5 L65.9,1175.5 L64.7,1175.5 L63.4,1175.5 L62.1,1175.5 L60.8,1175.5 L59.5,1175.5 L58.2,1175.5 L56.9,1175.5 L55.6,1175.5 L54.4,1175.5 L53.1,1175.5 L51.8,1175.5 L50.5,1175.5Z" fill="#1f77b4" fill-opacity="0.1" stroke="#1f77b4" stroke-opacity="0.1" stroke-width="1.39" stroke-linejoin="round"/>
<path d="M50.5,1175.5 L51.8,1175.5 L53.1,1175.5 L54.4,1175.5 L55.6,1175.5 L56.9,1175.5 L58.2,1175.5 L59.5,1175.5 L60.8,1175.5 L62.1,1175.5 L63.4,1175.5 L64.7,1175.5 L65.9,1175.5 L67.2,1175.5 L68.5,1175.5 L69.8,1175.5 L71.1,1145.5 L72.4,1145.5 L73.7,1145.5 L75.0,1145.5 L76.2,1145.5 L77.5,1145.5 L78.8,1145.5 L80.1,1145.5 L81.4,1145.5 L82.7,1145.5 L84.0,1145.5 L85.3,1145.5 L86.5,1145.5 L87.8,1145.5 L89.1,1145.5 L90.4,1145.5 L91.7,1065.3 L93.0,1018.3 L94.3,1018.3 L95.6,985.1 L96.8,985.1 L98.1,985.1 L99.4,959.2 L100.7,959.2 L102.0,959.2 L103.3,938.1 L104.6,938.1 L105.9,920.3 L107.1,920.3 L108.4,904.8 L109.7,904.8 L111.0,904.8 L112.3,904.8 L113.6,891.2 L114.9,891.2 L116.1,891.2 L117.4,879.0 L118.7,891.2 L120.0,879.0 L121.3,879.0 L122.6,879.0 L123.9,879.0 L125.2,879.0 L126.4,879.0 L127.7,879.0 L129.0,879.0 L130.3,868.0 L131.6,868.0 L132.9,879.0 L134.2,868.0 L135.5,879.0 L136.7,868.0 L138.0,868.0 L139.3,879.0 L140.6,879.0 L141.9,879.0 L143.2,879.0 L144.5,879.0 L145.8,879.0 L147.0,879.0 L148.3,891.2 L149.6,879.0 L150.9,891.2 L152.2,879.0 L153.5,879.0 L154.8,879.0 L156.1,891.2 L157.3,891.2 L158.6,891.2 L159.9,891.2 L161.2,891.2 L162.5,904.8 L163.8,904.8 L165.1,904.8 L166.3,904.8 L167.6,920.3 L168.9,904.8 L170.2,904.8 L171.5,904.8 L172.8,920.3 L174.1,904.8 L175.4,920.3 L176.6,920.3 L177.9,920.3 L179.2,920.3 L180.5,920.3 L181.8,938.1 L183.1,920.3 L184.4,938.1 L185.7,938.1 L186.9,938.1 L188.2,938.1 L189.5,938.1 L190.8,938.1 L192.1,938.1 L193.4,938.1 L194.7,938.1 L196.0,938.1 L197.2,938.1 L198.5,959.2 L199.8,959.2 L201.1,959.2 L202.4,959.2 L203.7,959.2 L205.0,938.1 L206.3,938.1 L207.5,938.1 L208.8,938.1 L210.1,938.1 L211.4,938.1 L212.7,938.1 L214.0,938.1 L215.3,938.1 L216.6,938.1 L217.8,938.1 L219.1,920.3 L220.4,938.1 L221.7,920.3 L223.0,920.3 L224.3,938.1 L225.6,938.1 L226.8,920.3 L228.1,938.1 L229.4,938.1 L230.7,920.3 L232.0,920.3 L233.3,938.1 L234.6,920.3 L235.9,920.3 L237.1,920.3 L238.4,920.3 L239.7,920.3 L241.0,920.3 L242.3,920.3 L243.6,920.3 L244.9,938.1 L246.2,920.3 L247.4,920.3 L248.7,920.3 L250.0,920.3 L251.3,938.1 L252.6,920.3 L253.9,920.3 L255.2,920.3 L256.5,920.3 L257.7,938.1 L259.0,938.1 L260.3,938.1 L261.6,938.1 L262.9,938.1 L264.2,938.1 L265.5,938.1 L266.8,938.1 L268.0,938.1 L269.3,959.2 L270.6,938.1 L271.9,959.2 L273.2,938.1 L274.5,938.1 L275.8,938.1 L277.0,938.1 L278.3,959.2 L279.6,959.2 L280.9,938.1 L282.2,959.2 L283.5,959.2 L284.8,959.2 L286.1,959.2 L287.3,959.2 L288.6,959.2 L289.9,959.2 L291.2,959.2 L292.5,959.2 L293.8,959.2 L295.1,959.2 L296.4,959.2 L297.6,959.2 L298.9,959.2 L300.2,959.2 L301.5,959.2 L302.8,985.1 L304.1,985.1 L305.4,985.1 L306.7,985.1 L307.9,959.2 L309.2,985.1 L310.5,959.2 L311.8,985.1 L313.1,985.1 L314.4,985.1 L315.7,985.1 L317.0,985.1 L318.2,985.1 L319.5,985.1 L320.8,985.1 L322.1,985.1 L323.4,985.1 L324.7,985.1 L326.0,985.1 L327.3,985.1 L328.5,985.1 L329.8,959.2 L331.1,959.2 L332.4,959.2 L333.7,959.2 L335.0,959.2 L336.3,959.2 L337.5,959.2 L338.8,959.2 L340.1,959.2 L341.4,938.1 L342.7,959.2 L344.0,938.1 L345.3,938.1 L346.6,938.1 L347.8,920.3 L349.1,920.3 L350.4,904.8 L351.7,904.8 L353.0,904.8 L354.3,891.2 L355.6,891.2 L356.9,879.0 L358.1,868.0 L359.4,868.0 L360.7,848.6 L362.0,840.1 L363.3,840.1 L364.6,832.1 L365.9,832.1 L367.2,811.0 L368.4,811.0 L369.7,811.0 L371.0,804.7 L372.3,793.1 L373.6,798.8 L374.9,793.1 L376.2,777.7 L377.5,777.7 L378.7,772.9 L380.0,764.0 L381.3,768.4 L382.6,759.8 L383.9,759.8 L385.2,755.8 L386.5,759.8 L387.8,751.8 L389.0,748.1 L390.3,751.8 L391.6,748.1 L392.9,740.8 L394.2,734.0 L395.5,737.4 L396.8,730.7 L398.0,730.7 L399.3,727.6 L400.6,730.7 L401.9,737.4 L403.2,737.4 L404.5,734.0 L405.8,730.7 L407.1,727.6 L408.3,727.6 L409.6,727.6 L410.9,724.5 L412.2,730.7 L413.5,724.5 L414.8,724.5 L416.1,734.0 L417.4,724.5 L418.6,724.5 L419.9,724.5 L421.2,724.5 L422.5,734.0 L423.8,718.6 L425.1,724.5 L426.4,721.5 L427.7,721.5 L428.9,730.7 L430.2,724.5 L431.5,727.6 L432.8,718.6 L434.1,730.7 L435.4,721.5 L436.7,724.5 L438.0,727.6 L439.2,730.7 L440.5,727.6 L441.8,724.5 L443.1,730.7 L444.4,727.6 L445.7,727.6 L447.0,727.6 L448.2,730.7 L449.5,727.6 L450.8,727.6 L452.1,740.8 L453.4,737.4 L454.7,740.8 L456.0,740.8 L457.3,734.0 L458.5,737.4 L459.8,737.4 L461.1,744.4 L462.4,737.4 L463.7,751.8 L465.0,751.8 L466.3,744.4 L467.6,751.8 L468.8,748.1 L470.1,748.1 L471.4,751.8 L472.7,759.8 L474.0,759.8 L475.3,768.4 L476.6,764.0 L477.9,768.4 L479.1,772.9 L480.4,772.9 L481.7,772.9 L483.0,772.9 L484.3,777.7 L485.6,782.6 L486.9,782.6 L488.2,782.6 L489.4,777.7 L490.7,782.6 L492.0,798.8 L493.3,798.8 L494.6,793.1 L495.9,804.7 L497.2,793.1 L498.5,798.8 L499.7,804.7 L501.0,804.7 L502.3,804.7 L503.6,811.0 L504.9,811.0 L506.2,811.0 L507.5,824.6 L508.7,817.6 L510.0,832.1 L511.3,832.1 L512.6,824.6 L513.9,832.1 L515.2,832.1 L516.5,832.1 L517.8,832.1 L519.0,832.1 L520.3,832.1 L521.6,832.1 L522.9,848.6 L524.2,848.6 L525.5,848.6 L526.8,848.6 L528.1,857.9 L529.3,848.6 L530.6,868.0 L531.9,868.0 L533.2,879.0 L534.5,879.0 L535.8,879.0 L537.1,879.0 L538.4,879.0 L539.6,891.2 L540.9,891.2 L542.2,891.2 L543.5,891.2 L544.8,891.2 L546.1,891.2 L547.4,904.8 L548.7,904.8 L549.9,904.8 L551.2,904.8 L552.5,904.8 L553.8,904.8 L555.1,904.8 L556.4,920.3 L557.7,920.3 L559.0,920.3 L560.2,920.3 L561.5,920.3 L562.8,920.3 L564.1,920.3 L565.4,920.3 L566.7,920.3 L568.0,938.1 L569.2,938.1 L570.5,938.1 L571.8,938.1 L573.1,938.1 L574.4,938.1 L575.7,938.1 L577.0,938.1 L578.3,938.1 L579.5,938.1 L580.8,938.1 L582.1,938.1 L583.4,938.1 L584.7,938.1 L586.0,938.1 L587.3,938.1 L588.6,938.1 L589.8,938.1 L591.1,938.1 L592.4,938.1 L593.7,938.1 L595.0,938.1 L596.3,938.1 L597.6,938.1 L598.9,938.1 L600.1,938.1 L601.4,938.1 L602.7,938.1 L604.0,959.2 L605.3,959.2 L606.6,938.1 L607.9,959.2 L609.2,938.1 L610.4,938.1 L611.7,959.2 L613.0,959.2 L614.3,959.2 L615.6,959.2 L616.9,938.1 L618.2,959.2 L619.4,959.2 L620.7,959.2 L622.0,959.2 L623.3,959.2 L624.6,959.2 L625.9,985.1 L627.2,985.1 L628.5,959.2 L629.7,985.1 L631.0,985.1 L632.3,985.1 L633.6,985.1 L634.9,985.1 L636.2,985.1 L637.5,985.1 L638.8,985.1 L640.0,985.1 L641.3,985.1 L642.6,985.1 L643.9,985.1 L645.2,985.1 L646.5,985.1 L647.8,985.1 L649.1,985.1 L650.3,985.1 L651.6,1018.3 L652.9,985.1 L654.2,1018.3 L655.5,1018.3 L656.8,985.1 L658.1,1018.3 L659.4,1018.3 L660.6,1018.3 L661.9,1018.3 L663.2,1018.3 L664.5,1018.3 L665.8,1018.3 L667.1,1018.3 L668.4,1018.3 L669.7,1018.3 L670.9,1018.3 L672.2,1018.3 L673.5,1018.3 L674.8,1018.3 L676.1,1018.3 L677.4,1018.3 L678.7,1018.3 L679.9,1018.3 L681.2,1018.3 L682.5,1018.3 L683.8,1018.3 L685.1,1018.3 L686.4,1018.3 L687.7,1018.3 L689.0,1018.3 L690.2,1018.3 L691.5,1018.3 L692.8,1018.3 L694.1,1018.3 L695.4,1018.3 L696.7,1018.3 L698.0,1018.3 L699.3,1018.3 L700.5,1018.3 L701.8,1018.3 L703.1,1018.3 L704.4,1018.3 L705.7,1018.3 L707.0,1018.3 L708.3,1018.3 L709.6,1018.3 L710.8,1018.3 L712.1,985.1 L713.4,1018.3 L714.7,985.1 L716.0,985.1 L717.3,985.1 L718.6,985.1 L719.9,985.1 L721.1,985.1 L722.4,985.1 L723.7,985.1 L725.0,985.1 L726.3,985.1 L727.6,959.2 L728.9,959.2 L730.1,959.2 L731.4,959.2 L732.7,959.2 L734.0,938.1 L735.3,938.1 L736.6,938.1 L737.9,938.1 L739.2,920.3 L740.4,920.3 L741.7,904.8 L743.0,904.8 L744.3,904.8 L745.6,891.2 L746.9,891.2 L748.2,891.2 L749.5,891.2 L750.7,879.0 L752.0,891.2 L753.3,879.0 L754.6,868.0 L755.9,857.9 L757.2,857.9 L758.5,848.6 L759.8,840.1 L761.0,840.1 L762.3,832.1 L763.6,832.1 L764.9,824.6 L766.2,817.6 L767.5,804.7 L768.8,811.0 L770.1,798.8 L771.3,793.1 L772.6,787.7 L773.9,782.6 L775.2,772.9 L776.5,768.4 L777.8,764.0 L779.1,764.0 L780.4,755.8 L781.6,748.1 L782.9,737.4 L784.2,737.4 L785.5,724.5 L785.5,879.0 L784.2,879.0 L782.9,879.0 L781.6,891.2 L780.4,904.8 L779.1,904.8 L777.8,904.8 L776.5,904.8 L775.2,904.8 L773.9,904.8 L772.6,920.3 L771.3,920.3 L770.1,920.3 L768.8,938.1 L767.5,938.1 L766.2,938.1 L764.9,959.2 L763.6,959.2 L762.3,938.1 L761.0,938.1 L759.8,959.2 L758.5,959.2 L757.2,959.2 L755.9,959.2 L754.6,959.2 L753.3,959.2 L752.0,985.1 L750.7,985.1 L749.5,985.1 L748.2,985.1 L746.9,985.1 L745.6,985.1 L744.3,1018.3 L743.0,1018.3 L741.7,1018.3 L740.4,1018.3 L739.2,1018.3 L737.9,1018.3 L736.6,1018.3 L735.3,1065.3 L734.0,1065.3 L732.7,1065.3 L731.4,1065.3 L730.1,1065.3 L728.9,1065.3 L727.6,1065.3 L726.3,1065.3 L725.0,1145.5 L723.7,1145.5 L722.4,1145.5 L721.1,1145.5 L719.9,1145.5 L718.6,1145.5 L717.3,1145.5 L716.0,1145.5 L714.7,1145.5 L713.4,1145.5 L712.1,1145.5 L710.8,1145.5 L709.6,1145.5 L708.3,1145.5 L707.0,1145.5 L705.7,1145.5 L704.4,1145.5 L703.1,1145.5 L701.8,1145.5 L700.5,1145.5 L699.3,1145.5 L698.0,1145.5 L696.7,1145.5 L695.4,1145.5 L694.1,1145.5 L692.8,1145.5 L691.5,1145.5 L690.2,1145.5 L689.0,1145.5 L687.7,1145.5 L686.4,1145.5 L685.1,1145.5 L683.8,1145.5 L682.5,1145.5 L681.2,1145.5 L679.9,1145.5 L678.7,1145.5 L677.4,1145.5 L676.1,1145.5 L674.8,1145.5 L673.5,1145.5 L672.2,1145.5 L670.9,1145.5 L669.7,1145.5 L668.4,1145.5 L667.1,1145.5 L665.8,1145.5 L664.5,1145.5 L663.2,1145.5 L661.9,1145.5 L660.6,1145.5 L659.4,1145.5 L658.1,1145.5 L656.8,1145.5 L655.5,1145.5 L654.2,1145.5 L652.9,1145.5 L651.6,1145.5 L650.3,1145.5 L649.1,1145.5 L647.8,1145.5 L646.5,1145.5 L645.2,1145.5 L643.9,1145.5 L642.6,1145.5 L641.3,1145.5 L640.0,1145.5 L638.8,1145.5 L637.5,1145.5 L636.2,1145.5 L634.9,1145.5 L633.6,1065.3 L632.3,1145.5 L631.0,1145.5 L629.7,1145.5 L628.5,1145.5 L627.2,1065.3 L625.9,1065.3 L624.6,1145.5 L623.3,1065.3 L622.0,1065.3 L620.7,1065.3 L619.4,1065.3 L618.2,1065.3 L616.9,1065.3 L615.6,1065.3 L614.3,1065.3 L613.0,1065.3 L611.7,1065.3 L610.4,1065.3 L609.2,1065.3 L607.9,1065.3 L606.6,1065.3 L605.3,1065.3 L604.0,1065.3 L602.7,1065.3 L601.4,1065.3 L600.1,1065.3 L598.9,1065.3 L597.6,1065.3 L596.3,1065.3 L595.0,1065.3 L593.7,1065.3 L592.4,1065.3 L591.1,1065.3 L589.8,1065.3 L588.6,1065.3 L587.3,1065.3 L586.0,1065.3 L584.7,1065.3 L583.4,1065.3 L582.1,1065.3 L580.8,1065.3 L579.5,1065.3 L578.3,1065.3 L577.0,1065.3 L575.7,1065.3 L574.4,1065.3 L573.1,1065.3 L571.8,1018.3 L570.5,1018.3 L569.2,1018.3 L568.0,1065.3 L566.7,1018.3 L565.4,1065.3 L564.1,1018.3 L562.8,1018.3 L561.5,1018.3 L560.2,1018.3 L559.0,1018.3 L557.7,1018.3 L556.4,1018.3 L555.1,1018.3 L553.8,985.1 L552.5,1018.3 L551.2,1018.3 L549.9,1018.3 L548.7,985.1 L547.4,985.1 L546.1,1018.3 L544.8,985.1 L543.5,985.1 L542.2,985.1 L540.9,985.1 L539.6,985.1 L538.4,985.1 L537.1,959.2 L535.8,985.1 L534.5,959.2 L533.2,959.2 L531.9,959.2 L530.6,938.1 L529.3,938.1 L528.1,938.1 L526.8,938.1 L525.5,938.1 L524.2,938.1 L522.9,938.1 L521.6,920.3 L520.3,920.3 L519.0,920.3 L517.8,904.8 L516.5,904.8 L515.2,904.8 L513.9,920.3 L512.6,920.3 L511.3,904.8 L510.0,904.8 L508.7,904.8 L507.5,904.8 L506.2,904.8 L504.9,891.2 L503.6,891.2 L502.3,879.0 L501.0,879.0 L499.7,879.0 L498.5,879.0 L497.2,879.0 L495.9,868.0 L494.6,868.0 L493.3,868.0 L492.0,868.0 L490.7,857.9 L489.4,857.9 L488.2,848.6 L486.9,868.0 L485.6,857.9 L484.3,857.9 L483.0,848.6 L481.7,857.9 L480.4,857.9 L479.1,848.6 L477.9,840.1 L476.6,848.6 L475.3,840.1 L474.0,832.1 L472.7,832.1 L471.4,824.6 L470.1,832.1 L468.8,817.6 L467.6,832.1 L466.3,824.6 L465.0,817.6 L463.7,817.6 L462.4,824.6 L461.1,817.6 L459.8,817.6 L458.5,817.6 L457.3,811.0 L456.0,811.0 L454.7,811.0 L453.4,804.7 L452.1,804.7 L450.8,804.7 L449.5,798.8 L448.2,811.0 L447.0,798.8 L445.7,811.0 L444.4,811.0 L443.1,804.7 L441.8,798.8 L440.5,798.8 L439.2,804.7 L438.0,804.7 L436.7,804.7 L435.4,804.7 L434.1,804.7 L432.8,793.1 L431.5,798.8 L430.2,804.7 L428.9,798.8 L427.7,798.8 L426.4,804.7 L425.1,798.8 L423.8,793.1 L422.5,798.8 L421.2,798.8 L419.9,804.7 L418.6,804.7 L417.4,798.8 L416.1,798.8 L414.8,804.7 L413.5,793.1 L412.2,798.8 L410.9,798.8 L409.6,798.8 L408.3,793.1 L407.1,798.8 L405.8,804.7 L404.5,811.0 L403.2,811.0 L401.9,804.7 L400.6,804.7 L399.3,811.0 L398.0,811.0 L396.8,811.0 L395.5,811.0 L394.2,811.0 L392.9,811.0 L391.6,817.6 L390.3,811.0 L389.0,824.6 L387.8,832.1 L386.5,832.1 L385.2,840.1 L383.9,832.1 L382.6,840.1 L381.3,840.1 L380.0,848.6 L378.7,848.6 L377.5,857.9 L376.2,857.9 L374.9,868.0 L373.6,879.0 L372.3,868.0 L371.0,879.0 L369.7,879.0 L368.4,891.2 L367.2,891.2 L365.9,920.3 L364.6,920.3 L363.3,920.3 L362.0,938.1 L360.7,938.1 L359.4,959.2 L358.1,959.2 L356.9,985.1 L355.6,985.1 L354.3,985.1 L353.0,985.1 L351.7,985.1 L350.4,1018.3 L349.1,1018.3 L347.8,1065.3 L346.6,1018.3 L345.3,1065.3 L344.0,1065.3 L342.7,1065.3 L341.4,1065.3 L340.1,1065.3 L338.8,1065.3 L337.5,1065.3 L336.3,1065.3 L335.0,1065.3 L333.7,1065.3 L332.4,1065.3 L331.1,1065.3 L329.8,1145.5 L328.5,1065.3 L327.3,1065.3 L326.0,1145.5 L324.7,1145.5 L323.4,1145.5 L322.1,1145.5 L320.8,1145.5 L319.5,1145.5 L318.2,1145.5 L317.0,1145.5 L315.7,1145.5 L314.4,1145.5 L313.1,1145.5 L311.8,1145.5 L310.5,1065.3 L309.2,1065.3 L307.9,1065.3 L306.7,1145.5 L305.4,1065.3 L304.1,1065.3 L302.8,1145.5 L301.5,1065.3 L300.2,1065.3 L298.9,1065.3 L297.6,1065.3 L296.4,1065.3 L295.1,1065.3 L293.8,1065.3 L292.5,1065.3 L291.2,1065.3 L289.9,1065.3 L288.6,1065.3 L287.3,1065.3 L286.1,1065.3 L284.8,1065.3 L283.5,1065.3 L282.2,1065.3 L280.9,1065.3 L279.6,1065.3 L278.3,1065.3 L277.0,1065.3 L275.8,1065.3 L274.5,1065.3 L273.2,1065.3 L271.9,1065.3 L270.6,1065.3 L269.3,1065.3 L268.0,1065.3 L266.8,1065.3 L265.5,1065.3 L264.2,1065.3 L262.9,1065.3 L261.6,1065.3 L260.3,1018.3 L259.0,1065.3 L257.7,1018.3 L256.5,1018.3 L255.2,1065.3 L253.9,1018.3 L252.6,1018.3 L251.3,1018.3 L250.0,1018.3 L248.7,1018.3 L247.4,1018.3 L246.2,1018.3 L244.9,1018.3 L243.6,1018.3 L242.3,1018.3 L241.0,1018.3 L239.7,1018.3 L238.4,1018.3 L237.1,1018.3 L235.9,1018.3 L234.6,1018.3 L233.3,1018.3 L232.0,1018.3 L230.7,1018.3 L229.4,1018.3 L228.1,1018.3 L226.8,1018.3 L225.6,1018.3 L224.3,1018.3 L223.0,1065.3 L221.7,1065.3 L220.4,1018.3 L219.1,1065.3 L217.8,1018.3 L216.6,1018.3 L215.3,1018.3 L214.0,1065.3 L212.7,1065.3 L211.4,1065.3 L210.1,1065.3 L208.8,1065.3 L207.5,1065.3 L206.3,1065.3 L205.0,1065.3 L203.7,1065.3 L202.4,1065.3 L201.1,1065.3 L199.8,1065.3 L198.5,1065.3 L197.2,1065.3 L196.0,1065.3 L194.7,1065.3 L193.4,1065.3 L192.1,1065.3 L190.8,1065.3 L189.5,1065.3 L188.2,1065.3 L186.9,1018.3 L185.7,1018.3 L184.4,1018.3 L183.1,1018.3 L181.8,1018.3 L180.5,1018.3 L179.2,1018.3 L177.9,1018.3 L176.6,1018.3 L175.4,1018.3 L174.1,1018.3 L172.8,1018.3 L171.5,1018.3 L170.2,1018.3 L168.9,1018.3 L167.6,1018.3 L166.3,1018.3 L165.1,1018.3 L163.8,985.1 L162.5,985.1 L161.2,1018.3 L159.9,985.1 L158.6,985.1 L157.3,985.1 L156.1,985.1 L154.8,985.1 L153.5,985.1 L152.2,985.1 L150.9,985.1 L149.6,985.1 L148.3,985.1 L147.0,985.1 L145.8,985.1 L144.5,959.2 L143.2,959.2 L141.9,959.2 L140.6,959.2 L139.3,985.1 L138.0,959.2 L136.7,959.2 L135.5,959.2 L134.2,959.2 L132.9,985.1 L131.6,959.2 L130.3,985.1 L129.0,959.2 L127.7,985.1 L126.4,985.1 L125.2,959.2 L123.9,985.1 L122.6,985.1 L121.3,985.1 L120.0,985.1 L118.7,985.1 L117.4,985.1 L116.1,985.1 L114.9,985.1 L113.6,985.1 L112.3,985.1 L111.0,1018.3 L109.7,1018.3 L108.4,1018.3 L107.1,1018.3 L105.9,1018.3 L104.6,1065.3 L103.3,1065.3 L102.0,1065.3 L100.7,1065.3 L99.4,1065.3 L98.1,1065.3 L96.8,1145.5 L95.6,1145.5 L94.3,1145.5 L93.0,1145.5 L91.7,1175.5 L90.4,1175.5 L89.1,1175.5 L87.8,1175.5 L86.5,1175.5 L85.3,1175.5 L84.0,1175.5 L82.7,1175.5 L81.4,1175.5 L80.1,1175.5 L78.8,1175.5 L77.5,1175.5 L76.2,1175.5 L75.0,1175.5 L73.7,1175.5 L72.4,1175.5 L71.1,1175.5 L69.8,1175.5 L68.5,1175.5 L67.2,1175.5 L65.9,1175.5 L64.7,1175.5 L63.4,1175.5 L62.1,1175.5 L60.8,1175.5 L59.5,1175.5 L58.2,1175.5 L56.9,1175.5 L55.6,1175.5 L54.4,1175.5 L53.1,1175.5 L51.8,1175.5 L50.5,1175.5Z" fill="#1f77b4" fill-opacity="0.1" stroke="#1f77b4" stroke-opacity="0.1" stroke-width="1.39" stroke-linejoin="round"/>
</g>
<line x1="50.5" x2="785.5" y1="1145.50" y2="1145.50" stroke="#b0b0b0" stroke-width="1.11"/>
<line x1="50.5" x2="785.5" y1="879.50" y2="879.50" stroke="#b0b0b0" stroke-width="1.11"/>
<line x1="50.5" x2="785.5" y1="612.50" y2="612.50" stroke="#b0b0b0" stroke-width="1.11"/>
<g clip-path="url(#cl)">
<path d="M93.0,1145.5 L94.3,1145.5 L95.6,1065.3 L96.8,1065.3 L98.1,1065.3 L99.4,1065.3 L100.7,1065.3 L102.0,1018.3 L103.3,1018.3 L104.6,1018.3 L105.9,1018.3 L107.1,985.1 L108.4,985.1 L109.7,985.1 L111.0,985.1 L112.3,959.2 L113.6,959.2 L114.9,959.2 L116.1,959.2 L117.4,938.1 L118.7,938.1 L120.0,938.1 L121.3,920.3 L122.6,920.3 L123.9,920.3 L125.2,920.3 L126.4,920.3 L127.7,920.3 L129.0,920.3 L130.3,920.3 L131.6,920.3 L132.9,920.3 L134.2,920.3 L135.5,920.3 L136.7,904.8 L138.0,904.8 L139.3,920.3 L140.6,920.3 L141.9,920.3 L143.2,920.3 L144.5,920.3 L145.8,920.3 L147.0,920.3 L148.3,920.3 L149.6,938.1 L150.9,938.1 L152.2,920.3 L153.5,920.3 L154.8,938.1 L156.1,938.1 L157.3,938.1 L158.6,938.1 L159.9,938.1 L161.2,938.1 L162.5,938.1 L163.8,938.1 L165.1,959.2 L166.3,959.2 L167.6,959.2 L168.9,959.2 L170.2,959.2 L171.5,959.2 L172.8,959.2 L174.1,959.2 L175.4,959.2 L176.6,959.2 L177.9,959.2 L179.2,959.2 L180.5,959.2 L181.8,985.1 L183.1,985.1 L184.4,985.1 L185.7,985.1 L186.9,985.1 L188.2,985.1 L189.5,985.1 L190.8,985.1 L192.1,985.1 L193.4,985.1 L194.7,985.1 L196.0,985.1 L197.2,985.1 L198.5,985.1 L199.8,985.1 L201.1,1018.3 L202.4,1018.3 L203.7,985.1 L205.0,985.1 L206.3,985.1 L207.5,985.1 L208.8,985.1 L210.1,985.1 L211.4,985.1 L212.7,985.1 L214.0,985.1 L215.3,985.1 L216.6,985.1 L217.8,985.1 L219.1,985.1 L220.4,985.1 L221.7,985.1 L223.0,985.1 L224.3,985.1 L225.6,985.1 L226.8,985.1 L228.1,985.1 L229.4,985.1 L230.7,959.2 L232.0,959.2 L233.3,985.1 L234.6,985.1 L235.9,985.1 L237.1,985.1 L238.4,959.2 L239.7,959.2 L241.0,985.1 L242.3,985.1 L243.6,959.2 L244.9,959.2 L246.2,959.2 L247.4,985.1 L248.7,985.1 L250.0,959.2 L251.3,959.2 L252.6,959.2 L253.9,985.1 L255.2,985.1 L256.5,985.1 L257.7,985.1 L259.0,985.1 L260.3,985.1 L261.6,985.1 L262.9,985.1 L264.2,985.1 L265.5,985.1 L266.8,985.1 L268.0,985.1 L269.3,985.1 L270.6,985.1 L271.9,985.1 L273.2,985.1 L274.5,985.1 L275.8,985.1 L277.0,985.1 L278.3,985.1 L279.6,1018.3 L280.9,985.1 L282.2,985.1 L283.5,1018.3 L284.8,1018.3 L286.1,1018.3 L287.3,1018.3 L288.6,1018.3 L289.9,1018.3 L291.2,1018.3 L292.5,1018.3 L293.8,1018.3 L295.1,1018.3 L296.4,1018.3 L297.6,1018.3 L298.9,1018.3 L300.2,1018.3 L301.5,1018.3 L302.8,1018.3 L304.1,1018.3 L305.4,1018.3 L306.7,1018.3 L307.9,1018.3 L309.2,1018.3 L310.5,1018.3 L311.8,1018.3 L313.1,1018.3 L314.4,1018.3 L315.7,1018.3 L317.0,1018.3 L318.2,1018.3 L319.5,1065.3 L320.8,1065.3 L322.1,1018.3 L323.4,1018.3 L324.7,1018.3 L326.0,1018.3 L327.3,1018.3 L328.5,1018.3 L329.8,1018.3 L331.1,1018.3 L332.4,1018.3 L333.7,1018.3 L335.0,1018.3 L336.3,1018.3 L337.5,1018.3 L338.8,1018.3 L340.1,985.1 L341.4,985.1 L342.7,985.1 L344.0,985.1 L345.3,985.1 L346.6,985.1 L347.8,959.2 L349.1,959.2 L350.4,959.2 L351.7,959.2 L353.0,938.1 L354.3,938.1 L355.6,920.3 L356.9,920.3 L358.1,920.3 L359.4,904.8 L360.7,891.2 L362.0,879.0 L363.3,879.0 L364.6,868.0 L365.9,857.9 L367.2,857.9 L368.4,848.6 L369.7,848.6 L371.0,840.1 L372.3,832.1 L373.6,832.1 L374.9,824.6 L376.2,824.6 L377.5,817.6 L378.7,811.0 L380.0,811.0 L381.3,804.7 L382.6,798.8 L383.9,793.1 L385.2,793.1 L386.5,793.1 L387.8,782.6 L389.0,782.6 L390.3,782.6 L391.6,782.6 L392.9,777.7 L394.2,768.4 L395.5,768.4 L396.8,772.9 L398.0,768.4 L399.3,772.9 L400.6,768.4 L401.9,764.0 L403.2,764.0 L404.5,764.0 L405.8,764.0 L407.1,759.8 L408.3,759.8 L409.6,759.8 L410.9,759.8 L412.2,759.8 L413.5,759.8 L414.8,759.8 L416.1,759.8 L417.4,764.0 L418.6,764.0 L419.9,759.8 L421.2,759.8 L422.5,759.8 L423.8,759.8 L425.1,759.8 L426.4,764.0 L427.7,759.8 L428.9,759.8 L430.2,759.8 L431.5,759.8 L432.8,759.8 L434.1,759.8 L435.4,764.0 L436.7,759.8 L438.0,759.8 L439.2,764.0 L440.5,764.0 L441.8,764.0 L443.1,759.8 L444.4,764.0 L445.7,768.4 L447.0,764.0 L448.2,759.8 L449.5,764.0 L450.8,764.0 L452.1,768.4 L453.4,768.4 L454.7,772.9 L456.0,768.4 L457.3,772.9 L458.5,772.9 L459.8,772.9 L461.1,772.9 L462.4,782.6 L463.7,777.7 L465.0,777.7 L466.3,782.6 L467.6,782.6 L468.8,787.7 L470.1,787.7 L471.4,793.1 L472.7,787.7 L474.0,793.1 L475.3,798.8 L476.6,804.7 L477.9,804.7 L479.1,804.7 L480.4,804.7 L481.7,811.0 L483.0,811.0 L484.3,811.0 L485.6,817.6 L486.9,817.6 L488.2,817.6 L489.4,817.6 L490.7,824.6 L492.0,824.6 L493.3,824.6 L494.6,832.1 L495.9,832.1 L497.2,832.1 L498.5,832.1 L499.7,840.1 L501.0,840.1 L502.3,840.1 L503.6,848.6 L504.9,848.6 L506.2,848.6 L507.5,857.9 L508.7,857.9 L510.0,857.9 L511.3,868.0 L512.6,868.0 L513.9,868.0 L515.2,868.0 L516.5,868.0 L517.8,868.0 L519.0,868.0 L520.3,879.0 L521.6,879.0 L522.9,879.0 L524.2,891.2 L525.5,891.2 L526.8,891.2 L528.1,891.2 L529.3,904.8 L530.6,904.8 L531.9,904.8 L533.2,904.8 L534.5,920.3 L535.8,920.3 L537.1,920.3 L538.4,920.3 L539.6,938.1 L540.9,938.1 L542.2,938.1 L543.5,938.1 L544.8,938.1 L546.1,938.1 L547.4,938.1 L548.7,938.1 L549.9,938.1 L551.2,959.2 L552.5,959.2 L553.8,959.2 L555.1,959.2 L556.4,959.2 L557.7,959.2 L559.0,959.2 L560.2,959.2 L561.5,959.2 L562.8,959.2 L564.1,959.2 L565.4,985.1 L566.7,985.1 L568.0,985.1 L569.2,959.2 L570.5,985.1 L571.8,985.1 L573.1,985.1 L574.4,985.1 L575.7,985.1 L577.0,985.1 L578.3,985.1 L579.5,985.1 L580.8,985.1 L582.1,959.2 L583.4,985.1 L584.7,985.1 L586.0,985.1 L587.3,985.1 L588.6,985.1 L589.8,985.1 L591.1,985.1 L592.4,985.1 L593.7,985.1 L595.0,985.1 L596.3,985.1 L597.6,985.1 L598.9,985.1 L600.1,985.1 L601.4,985.1 L602.7,985.1 L604.0,985.1 L605.3,985.1 L606.6,985.1 L607.9,985.1 L609.2,985.1 L610.4,985.1 L611.7,1018.3 L613.0,985.1 L614.3,1018.3 L615.6,1018.3 L616.9,1018.3 L618.2,1018.3 L619.4,1018.3 L620.7,1018.3 L622.0,1018.3 L623.3,1018.3 L624.6,1018.3 L625.9,1018.3 L627.2,1018.3 L628.5,1018.3 L629.7,1018.3 L631.0,1018.3 L632.3,1018.3 L633.6,1018.3 L634.9,1065.3 L636.2,1018.3 L637.5,1018.3 L638.8,1018.3 L640.0,1018.3 L641.3,1018.3 L642.6,1018.3 L643.9,1065.3 L645.2,1065.3 L646.5,1065.3 L647.8,1065.3 L649.1,1065.3 L650.3,1065.3 L651.6,1065.3 L652.9,1065.3 L654.2,1065.3 L655.5,1065.3 L656.8,1065.3 L658.1,1065.3 L659.4,1065.3 L660.6,1065.3 L661.9,1065.3 L663.2,1065.3 L664.5,1065.3 L665.8,1065.3 L667.1,1065.3 L668.4,1065.3 L669.7,1065.3 L670.9,1065.3 L672.2,1065.3 L673.5,1065.3 L674.8,1065.3 L676.1,1065.3 L677.4,1065.3 L678.7,1065.3 L679.9,1065.3 L681.2,1065.3 L682.5,1065.3 L683.8,1065.3 L685.1,1065.3 L686.4,1065.3 L687.7,1065.3 L689.0,1065.3 L690.2,1065.3 L691.5,1065.3 L692.8,1065.3 L694.1,1065.3 L695.4,1065.3 L696.7,1065.3 L698.0,1065.3 L699.3,1065.3 L700.5,1065.3 L701.8,1065.3 L703.1,1065.3 L704.4,1065.3 L705.7,1065.3 L707.0,1065.3 L708.3,1065.3 L709.6,1065.3 L710.8,1065.3 L712.1,1065.3 L713.4,1065.3 L714.7,1065.3 L716.0,1065.3 L717.3,1065.3 L718.6,1065.3 L719.9,1065.3 L721.1,1065.3 L722.4,1018.3 L723.7,1018.3 L725.0,1018.3 L726.3,1018.3 L727.6,1018.3 L728.9,1018.3 L730.1,1018.3 L731.4,1018.3 L732.7,985.1 L734.0,985.1 L735.3,985.1 L736.6,985.1 L737.9,985.1 L739.2,959.2 L740.4,959.2 L741.7,959.2 L743.0,959.2 L744.3,938.1 L745.6,938.1 L746.9,938.1 L748.2,938.1 L749.5,938.1 L750.7,938.1 L752.0,920.3 L753.3,920.3 L754.6,920.3 L755.9,920.3 L757.2,904.8 L758.5,904.8 L759.8,904.8 L761.0,891.2 L762.3,891.2 L763.6,891.2 L764.9,879.0 L766.2,879.0 L767.5,868.0 L768.8,868.0 L770.1,868.0 L771.3,857.9 L772.6,857.9 L773.9,848.6 L775.2,848.6 L776.5,840.1 L777.8,840.1 L779.1,832.1 L780.4,824.6 L781.6,824.6 L782.9,817.6 L784.2,817.6 L785.5,811.0" fill="none" stroke="#1f77b4" stroke-width="2.08" stroke-linejoin="round" stroke-linecap="square"/>
<line x1="749.0" x2="749.0" y1="593.5" y2="1145.5" stroke="#1f77b4" stroke-opacity="0.5" stroke-width="2.08" stroke-dasharray="7.7 3.33" stroke-dashoffset="8.63"/>
<g fill="#ff7f0e"><circle cx="408.0" cy="920.3" r="4.86"/><circle cx="113.2" cy="848.6" r="4.86"/><circle cx="127.7" cy="848.6" r="4.86"/><circle cx="140.3" cy="857.9" r="4.86"/><circle cx="123.3" cy="868.0" r="4.86"/><circle cx="139.4" cy="868.0" r="4.86"/><circle cx="142.4" cy="868.0" r="4.86"/><circle cx="150.2" cy="868.0" r="4.86"/><circle cx="180.0" cy="868.0" r="4.86"/><circle cx="135.4" cy="879.0" r="4.86"/><circle cx="178.5" cy="879.0" r="4.86"/><circle cx="229.4" cy="879.0" r="4.86"/><circle cx="108.6" cy="891.2" r="4.86"/><circle cx="117.2" cy="891.2" r="4.86"/><circle cx="133.8" cy="891.2" r="4.86"/><circle cx="137.2" cy="891.2" r="4.86"/><circle cx="154.2" cy="891.2" r="4.86"/><circle cx="161.6" cy="891.2" r="4.86"/><circle cx="244.1" cy="891.2" r="4.86"/><circle cx="248.8" cy="891.2" r="4.86"/><circle cx="107.6" cy="904.8" r="4.86"/><circle cx="125.5" cy="904.8" r="4.86"/><circle cx="138.4" cy="904.8" r="4.86"/><circle cx="151.7" cy="904.8" r="4.86"/><circle cx="166.5" cy="904.8" r="4.86"/><circle cx="170.2" cy="904.8" r="4.86"/><circle cx="188.7" cy="904.8" r="4.86"/><circle cx="206.5" cy="904.8" r="4.86"/><circle cx="212.7" cy="904.8" r="4.86"/><circle cx="276.2" cy="891.2" r="4.86"/><circle cx="283.0" cy="891.2" r="4.86"/><circle cx="261.2" cy="904.8" r="4.86"/><circle cx="283.0" cy="904.8" r="4.86"/><circle cx="301.3" cy="920.3" r="4.86"/><circle cx="227.5" cy="920.3" r="4.86"/><circle cx="233.1" cy="920.3" r="4.86"/><circle cx="238.7" cy="920.3" r="4.86"/><circle cx="242.5" cy="920.3" r="4.86"/><circle cx="587.9" cy="848.6" r="4.86"/><circle cx="591.6" cy="848.6" r="4.86"/><circle cx="565.4" cy="857.9" r="4.86"/><circle cx="582.3" cy="868.0" r="4.86"/><circle cx="598.6" cy="868.0" r="4.86"/><circle cx="570.9" cy="879.0" r="4.86"/><circle cx="593.1" cy="879.0" r="4.86"/><circle cx="602.7" cy="879.0" r="4.86"/><circle cx="660.3" cy="879.0" r="4.86"/><circle cx="562.6" cy="891.2" r="4.86"/><circle cx="573.4" cy="891.2" r="4.86"/><circle cx="606.3" cy="891.2" r="4.86"/><circle cx="627.3" cy="891.2" r="4.86"/><circle cx="529.3" cy="904.8" r="4.86"/><circle cx="533.9" cy="904.8" r="4.86"/><circle cx="538.6" cy="904.8" r="4.86"/><circle cx="546.3" cy="904.8" r="4.86"/><circle cx="550.9" cy="904.8" r="4.86"/><circle cx="557.0" cy="904.8" r="4.86"/><circle cx="592.5" cy="904.8" r="4.86"/><circle cx="546.3" cy="920.3" r="4.86"/><circle cx="579.2" cy="920.3" r="4.86"/><circle cx="597.1" cy="920.3" r="4.86"/><circle cx="638.1" cy="920.3" r="4.86"/><circle cx="530.0" cy="938.1" r="4.86"/><circle cx="538.6" cy="938.1" r="4.86"/><circle cx="555.5" cy="938.1" r="4.86"/><circle cx="620.2" cy="938.1" r="4.86"/><circle cx="642.4" cy="938.1" r="4.86"/><circle cx="656.3" cy="938.1" r="4.86"/><circle cx="680.3" cy="938.1" r="4.86"/><circle cx="692.3" cy="879.0" r="4.86"/><circle cx="736.7" cy="891.2" r="4.86"/><circle cx="740.5" cy="891.2" r="4.86"/><circle cx="745.1" cy="891.2" r="4.86"/><circle cx="746.0" cy="904.8" r="4.86"/><circle cx="692.3" cy="920.3" r="4.86"/><circle cx="726.4" cy="920.3" r="4.86"/><circle cx="719.4" cy="938.1" r="4.86"/><circle cx="682.6" cy="938.1" r="4.86"/><circle cx="699.3" cy="959.2" r="4.86"/><circle cx="707.8" cy="959.2" r="4.86"/><circle cx="725.0" cy="959.2" r="4.86"/><circle cx="729.7" cy="959.2" r="4.86"/><circle cx="733.0" cy="959.2" r="4.86"/><circle cx="743.7" cy="959.2" r="4.86"/><circle cx="690.0" cy="985.1" r="4.86"/><circle cx="697.0" cy="985.1" r="4.86"/><circle cx="713.4" cy="985.1" r="4.86"/><circle cx="726.4" cy="985.1" r="4.86"/><circle cx="735.3" cy="985.1" r="4.86"/><circle cx="690.0" cy="1018.3" r="4.86"/><circle cx="700.3" cy="1018.3" r="4.86"/><circle cx="704.0" cy="1018.3" r="4.86"/><circle cx="718.0" cy="1018.3" r="4.86"/><circle cx="700.3" cy="1065.3" r="4.86"/><circle cx="706.4" cy="1065.3" r="4.86"/><circle cx="709.6" cy="1065.3" r="4.86"/><circle cx="742.8" cy="1065.3" r="4.86"/><circle cx="713.4" cy="1145.5" r="4.86"/><circle cx="719.0" cy="1145.5" r="4.86"/><circle cx="539.4" cy="1145.5" r="4.86"/><circle cx="548.7" cy="1145.5" r="4.86"/><circle cx="558.1" cy="1145.5" r="4.86"/><circle cx="567.5" cy="1145.5" r="4.86"/><circle cx="576.9" cy="1145.5" r="4.86"/><circle cx="586.2" cy="1145.5" r="4.86"/><circle cx="595.6" cy="1145.5" r="4.86"/><circle cx="605.0" cy="1145.5" r="4.86"/><circle cx="612.5" cy="1145.5" r="4.86"/><circle cx="621.9" cy="1145.5" r="4.86"/><circle cx="633.1" cy="1145.5" r="4.86"/><circle cx="642.5" cy="1145.5" r="4.86"/><circle cx="665.0" cy="1145.5" r="4.86"/><circle cx="672.5" cy="1145.5" r="4.86"/><circle cx="681.9" cy="1145.5" r="4.86"/><circle cx="687.5" cy="1145.5" r="4.86"/><circle cx="544.0" cy="1145.5" r="4.86"/><circle cx="553.0" cy="1145.5" r="4.86"/><circle cx="563.0" cy="1145.5" r="4.86"/><circle cx="572.0" cy="1145.5" r="4.86"/><circle cx="581.0" cy="1145.5" r="4.86"/><circle cx="591.0" cy="1145.5" r="4.86"/><circle cx="600.0" cy="1145.5" r="4.86"/><circle cx="617.0" cy="1145.5" r="4.86"/><circle cx="627.0" cy="1145.5" r="4.86"/><circle cx="638.0" cy="1145.5" r="4.86"/><circle cx="533.7" cy="1065.3" r="4.86"/><circle cx="573.9" cy="1065.3" r="4.86"/><circle cx="584.4" cy="1065.3" r="4.86"/><circle cx="610.6" cy="1065.3" r="4.86"/><circle cx="646.0" cy="1065.3" r="4.86"/><circle cx="652.0" cy="1065.3" r="4.86"/><circle cx="658.0" cy="1065.3" r="4.86"/><circle cx="665.0" cy="1065.3" r="4.86"/><circle cx="672.0" cy="1065.3" r="4.86"/><circle cx="680.0" cy="1065.3" r="4.86"/><circle cx="531.9" cy="1018.3" r="4.86"/><circle cx="548.7" cy="1018.3" r="4.86"/><circle cx="561.9" cy="1018.3" r="4.86"/><circle cx="567.5" cy="1018.3" r="4.86"/><circle cx="599.4" cy="1018.3" r="4.86"/><circle cx="606.9" cy="1018.3" r="4.86"/><circle cx="616.2" cy="1018.3" r="4.86"/><circle cx="646.2" cy="1018.3" r="4.86"/><circle cx="653.7" cy="1018.3" r="4.86"/><circle cx="672.5" cy="1018.3" r="4.86"/><circle cx="689.4" cy="1018.3" r="4.86"/><circle cx="533.0" cy="985.1" r="4.86"/><circle cx="543.0" cy="985.1" r="4.86"/><circle cx="569.4" cy="985.1" r="4.86"/><circle cx="575.6" cy="985.1" r="4.86"/><circle cx="581.9" cy="985.1" r="4.86"/><circle cx="588.0" cy="985.1" r="4.86"/><circle cx="608.7" cy="985.1" r="4.86"/><circle cx="615.8" cy="985.1" r="4.86"/><circle cx="622.8" cy="985.1" r="4.86"/><circle cx="629.9" cy="985.1" r="4.86"/><circle cx="636.9" cy="985.1" r="4.86"/><circle cx="661.2" cy="985.1" r="4.86"/><circle cx="686.7" cy="985.1" r="4.86"/><circle cx="525.0" cy="959.2" r="4.86"/><circle cx="560.7" cy="959.2" r="4.86"/><circle cx="575.0" cy="959.2" r="4.86"/><circle cx="601.2" cy="959.2" r="4.86"/><circle cx="618.0" cy="959.2" r="4.86"/><circle cx="625.5" cy="959.2" r="4.86"/><circle cx="633.0" cy="959.2" r="4.86"/><circle cx="640.5" cy="959.2" r="4.86"/><circle cx="648.0" cy="959.2" r="4.86"/><circle cx="655.6" cy="959.2" r="4.86"/><circle cx="75.6" cy="1145.5" r="4.86"/><circle cx="79.0" cy="1145.5" r="4.86"/><circle cx="82.5" cy="1145.5" r="4.86"/><circle cx="86.0" cy="1145.5" r="4.86"/><circle cx="89.5" cy="1145.5" r="4.86"/><circle cx="93.0" cy="1145.5" r="4.86"/><circle cx="96.5" cy="1145.5" r="4.86"/><circle cx="100.0" cy="1145.5" r="4.86"/><circle cx="199.4" cy="1145.5" r="4.86"/><circle cx="202.0" cy="1145.5" r="4.86"/><circle cx="246.2" cy="1145.5" r="4.86"/><circle cx="280.0" cy="1145.5" r="4.86"/><circle cx="285.6" cy="1145.5" r="4.86"/><circle cx="340.0" cy="1145.5" r="4.86"/><circle cx="85.0" cy="1065.3" r="4.86"/><circle cx="98.9" cy="1065.3" r="4.86"/><circle cx="109.4" cy="1065.3" r="4.86"/><circle cx="189.2" cy="1065.3" r="4.86"/><circle cx="198.6" cy="1065.3" r="4.86"/><circle cx="205.0" cy="1065.3" r="4.86"/><circle cx="210.0" cy="1065.3" r="4.86"/><circle cx="216.0" cy="1065.3" r="4.86"/><circle cx="221.0" cy="1065.3" r="4.86"/><circle cx="227.5" cy="1065.3" r="4.86"/><circle cx="250.0" cy="1065.3" r="4.86"/><circle cx="259.4" cy="1065.3" r="4.86"/><circle cx="270.6" cy="1065.3" r="4.86"/><circle cx="279.2" cy="1065.3" r="4.86"/><circle cx="296.9" cy="1065.3" r="4.86"/><circle cx="301.5" cy="1065.3" r="4.86"/><circle cx="306.0" cy="1065.3" r="4.86"/><circle cx="310.5" cy="1065.3" r="4.86"/><circle cx="315.0" cy="1065.3" r="4.86"/><circle cx="319.5" cy="1065.3" r="4.86"/><circle cx="324.0" cy="1065.3" r="4.86"/><circle cx="330.6" cy="1065.3" r="4.86"/><circle cx="96.2" cy="1018.3" r="4.86"/><circle cx="111.2" cy="1018.3" r="4.86"/><circle cx="132.6" cy="1018.3" r="4.86"/><circle cx="156.2" cy="1018.3" r="4.86"/><circle cx="190.0" cy="1018.3" r="4.86"/><circle cx="202.0" cy="1018.3" r="4.86"/><circle cx="205.0" cy="1018.3" r="4.86"/><circle cx="219.2" cy="1018.3" r="4.86"/><circle cx="223.0" cy="1018.3" r="4.86"/><circle cx="227.0" cy="1018.3" r="4.86"/><circle cx="231.2" cy="1018.3" r="4.86"/><circle cx="240.6" cy="1018.3" r="4.86"/><circle cx="246.0" cy="1018.3" r="4.86"/><circle cx="251.5" cy="1018.3" r="4.86"/><circle cx="257.0" cy="1018.3" r="4.86"/><circle cx="263.1" cy="1018.3" r="4.86"/><circle cx="274.4" cy="1018.3" r="4.86"/><circle cx="279.0" cy="1018.3" r="4.86"/><circle cx="284.0" cy="1018.3" r="4.86"/><circle cx="289.0" cy="1018.3" r="4.86"/><circle cx="294.0" cy="1018.3" r="4.86"/><circle cx="298.7" cy="1018.3" r="4.86"/><circle cx="310.0" cy="1018.3" r="4.86"/><circle cx="316.0" cy="1018.3" r="4.86"/><circle cx="322.0" cy="1018.3" r="4.86"/><circle cx="328.0" cy="1018.3" r="4.86"/><circle cx="334.0" cy="1018.3" r="4.86"/><circle cx="340.0" cy="1018.3" r="4.86"/><circle cx="88.7" cy="985.1" r="4.86"/><circle cx="158.1" cy="985.1" r="4.86"/><circle cx="169.4" cy="985.1" r="4.86"/><circle cx="174.0" cy="985.1" r="4.86"/><circle cx="178.5" cy="985.1" r="4.86"/><circle cx="183.0" cy="985.1" r="4.86"/><circle cx="187.5" cy="985.1" r="4.86"/><circle cx="192.0" cy="985.1" r="4.86"/><circle cx="196.5" cy="985.1" r="4.86"/><circle cx="201.0" cy="985.1" r="4.86"/><circle cx="205.0" cy="985.1" r="4.86"/><circle cx="212.5" cy="985.1" r="4.86"/><circle cx="225.6" cy="985.1" r="4.86"/><circle cx="253.0" cy="985.1" r="4.86"/><circle cx="263.9" cy="985.1" r="4.86"/><circle cx="269.5" cy="985.1" r="4.86"/><circle cx="274.4" cy="985.1" r="4.86"/><circle cx="291.2" cy="985.1" r="4.86"/><circle cx="304.4" cy="985.1" r="4.86"/><circle cx="336.2" cy="985.1" r="4.86"/><circle cx="101.9" cy="959.2" r="4.86"/><circle cx="104.5" cy="959.2" r="4.86"/><circle cx="128.9" cy="959.2" r="4.86"/><circle cx="146.9" cy="959.2" r="4.86"/><circle cx="156.2" cy="959.2" r="4.86"/><circle cx="162.0" cy="959.2" r="4.86"/><circle cx="167.5" cy="959.2" r="4.86"/><circle cx="173.1" cy="959.2" r="4.86"/><circle cx="184.4" cy="959.2" r="4.86"/><circle cx="195.6" cy="959.2" r="4.86"/><circle cx="222.6" cy="959.2" r="4.86"/><circle cx="231.2" cy="959.2" r="4.86"/><circle cx="236.9" cy="959.2" r="4.86"/><circle cx="255.6" cy="959.2" r="4.86"/><circle cx="265.0" cy="959.2" r="4.86"/><circle cx="269.5" cy="959.2" r="4.86"/><circle cx="305.5" cy="959.2" r="4.86"/><circle cx="315.6" cy="959.2" r="4.86"/><circle cx="323.1" cy="959.2" r="4.86"/><circle cx="332.5" cy="959.2" r="4.86"/><circle cx="115.0" cy="938.1" r="4.86"/><circle cx="120.6" cy="938.1" r="4.86"/><circle cx="130.0" cy="938.1" r="4.86"/><circle cx="143.1" cy="938.1" r="4.86"/><circle cx="148.7" cy="938.1" r="4.86"/><circle cx="154.0" cy="938.1" r="4.86"/><circle cx="160.0" cy="938.1" r="4.86"/><circle cx="165.6" cy="938.1" r="4.86"/><circle cx="175.7" cy="938.1" r="4.86"/><circle cx="214.4" cy="938.1" r="4.86"/><circle cx="221.9" cy="938.1" r="4.86"/><circle cx="233.1" cy="938.1" r="4.86"/><circle cx="237.6" cy="938.1" r="4.86"/><circle cx="250.0" cy="938.1" r="4.86"/><circle cx="255.6" cy="938.1" r="4.86"/><circle cx="261.0" cy="938.1" r="4.86"/><circle cx="266.9" cy="938.1" r="4.86"/><circle cx="285.6" cy="938.1" r="4.86"/><circle cx="293.1" cy="938.1" r="4.86"/><circle cx="305.5" cy="938.1" r="4.86"/><circle cx="314.5" cy="938.1" r="4.86"/><circle cx="100.0" cy="920.3" r="4.86"/><circle cx="113.9" cy="920.3" r="4.86"/><circle cx="118.4" cy="920.3" r="4.86"/><circle cx="122.9" cy="920.3" r="4.86"/><circle cx="127.4" cy="920.3" r="4.86"/><circle cx="131.9" cy="920.3" r="4.86"/><circle cx="148.7" cy="920.3" r="4.86"/><circle cx="161.9" cy="920.3" r="4.86"/><circle cx="184.4" cy="920.3" r="4.86"/><circle cx="193.0" cy="920.3" r="4.86"/><circle cx="347.1" cy="904.8" r="4.86"/><circle cx="362.6" cy="904.8" r="4.86"/><circle cx="346.2" cy="920.3" r="4.86"/><circle cx="349.9" cy="920.3" r="4.86"/><circle cx="380.7" cy="920.3" r="4.86"/><circle cx="341.6" cy="938.1" r="4.86"/><circle cx="368.4" cy="938.1" r="4.86"/><circle cx="344.7" cy="959.2" r="4.86"/><circle cx="351.8" cy="959.2" r="4.86"/><circle cx="355.5" cy="985.1" r="4.86"/><circle cx="349.3" cy="1018.3" r="4.86"/><circle cx="358.5" cy="1018.3" r="4.86"/><circle cx="353.3" cy="1065.3" r="4.86"/><circle cx="338.5" cy="1145.5" r="4.86"/><circle cx="344.7" cy="1145.5" r="4.86"/><circle cx="486.2" cy="904.8" r="4.86"/><circle cx="410.3" cy="659.8" r="4.86"/><circle cx="421.6" cy="683.5" r="4.86"/><circle cx="403.6" cy="707.4" r="4.86"/><circle cx="412.9" cy="709.5" r="4.86"/><circle cx="418.3" cy="709.5" r="4.86"/><circle cx="401.5" cy="718.1" r="4.86"/><circle cx="428.5" cy="718.1" r="4.86"/><circle cx="395.2" cy="734.5" r="4.86"/><circle cx="389.1" cy="740.2" r="4.86"/><circle cx="403.8" cy="739.9" r="4.86"/><circle cx="405.3" cy="744.8" r="4.86"/><circle cx="431.3" cy="734.5" r="4.86"/><circle cx="434.6" cy="729.0" r="4.86"/><circle cx="382.2" cy="759.2" r="4.86"/><circle cx="390.8" cy="759.2" r="4.86"/><circle cx="399.3" cy="759.2" r="4.86"/><circle cx="418.3" cy="758.9" r="4.86"/><circle cx="423.1" cy="764.0" r="4.86"/><circle cx="430.2" cy="755.0" r="4.86"/><circle cx="383.7" cy="768.6" r="4.86"/><circle cx="387.4" cy="773.4" r="4.86"/><circle cx="422.7" cy="772.8" r="4.86"/><circle cx="414.0" cy="777.0" r="4.86"/><circle cx="367.5" cy="782.5" r="4.86"/><circle cx="386.3" cy="782.5" r="4.86"/><circle cx="392.4" cy="782.5" r="4.86"/><circle cx="396.7" cy="782.5" r="4.86"/><circle cx="411.8" cy="782.5" r="4.86"/><circle cx="427.4" cy="782.5" r="4.86"/><circle cx="377.2" cy="787.5" r="4.86"/><circle cx="381.1" cy="793.2" r="4.86"/><circle cx="399.9" cy="793.2" r="4.86"/><circle cx="417.3" cy="793.2" r="4.86"/><circle cx="434.6" cy="793.2" r="4.86"/><circle cx="376.1" cy="811.2" r="4.86"/><circle cx="393.9" cy="811.2" r="4.86"/><circle cx="390.2" cy="817.2" r="4.86"/><circle cx="369.2" cy="824.2" r="4.86"/><circle cx="425.5" cy="824.2" r="4.86"/><circle cx="365.3" cy="840.5" r="4.86"/><circle cx="370.0" cy="840.5" r="4.86"/><circle cx="374.4" cy="840.5" r="4.86"/><circle cx="359.5" cy="848.5" r="4.86"/><circle cx="398.2" cy="848.5" r="4.86"/><circle cx="372.2" cy="857.8" r="4.86"/><circle cx="385.2" cy="857.8" r="4.86"/><circle cx="355.6" cy="868.0" r="4.86"/><circle cx="360.5" cy="868.0" r="4.86"/><circle cx="407.5" cy="868.0" r="4.86"/><circle cx="363.1" cy="879.5" r="4.86"/><circle cx="378.3" cy="879.5" r="4.86"/><circle cx="354.0" cy="891.4" r="4.86"/><circle cx="364.2" cy="891.4" r="4.86"/><circle cx="427.0" cy="891.4" r="4.86"/><circle cx="431.3" cy="891.4" r="4.86"/><circle cx="447.7" cy="700.5" r="4.86"/><circle cx="428.9" cy="718.2" r="4.86"/><circle cx="439.7" cy="715.6" r="4.86"/><circle cx="448.4" cy="721.5" r="4.86"/><circle cx="458.6" cy="723.6" r="4.86"/><circle cx="468.3" cy="724.2" r="4.86"/><circle cx="459.6" cy="730.1" r="4.86"/><circle cx="466.1" cy="734.5" r="4.86"/><circle cx="467.2" cy="740.2" r="4.86"/><circle cx="435.4" cy="729.0" r="4.86"/><circle cx="431.5" cy="734.5" r="4.86"/><circle cx="436.9" cy="739.9" r="4.86"/><circle cx="441.2" cy="744.1" r="4.86"/><circle cx="434.7" cy="751.1" r="4.86"/><circle cx="429.8" cy="756.1" r="4.86"/><circle cx="449.9" cy="751.1" r="4.86"/><circle cx="454.7" cy="751.1" r="4.86"/><circle cx="457.5" cy="755.5" r="4.86"/><circle cx="470.5" cy="751.1" r="4.86"/><circle cx="492.6" cy="748.0" r="4.86"/><circle cx="475.9" cy="758.2" r="4.86"/><circle cx="483.5" cy="759.0" r="4.86"/><circle cx="474.4" cy="764.8" r="4.86"/><circle cx="462.2" cy="768.5" r="4.86"/><circle cx="440.2" cy="773.5" r="4.86"/><circle cx="428.2" cy="782.5" r="4.86"/><circle cx="444.5" cy="782.5" r="4.86"/><circle cx="449.9" cy="787.5" r="4.86"/><circle cx="461.4" cy="787.5" r="4.86"/><circle cx="476.3" cy="787.5" r="4.86"/><circle cx="485.2" cy="782.5" r="4.86"/><circle cx="494.3" cy="782.5" r="4.86"/><circle cx="436.3" cy="793.4" r="4.86"/><circle cx="445.6" cy="798.4" r="4.86"/><circle cx="526.3" cy="793.4" r="4.86"/><circle cx="521.4" cy="798.4" r="4.86"/><circle cx="503.4" cy="804.1" r="4.86"/><circle cx="479.6" cy="811.4" r="4.86"/><circle cx="490.0" cy="811.4" r="4.86"/><circle cx="494.3" cy="811.4" r="4.86"/><circle cx="502.5" cy="811.4" r="4.86"/><circle cx="516.0" cy="811.4" r="4.86"/><circle cx="520.3" cy="811.4" r="4.86"/><circle cx="443.4" cy="817.4" r="4.86"/><circle cx="452.5" cy="817.4" r="4.86"/><circle cx="463.5" cy="817.4" r="4.86"/><circle cx="477.0" cy="817.4" r="4.86"/><circle cx="484.6" cy="817.4" r="4.86"/><circle cx="513.4" cy="817.4" r="4.86"/><circle cx="426.1" cy="824.4" r="4.86"/><circle cx="510.5" cy="824.4" r="4.86"/><circle cx="512.7" cy="824.4" r="4.86"/><circle cx="453.2" cy="832.4" r="4.86"/><circle cx="481.3" cy="832.4" r="4.86"/><circle cx="511.6" cy="832.4" r="4.86"/><circle cx="519.2" cy="832.4" r="4.86"/><circle cx="472.6" cy="840.5" r="4.86"/><circle cx="495.4" cy="840.5" r="4.86"/><circle cx="506.9" cy="840.5" r="4.86"/><circle cx="524.6" cy="840.5" r="4.86"/><circle cx="456.4" cy="848.5" r="4.86"/><circle cx="488.9" cy="848.5" r="4.86"/><circle cx="497.5" cy="848.5" r="4.86"/><circle cx="517.7" cy="848.5" r="4.86"/><circle cx="534.4" cy="848.5" r="4.86"/><circle cx="471.6" cy="858.5" r="4.86"/><circle cx="480.2" cy="858.5" r="4.86"/><circle cx="499.7" cy="858.5" r="4.86"/><circle cx="504.0" cy="868.0" r="4.86"/><circle cx="508.4" cy="868.0" r="4.86"/><circle cx="522.4" cy="868.0" r="4.86"/><circle cx="528.9" cy="868.0" r="4.86"/><circle cx="498.6" cy="891.5" r="4.86"/></g>
</g>
<line x1="47.72" x2="50.5" y1="1065.50" y2="1065.50" stroke="#000" stroke-width="0.83"/>
<line x1="47.72" x2="50.5" y1="1018.50" y2="1018.50" stroke="#000" stroke-width="0.83"/>
<line x1="47.72" x2="50.5" y1="985.50" y2="985.50" stroke="#000" stroke-width="0.83"/>
<line x1="47.72" x2="50.5" y1="959.50" y2="959.50" stroke="#000" stroke-width="0.83"/>
<line x1="47.72" x2="50.5" y1="938.50" y2="938.50" stroke="#000" stroke-width="0.83"/>
<line x1="47.72" x2="50.5" y1="920.50" y2="920.50" stroke="#000" stroke-width="0.83"/>
<line x1="47.72" x2="50.5" y1="904.50" y2="904.50" stroke="#000" stroke-width="0.83"/>
<line x1="47.72" x2="50.5" y1="891.50" y2="891.50" stroke="#000" stroke-width="0.83"/>
<line x1="47.72" x2="50.5" y1="798.50" y2="798.50" stroke="#000" stroke-width="0.83"/>
<line x1="47.72" x2="50.5" y1="751.50" y2="751.50" stroke="#000" stroke-width="0.83"/>
<line x1="47.72" x2="50.5" y1="718.50" y2="718.50" stroke="#000" stroke-width="0.83"/>
<line x1="47.72" x2="50.5" y1="692.50" y2="692.50" stroke="#000" stroke-width="0.83"/>
<line x1="47.72" x2="50.5" y1="671.50" y2="671.50" stroke="#000" stroke-width="0.83"/>
<line x1="47.72" x2="50.5" y1="653.50" y2="653.50" stroke="#000" stroke-width="0.83"/>
<line x1="47.72" x2="50.5" y1="638.50" y2="638.50" stroke="#000" stroke-width="0.83"/>
<line x1="47.72" x2="50.5" y1="624.50" y2="624.50" stroke="#000" stroke-width="0.83"/>
<line x1="45.64" x2="50.5" y1="1145.50" y2="1145.50" stroke="#000" stroke-width="1.11"/>
<text x="39.80" y="1151.80" text-anchor="end">10<tspan font-size="9.72px" dy="-5.3">0</tspan></text>
<line x1="45.64" x2="50.5" y1="879.50" y2="879.50" stroke="#000" stroke-width="1.11"/>
<text x="39.80" y="885.80" text-anchor="end">10<tspan font-size="9.72px" dy="-5.3">1</tspan></text>
<line x1="45.64" x2="50.5" y1="612.50" y2="612.50" stroke="#000" stroke-width="1.11"/>
<text x="39.80" y="618.80" text-anchor="end">10<tspan font-size="9.72px" dy="-5.3">2</tspan></text>
<line x1="86.50" x2="86.50" y1="1145.5" y2="1150.36" stroke="#000" stroke-width="1.11"/>
<line x1="125.50" x2="125.50" y1="1145.5" y2="1148.28" stroke="#000" stroke-width="0.83"/>
<line x1="165.50" x2="165.50" y1="1145.5" y2="1148.28" stroke="#000" stroke-width="0.83"/>
<line x1="203.50" x2="203.50" y1="1145.5" y2="1150.36" stroke="#000" stroke-width="1.11"/>
<line x1="243.50" x2="243.50" y1="1145.5" y2="1148.28" stroke="#000" stroke-width="0.83"/>
<line x1="283.50" x2="283.50" y1="1145.5" y2="1148.28" stroke="#000" stroke-width="0.83"/>
<line x1="322.50" x2="322.50" y1="1145.5" y2="1150.36" stroke="#000" stroke-width="1.11"/>
<line x1="362.50" x2="362.50" y1="1145.5" y2="1148.28" stroke="#000" stroke-width="0.83"/>
<line x1="400.50" x2="400.50" y1="1145.5" y2="1148.28" stroke="#000" stroke-width="0.83"/>
<line x1="440.50" x2="440.50" y1="1145.5" y2="1150.36" stroke="#000" stroke-width="1.11"/>
<line x1="480.50" x2="480.50" y1="1145.5" y2="1148.28" stroke="#000" stroke-width="0.83"/>
<line x1="516.50" x2="516.50" y1="1145.5" y2="1148.28" stroke="#000" stroke-width="0.83"/>
<line x1="556.50" x2="556.50" y1="1145.5" y2="1150.36" stroke="#000" stroke-width="1.11"/>
<line x1="594.50" x2="594.50" y1="1145.5" y2="1148.28" stroke="#000" stroke-width="0.83"/>
<line x1="634.50" x2="634.50" y1="1145.5" y2="1148.28" stroke="#000" stroke-width="0.83"/>
<line x1="673.50" x2="673.50" y1="1145.5" y2="1150.36" stroke="#000" stroke-width="1.11"/>
<line x1="713.50" x2="713.50" y1="1145.5" y2="1148.28" stroke="#000" stroke-width="0.83"/>
<line x1="753.50" x2="753.50" y1="1145.5" y2="1148.28" stroke="#000" stroke-width="0.83"/>
<line x1="50.50" x2="50.50" y1="1145.5" y2="1150.36" stroke="#000" stroke-width="1.11"/>
<line x1="785.50" x2="785.50" y1="1145.5" y2="1150.36" stroke="#000" stroke-width="1.11"/>
<rect x="50.5" y="593.5" width="735.0" height="552.0" fill="none" stroke="#000" stroke-width="1.11"/>
<rect x="57.44" y="600.44" width="135.01" height="24.7" rx="2.78" fill="#fff" fill-opacity="0.8" stroke="#ccc" stroke-width="1.39"/>
<line x1="62.00" x2="91.38" y1="611.94" y2="611.94" stroke="#1f77b4" stroke-width="2.08" stroke-linecap="butt"/>
<text x="100.69" y="615.84">daily deaths</text>
<text x="73.79" y="1166.3">A<tspan dx="-1.25">p</tspan>r</text>
<text x="203.68" y="1166.3" text-anchor="middle">Jul</text>
<text x="322.10" y="1166.3" text-anchor="middle">Oct</text>
<text x="440.53" y="1166.3" text-anchor="middle">Jan</text>
<text x="440.53" y="1181.8" text-anchor="middle">2021</text>
<text x="543.63" y="1166.3">A<tspan dx="-1.25">p</tspan>r</text>
<text x="673.51" y="1166.3" text-anchor="middle">Jul</text>
<text x="397.4" y="36.2" text-anchor="middle" font-size="16.67px">New Mexico 28 days</text>
</svg>
</body></html>
